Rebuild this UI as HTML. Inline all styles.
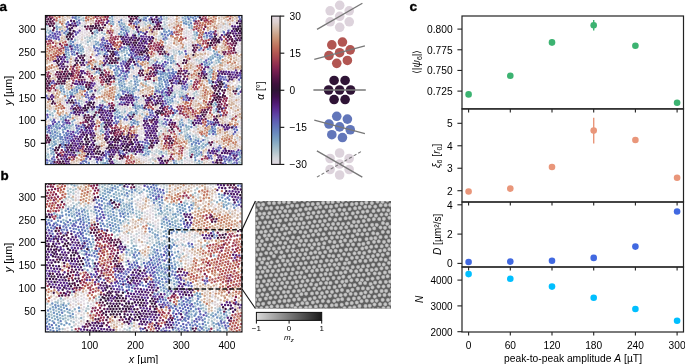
<!DOCTYPE html>
<html><head><meta charset="utf-8"><style>html,body{margin:0;padding:0;background:#fff;width:685px;height:364px;overflow:hidden}svg{display:block;will-change:transform}text{font-family:"Liberation Sans",sans-serif}</style></head>
<body><svg width="685" height="364" viewBox="0 0 685 364" font-family="Liberation Sans, sans-serif"><defs><clipPath id="clip1"><rect x="45.4" y="15.5" width="196.6" height="149.1"/></clipPath><clipPath id="clip2"><rect x="45.4" y="183.7" width="196.6" height="148.3"/></clipPath><linearGradient id="twg" x1="0" y1="0" x2="0" y2="1"><stop offset="0.000" stop-color="#e2d9e2"/><stop offset="0.042" stop-color="#ddd0ce"/><stop offset="0.083" stop-color="#d4bcac"/><stop offset="0.125" stop-color="#cca389"/><stop offset="0.167" stop-color="#c68a6d"/><stop offset="0.208" stop-color="#be6f5b"/><stop offset="0.250" stop-color="#b25652"/><stop offset="0.292" stop-color="#a24050"/><stop offset="0.333" stop-color="#8e2c50"/><stop offset="0.375" stop-color="#741e4f"/><stop offset="0.417" stop-color="#581647"/><stop offset="0.458" stop-color="#3f123d"/><stop offset="0.500" stop-color="#2f1436"/><stop offset="0.542" stop-color="#3d114d"/><stop offset="0.583" stop-color="#4e186f"/><stop offset="0.625" stop-color="#592a8f"/><stop offset="0.667" stop-color="#5e43a5"/><stop offset="0.708" stop-color="#5f5eb3"/><stop offset="0.750" stop-color="#6276ba"/><stop offset="0.792" stop-color="#6b8cbf"/><stop offset="0.833" stop-color="#7ba1c2"/><stop offset="0.875" stop-color="#95b5c7"/><stop offset="0.917" stop-color="#b3c6ce"/><stop offset="0.958" stop-color="#d1d5da"/><stop offset="1.000" stop-color="#e2d9e2"/></linearGradient><radialGradient id="spot"><stop offset="0" stop-color="#cdcdcd"/><stop offset="0.4" stop-color="#c4c4c4"/><stop offset="0.72" stop-color="#969696"/><stop offset="1" stop-color="#5e5e5e" stop-opacity="0"/></radialGradient><clipPath id="gclip"><rect x="255.4" y="201.0" width="135.6" height="107.5"/></clipPath><linearGradient id="gg" x1="0" x2="1"><stop offset="0" stop-color="#dadada"/><stop offset="1" stop-color="#1a1a1a"/></linearGradient></defs><g stroke-width="2.45" stroke-linecap="round" fill="none" clip-path="url(#clip1)"><path d="M96.5 59.8h.01M133.8 70.8h.01M234.8 24.6h.01M187.2 162.4h.01M87.0 31.5h.01M79.9 27.5h.01M126.3 15.7h.01M187.3 165.2h.01M94.3 55.8h.01M178.9 59.4h.01M171.9 21.4h.01M51.5 62.1h.01M179.1 89.2h.01M198.2 159.8h.01M89.0 52.1h.01M216.3 144.5h.01M100.1 99.8h.01M158.7 56.0h.01M73.2 63.6h.01M220.5 127.3h.01M171.2 48.6h.01M172.2 29.3h.01M188.8 37.0h.01M84.3 35.8h.01M184.7 155.5h.01M220.5 29.4h.01M184.1 34.3h.01M237.6 143.6h.01M196.7 64.0h.01M131.7 33.2h.01M180.3 45.8h.01M190.5 92.7h.01M175.8 98.6h.01M221.1 42.6h.01M68.7 60.5h.01M124.1 121.1h.01M209.4 148.5h.01M186.5 35.8h.01M144.0 138.2h.01M167.4 158.9h.01M94.8 53.2h.01M221.2 151.2h.01M178.0 97.0h.01M204.5 56.2h.01M209.4 137.9h.01M66.5 107.8h.01M169.0 41.6h.01M141.5 131.4h.01M186.6 122.4h.01M241.0 98.0h.01M97.1 103.3h.01M200.4 158.5h.01M107.8 26.5h.01M188.9 39.6h.01M82.4 23.4h.01M160.8 116.0h.01M82.6 67.8h.01M242.4 140.8h.01M151.7 65.5h.01M224.6 69.2h.01M204.3 58.8h.01M99.9 37.4h.01M98.9 55.8h.01M104.2 68.6h.01M131.4 30.7h.01M138.0 92.2h.01M80.2 116.0h.01M142.9 24.0h.01M128.7 19.7h.01M213.9 137.6h.01M95.2 93.0h.01M238.8 102.0h.01M58.0 119.0h.01M136.4 72.2h.01M201.5 51.0h.01M126.9 113.5h.01M144.0 159.9h.01M239.9 142.1h.01M79.8 35.6h.01M89.0 54.8h.01M200.4 155.8h.01M171.1 53.7h.01M50.3 117.4h.01M229.8 26.6h.01M119.4 16.9h.01M68.7 63.5h.01M139.2 130.3h.01M241.8 80.7h.01M121.5 15.5h.01M84.8 32.8h.01M167.3 156.4h.01M66.5 64.8h.01M227.7 114.7h.01M242.1 143.5h.01M141.7 155.8h.01M51.3 110.1h.01M196.8 51.1h.01M60.4 120.6h.01M206.9 147.3h.01M217.2 50.3h.01M144.1 130.0h.01M123.7 164.8h.01M129.0 118.6h.01M235.9 49.0h.01M189.5 158.3h.01M79.9 32.9h.01M194.9 130.4h.01M162.9 119.9h.01M174.7 30.7h.01M168.4 15.7h.01M93.2 88.9h.01M191.8 58.8h.01M73.0 47.8h.01M184.2 126.4h.01M71.3 105.0h.01M162.7 159.1h.01" stroke="#e2d9e2"/><path d="M168.9 52.4h.01M75.2 38.4h.01M150.7 162.1h.01M97.7 94.3h.01M166.9 22.9h.01M179.0 20.5h.01M207.8 69.7h.01M211.7 136.3h.01M213.9 62.2h.01M105.7 65.4h.01M224.8 66.3h.01M188.9 45.2h.01M192.5 134.6h.01M146.0 164.1h.01M93.7 44.1h.01M229.7 84.7h.01M120.2 108.8h.01M84.5 24.8h.01M50.5 155.7h.01M240.9 133.6h.01M140.7 25.4h.01M181.2 58.3h.01M201.0 102.7h.01M121.7 18.4h.01M148.6 159.9h.01M94.5 162.7h.01M121.3 163.4h.01M187.2 154.1h.01M95.4 116.6h.01M188.2 91.5h.01M139.9 113.4h.01M129.2 70.6h.01M184.2 123.9h.01M232.0 130.0h.01M238.2 50.6h.01M194.0 128.2h.01M189.2 145.1h.01M58.1 116.6h.01M173.0 15.8h.01M50.3 29.1h.01M137.4 115.3h.01M143.0 21.5h.01M236.5 98.0h.01M115.9 82.6h.01M83.1 42.6h.01M191.7 159.8h.01M240.5 51.8h.01M196.5 99.4h.01M194.8 164.3h.01M122.5 110.2h.01M242.0 83.3h.01M114.7 30.4h.01M120.1 106.2h.01M119.1 162.3h.01M45.5 150.4h.01M92.5 92.9h.01M192.6 94.2h.01M97.9 117.8h.01M134.9 118.9h.01M139.5 110.4h.01M153.6 59.3h.01M99.6 128.3h.01M92.2 164.4h.01M77.7 36.9h.01M52.9 118.3h.01M153.6 84.6h.01M160.8 118.8h.01M151.3 80.4h.01M126.5 83.6h.01M142.2 111.6h.01M183.3 91.4h.01M187.2 159.7h.01M115.0 100.9h.01M126.2 18.2h.01M208.8 160.0h.01M102.5 36.3h.01M192.8 35.5h.01M114.7 165.2h.01M161.0 38.1h.01M186.5 30.4h.01M206.9 164.4h.01M114.6 17.0h.01M227.4 28.0h.01M196.4 61.4h.01M141.5 137.1h.01M139.1 103.5h.01M241.0 103.4h.01M126.3 21.1h.01M81.1 41.4h.01M223.0 25.5h.01M236.3 95.1h.01M141.6 158.6h.01M176.8 85.3h.01M178.2 47.1h.01M151.6 83.1h.01M140.6 22.9h.01M90.3 94.3h.01M88.8 49.2h.01M86.7 50.7h.01M87.5 79.1h.01M179.0 15.1h.01M222.7 28.0h.01M126.9 107.3h.01M183.2 56.9h.01M209.4 146.0h.01M214.0 146.0h.01M98.7 58.5h.01M186.4 49.3h.01M85.0 69.3h.01M96.8 38.7h.01M91.3 45.3h.01M71.2 129.0h.01M196.4 129.4h.01M68.8 106.4h.01M216.5 113.6h.01M89.2 160.4h.01M220.6 31.9h.01M161.3 133.8h.01M104.2 31.1h.01M188.6 53.2h.01M171.2 163.7h.01M114.5 22.3h.01M174.6 89.0h.01M218.0 30.8h.01M91.4 42.7h.01M58.9 86.5h.01M124.3 123.8h.01M98.6 142.4h.01M189.5 160.9h.01M121.6 160.9h.01M139.2 135.5h.01M115.1 103.5h.01M238.0 45.1h.01M240.8 128.2h.01M210.3 86.3h.01M131.9 72.2h.01M83.2 15.2h.01M59.3 89.0h.01M177.5 131.4h.01M86.7 58.8h.01M238.8 96.7h.01M99.7 34.3h.01M95.8 131.0h.01M96.3 84.7h.01M229.6 134.0h.01M177.2 93.1h.01M189.5 163.6h.01M85.7 43.8h.01M94.0 160.1h.01M92.0 161.6h.01M77.6 39.7h.01M47.3 146.4h.01M166.9 25.9h.01M84.0 102.5h.01M186.4 33.0h.01M168.6 162.2h.01M165.0 27.1h.01M225.0 21.3h.01M116.9 78.4h.01M171.2 43.0h.01M47.8 151.7h.01M85.4 40.9h.01M194.5 43.9h.01M154.5 151.1h.01M171.3 51.0h.01M157.0 145.7h.01M189.6 147.9h.01M205.5 142.2h.01M220.6 60.3h.01M230.1 116.0h.01M188.6 82.8h.01M159.8 94.1h.01M79.9 24.8h.01M165.4 45.6h.01M82.0 106.8h.01M163.2 59.0h.01M236.4 133.7h.01M236.5 87.2h.01M104.3 130.5h.01M66.5 105.1h.01M232.4 117.3h.01M225.1 131.3h.01M183.4 54.4h.01M227.2 67.6h.01M80.6 125.2h.01M198.9 95.2h.01M184.7 113.2h.01M53.7 109.1h.01M158.0 53.6h.01M84.8 113.1h.01M119.3 30.3h.01M139.2 154.5h.01M97.6 65.0h.01M124.1 22.1h.01M143.3 26.0h.01M227.6 25.3h.01M127.7 109.0h.01" stroke="#d5d6dc"/><path d="M195.4 36.7h.01M62.1 93.7h.01M49.8 111.7h.01M148.4 85.3h.01M174.2 54.5h.01M97.8 91.8h.01M89.7 112.3h.01M152.6 158.0h.01M118.9 91.0h.01M197.0 94.5h.01M116.5 89.6h.01M124.1 113.2h.01M96.7 36.0h.01M174.5 91.9h.01M143.5 82.9h.01M229.8 29.5h.01M115.3 106.3h.01M238.4 121.5h.01M58.4 145.0h.01M199.0 60.7h.01M102.7 54.5h.01M97.3 62.4h.01M242.8 47.6h.01M166.6 20.1h.01M165.9 67.2h.01M117.2 163.7h.01M67.1 90.5h.01M152.1 152.6h.01M164.2 19.0h.01M158.7 36.6h.01M121.9 114.8h.01M214.3 64.8h.01M93.5 41.4h.01M80.9 44.0h.01M184.8 134.4h.01M237.4 138.3h.01M151.7 63.0h.01M185.8 92.6h.01M182.0 162.8h.01M156.5 152.0h.01M133.8 85.1h.01M87.6 39.7h.01M58.4 20.6h.01M139.3 122.1h.01M239.7 82.1h.01M230.2 118.8h.01M170.3 118.5h.01M167.3 28.3h.01M164.3 21.9h.01M92.3 39.1h.01M92.1 111.0h.01M129.0 123.8h.01M113.6 84.0h.01M77.4 154.8h.01M117.7 107.2h.01M159.0 132.9h.01M141.5 16.2h.01M85.0 38.1h.01M156.6 149.7h.01M208.3 75.7h.01M167.5 128.3h.01M188.8 139.8h.01M159.2 151.0h.01M81.8 104.0h.01M143.8 97.9h.01M176.5 53.2h.01M96.4 144.0h.01M101.1 85.8h.01M58.5 142.3h.01M148.0 22.7h.01M158.7 39.4h.01M56.4 24.9h.01M197.1 163.0h.01M73.6 129.9h.01M158.3 59.0h.01M130.2 152.1h.01M213.7 109.8h.01M186.0 46.5h.01M173.8 52.0h.01M184.2 129.1h.01M186.8 132.8h.01M193.6 139.3h.01M116.8 161.1h.01M87.4 36.9h.01M95.6 119.4h.01M157.2 93.0h.01M175.4 61.5h.01M132.0 89.3h.01M56.0 22.5h.01M150.4 159.5h.01M181.5 90.0h.01M136.9 104.6h.01M194.6 161.7h.01M129.2 85.6h.01M192.9 38.3h.01M92.2 113.4h.01M239.2 164.4h.01M68.8 42.5h.01M179.4 161.6h.01M88.1 44.9h.01M47.5 27.7h.01M164.0 153.1h.01M207.9 140.7h.01M58.5 23.6h.01M114.8 162.8h.01M151.3 60.0h.01M118.3 83.7h.01M121.8 112.1h.01M222.8 30.9h.01M149.6 64.4h.01M170.7 69.4h.01M146.3 155.9h.01M73.4 127.4h.01M121.9 53.3h.01M154.5 153.9h.01M176.8 90.5h.01M214.1 143.2h.01M103.8 125.4h.01M173.5 49.9h.01M124.6 108.7h.01M168.0 65.6h.01M100.1 93.3h.01M131.2 83.7h.01M95.1 63.9h.01M218.9 152.6h.01M160.5 32.6h.01M82.3 26.3h.01M160.7 35.3h.01M204.7 39.1h.01M190.2 133.2h.01M141.2 99.4h.01M183.5 94.0h.01M197.1 165.5h.01M208.5 78.5h.01M225.4 24.0h.01M116.6 92.4h.01M199.3 63.3h.01M201.5 61.9h.01M241.2 160.2h.01M175.6 101.1h.01M163.4 56.2h.01M103.0 103.8h.01M122.3 56.1h.01M80.7 16.5h.01M156.0 57.8h.01M176.2 50.5h.01M159.9 126.0h.01M100.5 102.6h.01M99.0 87.4h.01M212.0 66.5h.01M162.5 25.9h.01M173.4 102.7h.01M207.5 137.9h.01M189.1 85.5h.01M177.6 114.3h.01M65.9 38.8h.01M162.7 126.2h.01M181.8 95.2h.01M195.7 134.8h.01M173.2 63.0h.01M144.8 115.4h.01M68.7 103.4h.01M94.4 109.4h.01M144.5 22.7h.01M208.0 73.1h.01M236.5 158.1h.01M193.9 147.3h.01M82.4 114.6h.01M129.9 28.5h.01M133.5 30.8h.01M134.1 98.3h.01" stroke="#bfccd3"/><path d="M181.3 87.9h.01M159.5 123.3h.01M205.2 139.6h.01M166.2 151.6h.01M56.8 130.5h.01M100.7 162.0h.01M178.0 102.2h.01M162.0 124.3h.01M46.1 158.5h.01M71.1 126.3h.01M238.7 86.0h.01M143.2 80.1h.01M168.3 68.4h.01M133.9 33.6h.01M189.8 153.2h.01M115.9 85.1h.01M119.2 93.6h.01M201.9 148.6h.01M162.0 61.3h.01M201.9 162.3h.01M154.9 91.8h.01M128.0 58.4h.01M141.6 19.1h.01M215.9 60.6h.01M171.9 95.9h.01M163.8 16.5h.01M164.7 24.5h.01M184.0 48.2h.01M176.1 161.0h.01M81.3 19.5h.01M142.4 86.9h.01M153.6 61.3h.01M83.4 18.1h.01M214.1 106.3h.01M81.5 101.3h.01M205.1 136.7h.01M55.8 141.3h.01M181.7 160.1h.01M120.4 60.3h.01M159.2 120.3h.01M133.0 153.4h.01M114.4 160.0h.01M45.2 26.7h.01M102.0 32.8h.01M196.0 137.4h.01M210.4 50.0h.01M119.4 52.3h.01M191.1 83.9h.01M58.1 139.8h.01M127.6 29.8h.01M161.1 131.0h.01M82.3 96.7h.01M194.1 152.0h.01M125.2 89.5h.01M102.2 70.1h.01M209.9 68.4h.01M213.9 112.4h.01M56.8 87.8h.01M99.2 90.3h.01M129.3 82.7h.01M59.2 131.6h.01M241.4 162.9h.01M213.0 104.5h.01M94.7 37.7h.01M122.3 58.8h.01M159.3 153.5h.01M179.5 94.5h.01M83.4 51.7h.01M189.7 150.3h.01M182.2 165.8h.01M184.9 158.3h.01M52.4 113.2h.01M101.7 126.8h.01M172.4 116.7h.01M101.0 133.9h.01M166.4 14.9h.01M241.1 86.9h.01M165.0 40.2h.01M67.3 93.1h.01M165.9 78.0h.01M99.3 66.1h.01M231.3 163.1h.01M161.8 154.4h.01M103.8 87.2h.01M196.3 126.7h.01M193.4 136.3h.01M51.6 141.2h.01M194.2 31.7h.01M209.0 61.8h.01M51.9 143.8h.01M179.7 164.6h.01M196.4 91.7h.01M150.9 165.2h.01M79.7 153.3h.01M135.8 32.2h.01M131.6 86.4h.01M165.1 29.7h.01M89.9 38.0h.01M102.5 51.7h.01M166.6 17.7h.01M153.1 163.4h.01M241.7 165.6h.01M216.4 63.1h.01M166.4 154.2h.01M45.0 148.0h.01M164.9 127.0h.01M117.5 102.1h.01M101.9 67.3h.01M125.2 26.1h.01M239.2 161.9h.01M158.1 87.7h.01M45.1 112.3h.01M145.9 84.0h.01M124.1 51.9h.01M149.1 61.8h.01M186.8 130.0h.01M77.3 152.2h.01M134.3 78.9h.01M100.1 50.6h.01M47.8 149.1h.01M45.3 29.3h.01M117.7 104.9h.01M179.4 91.6h.01M48.5 157.3h.01M101.5 88.6h.01M101.0 164.4h.01M156.1 83.5h.01M191.8 148.9h.01M165.5 42.9h.01M189.0 122.4h.01M189.0 142.3h.01M110.3 20.9h.01M184.6 131.4h.01M89.5 109.7h.01M194.3 93.5h.01M94.4 111.8h.01M145.6 24.4h.01M101.9 64.7h.01M152.9 96.0h.01M166.2 69.7h.01M144.1 110.2h.01M141.2 154.1h.01M47.7 30.3h.01M159.0 135.2h.01M122.5 24.7h.01M158.5 84.8h.01M94.6 73.8h.01M69.1 45.3h.01M138.5 35.9h.01M51.1 161.1h.01M128.3 153.7h.01M172.5 93.2h.01M70.0 38.5h.01M89.8 89.0h.01M189.5 15.3h.01M194.6 96.1h.01M94.8 165.5h.01M115.6 79.7h.01M197.0 146.2h.01M119.4 164.8h.01M61.3 27.3h.01M155.1 159.2h.01M90.0 40.7h.01M201.2 59.4h.01M105.1 101.9h.01M118.2 110.2h.01M196.5 59.6h.01M137.4 112.0h.01" stroke="#a6bfca"/><path d="M191.6 123.7h.01M191.9 151.7h.01M104.5 34.0h.01M212.1 83.8h.01M188.1 137.4h.01M59.3 27.4h.01M195.4 39.3h.01M203.3 143.7h.01M101.8 129.5h.01M188.8 119.7h.01M127.5 27.2h.01M211.6 132.2h.01M231.2 160.7h.01M51.1 138.3h.01M75.1 40.3h.01M138.0 109.1h.01M155.9 89.3h.01M69.4 57.7h.01M191.7 146.1h.01M66.1 34.4h.01M89.4 68.6h.01M199.1 151.5h.01M81.3 53.7h.01M186.6 127.5h.01M61.1 119.1h.01M220.9 63.1h.01M181.8 52.4h.01M109.8 18.0h.01M201.9 165.1h.01M125.3 28.6h.01M216.7 52.2h.01M191.4 121.0h.01M49.5 144.8h.01M159.6 62.9h.01M215.1 102.9h.01M54.6 111.3h.01M55.8 125.3h.01M100.3 53.4h.01M90.1 91.7h.01M143.8 17.5h.01M153.3 24.4h.01M66.7 124.8h.01M127.1 53.2h.01M98.6 45.2h.01M127.1 87.7h.01M189.0 129.1h.01M210.5 57.3h.01M69.5 128.3h.01M136.7 102.2h.01M121.7 34.8h.01M60.5 85.7h.01M136.3 89.4h.01M48.7 32.9h.01M134.5 103.7h.01M194.6 34.4h.01M199.5 164.0h.01M122.5 88.5h.01M120.2 57.6h.01M45.7 155.9h.01M202.7 135.7h.01M153.9 82.4h.01M45.0 145.2h.01M133.9 112.7h.01M48.0 154.5h.01M165.7 58.5h.01M97.4 115.2h.01M46.0 32.0h.01M131.2 81.1h.01M67.9 98.0h.01M218.8 61.8h.01M130.3 67.3h.01M146.0 81.3h.01M161.7 121.6h.01M68.9 55.0h.01M126.7 50.6h.01M191.6 25.9h.01M175.7 64.3h.01M102.7 101.0h.01M58.4 126.2h.01M191.9 28.5h.01M190.5 20.5h.01M95.1 34.4h.01M175.0 94.5h.01M186.0 139.1h.01M142.3 114.3h.01M179.8 54.2h.01M125.3 57.7h.01M103.1 160.3h.01M216.3 110.9h.01M52.8 115.6h.01M129.6 88.2h.01M64.4 94.5h.01M212.1 72.5h.01M228.7 162.0h.01M212.6 55.8h.01M164.7 95.5h.01M170.4 57.8h.01M121.5 83.2h.01M92.0 36.4h.01M188.7 126.4h.01M87.2 67.3h.01M185.1 16.2h.01M119.9 87.5h.01M47.5 110.8h.01M83.6 20.6h.01M103.2 163.0h.01M170.6 102.7h.01M179.6 121.7h.01M45.5 153.1h.01M188.4 22.3h.01M139.1 17.6h.01M181.7 92.6h.01M161.7 81.5h.01M82.3 46.7h.01M51.0 150.6h.01M218.3 60.0h.01M210.3 74.5h.01M170.6 66.8h.01M238.8 88.5h.01M191.2 140.9h.01M145.6 150.6h.01M163.2 36.4h.01M149.9 151.5h.01M169.7 97.6h.01M201.6 145.7h.01M229.4 164.7h.01M87.8 42.1h.01M112.4 19.1h.01M198.2 148.8h.01M190.0 155.6h.01M198.4 138.7h.01M50.6 119.7h.01M117.0 51.0h.01M78.9 52.7h.01M134.2 91.1h.01M124.9 111.5h.01M47.2 25.1h.01M139.5 80.6h.01M178.2 126.1h.01M167.7 131.3h.01M79.1 100.4h.01M133.2 107.4h.01M150.1 21.3h.01M124.3 24.1h.01M74.5 88.8h.01M172.7 58.5h.01M120.4 95.7h.01M184.8 95.9h.01" stroke="#8eb1c5"/><path d="M167.3 96.5h.01M182.6 17.8h.01M52.5 146.3h.01M183.3 20.6h.01M65.2 115.5h.01M55.8 137.7h.01M161.4 152.0h.01M150.7 23.4h.01M199.3 147.2h.01M212.9 58.3h.01M120.7 77.7h.01M53.9 154.5h.01M137.4 82.3h.01M51.4 153.4h.01M214.8 54.0h.01M201.9 154.9h.01M207.3 65.4h.01M219.7 55.7h.01M119.4 112.7h.01M239.6 154.7h.01M54.4 129.4h.01M62.8 86.4h.01M95.7 41.6h.01M155.6 86.8h.01M194.6 154.7h.01M50.1 114.6h.01M205.6 145.3h.01M129.5 113.3h.01M96.2 44.3h.01M63.5 89.3h.01M117.5 73.3h.01M66.2 54.3h.01M136.9 79.4h.01M114.8 113.5h.01M172.3 56.2h.01M94.6 31.7h.01M62.8 129.8h.01M76.5 19.2h.01M160.8 76.4h.01M80.5 48.5h.01M70.0 91.9h.01M110.4 65.5h.01M128.7 31.5h.01M56.0 143.8h.01M118.7 79.6h.01M130.2 93.5h.01M196.6 153.1h.01M79.8 45.5h.01M131.7 114.5h.01M59.7 124.6h.01M195.8 147.7h.01M69.2 125.6h.01M67.2 59.6h.01M126.1 48.0h.01M123.9 33.0h.01M60.7 141.6h.01M191.2 81.1h.01M128.3 46.1h.01M193.8 149.3h.01M123.6 81.5h.01M189.4 27.6h.01M162.8 86.7h.01M170.8 60.4h.01M181.2 129.6h.01M215.2 56.6h.01M63.6 119.9h.01M74.5 91.1h.01M134.9 120.9h.01M124.6 86.7h.01M118.7 97.4h.01M68.4 52.6h.01M53.3 151.8h.01M135.3 123.6h.01M78.5 85.4h.01M165.0 72.8h.01M136.4 113.4h.01M170.1 100.3h.01M185.4 18.8h.01M195.3 145.1h.01M57.1 29.3h.01M215.8 134.4h.01M182.3 122.6h.01M68.0 32.4h.01M119.6 84.9h.01M116.8 111.7h.01M74.4 119.9h.01M103.1 132.0h.01M119.6 24.6h.01M213.9 51.3h.01M103.4 123.0h.01M66.8 56.9h.01M83.0 49.3h.01M181.6 132.4h.01M210.9 59.8h.01M54.1 141.9h.01M180.3 96.8h.01M110.7 23.4h.01M203.5 147.2h.01M70.5 94.4h.01M199.2 161.3h.01M159.6 83.3h.01M99.2 73.1h.01M72.4 92.8h.01M131.1 122.2h.01M121.1 32.1h.01M120.3 118.9h.01M185.9 21.5h.01M137.6 106.5h.01M78.5 14.8h.01M209.7 71.7h.01M60.5 116.3h.01M112.8 66.1h.01M117.3 114.6h.01M72.3 121.6h.01M125.7 60.2h.01M131.4 111.9h.01M57.3 133.2h.01M211.1 129.5h.01M140.1 107.4h.01M138.0 85.1h.01M197.2 35.1h.01M210.8 77.1h.01M61.2 91.0h.01M63.1 117.4h.01M209.3 131.3h.01M83.6 87.3h.01M176.6 163.8h.01M180.1 124.3h.01M113.2 24.2h.01M125.0 55.1h.01M81.1 50.9h.01M115.8 108.9h.01M115.8 75.2h.01M116.0 96.6h.01M167.4 73.7h.01M69.8 114.7h.01M199.1 154.1h.01M165.0 98.5h.01M162.0 84.3h.01M165.5 75.3h.01M167.6 56.8h.01M121.7 51.0h.01M107.0 161.3h.01M100.6 131.1h.01M185.6 136.4h.01M72.7 124.4h.01M91.9 69.5h.01M197.2 155.7h.01M53.9 139.2h.01M78.8 17.4h.01M121.7 23.1h.01M66.9 127.4h.01M122.8 76.3h.01M98.5 70.4h.01M113.9 14.8h.01M98.1 42.5h.01M147.3 148.8h.01M141.3 69.0h.01M160.8 88.8h.01M217.6 57.6h.01M52.1 131.2h.01M189.0 25.0h.01M135.9 86.9h.01M76.2 16.5h.01M133.0 94.3h.01M179.1 51.5h.01M52.7 133.8h.01M54.5 144.8h.01M124.4 84.1h.01M168.7 104.6h.01M138.5 75.2h.01M163.5 28.9h.01M101.4 124.4h.01M117.1 70.7h.01M186.0 125.5h.01M164.1 93.1h.01M75.3 93.6h.01M206.9 37.4h.01M163.0 74.3h.01M77.2 91.9h.01M73.5 49.6h.01M167.9 76.2h.01M187.6 134.6h.01M211.7 70.0h.01M96.7 29.9h.01M128.8 48.7h.01M167.0 38.8h.01M124.0 49.7h.01M127.1 89.7h.01M139.3 105.9h.01M149.3 144.3h.01M203.7 33.8h.01M158.5 90.3h.01M207.6 143.8h.01M120.6 90.0h.01" stroke="#7ba1c2"/><path d="M145.0 148.1h.01M164.1 31.5h.01M196.7 32.7h.01M211.6 81.1h.01M148.4 154.3h.01M209.4 133.9h.01M207.9 49.1h.01M48.0 165.2h.01M132.6 65.6h.01M132.4 91.8h.01M110.7 68.1h.01M78.9 88.2h.01M135.9 110.9h.01M163.3 77.0h.01M133.0 120.1h.01M190.7 17.2h.01M186.3 23.9h.01M60.2 136.7h.01M115.3 72.7h.01M81.2 86.4h.01M144.5 145.4h.01M196.2 150.4h.01M115.6 65.4h.01M60.1 134.2h.01M184.0 23.2h.01M119.9 116.3h.01M165.3 56.0h.01M168.1 102.1h.01M168.1 59.6h.01M173.6 61.3h.01M65.7 118.2h.01M135.4 84.2h.01M57.7 136.1h.01M164.0 79.8h.01M160.0 86.1h.01M124.1 73.5h.01M158.4 73.7h.01M67.5 95.6h.01M137.4 121.8h.01M181.6 119.8h.01M73.3 110.7h.01M193.1 17.7h.01M158.9 78.0h.01M50.5 148.1h.01M195.7 140.2h.01M56.7 26.7h.01M220.1 58.3h.01M172.5 101.1h.01M167.4 99.4h.01M211.7 62.5h.01M76.4 87.3h.01M147.9 151.6h.01M73.6 45.0h.01M56.1 127.1h.01M64.2 91.8h.01M119.2 33.9h.01M112.6 21.6h.01M193.7 142.2h.01M197.8 16.6h.01M137.9 124.4h.01M169.0 30.8h.01M65.9 51.8h.01M167.2 89.6h.01M126.0 117.3h.01M204.8 64.7h.01M174.2 162.8h.01M74.6 54.8h.01M204.2 36.6h.01M116.3 99.1h.01M127.6 76.7h.01M135.1 105.7h.01M116.2 68.3h.01M169.8 33.7h.01M187.7 17.0h.01M204.3 62.0h.01M145.7 153.4h.01M81.5 88.9h.01M65.2 129.0h.01M161.0 78.9h.01M83.5 163.9h.01M171.1 62.9h.01M53.5 126.3h.01M209.5 64.2h.01M133.1 68.2h.01M209.6 82.8h.01M50.8 135.8h.01M88.9 162.9h.01M50.4 31.2h.01M70.9 43.8h.01M239.2 152.4h.01M122.0 85.8h.01M70.2 117.5h.01M57.0 123.7h.01M146.9 146.3h.01M133.9 76.3h.01M112.1 16.4h.01M201.0 141.6h.01M240.3 157.3h.01M195.1 157.5h.01M129.7 90.8h.01M46.8 129.3h.01M133.9 88.4h.01M97.3 32.6h.01M208.5 59.0h.01M105.2 163.1h.01M179.4 134.1h.01M222.4 56.6h.01M159.3 80.4h.01M60.9 88.2h.01M55.2 135.1h.01M147.6 16.0h.01M123.3 78.9h.01M180.8 126.9h.01M64.3 135.1h.01M134.9 81.4h.01M166.5 32.2h.01M122.3 116.9h.01M214.7 126.6h.01M53.3 136.7h.01M142.5 108.2h.01M70.7 41.1h.01M75.2 47.0h.01M83.7 89.5h.01M143.8 155.2h.01M216.1 104.6h.01M89.0 65.8h.01M62.2 31.0h.01M215.2 129.3h.01M131.8 124.9h.01M123.4 29.9h.01M143.0 149.7h.01M118.0 94.9h.01M72.2 94.7h.01M138.8 90.3h.01M162.2 94.7h.01M57.4 128.5h.01M121.2 20.3h.01M119.1 82.1h.01M94.1 45.9h.01M195.5 160.1h.01M107.8 64.7h.01M209.0 80.2h.01" stroke="#6d90c0"/><path d="M49.4 160.6h.01M167.7 82.5h.01M237.0 129.9h.01M128.7 72.3h.01M72.1 89.8h.01M66.2 133.1h.01M66.4 23.9h.01M62.7 121.9h.01M173.3 71.6h.01M97.5 109.6h.01M120.9 80.6h.01M242.8 158.0h.01M74.4 15.2h.01M172.2 98.6h.01M64.3 127.1h.01M68.3 49.9h.01M135.7 21.9h.01M118.8 68.9h.01M79.3 128.8h.01M191.0 23.3h.01M166.5 87.0h.01M162.7 72.2h.01M160.8 74.3h.01M138.5 97.6h.01M175.2 112.7h.01M51.5 128.3h.01M77.2 45.0h.01M58.9 121.9h.01M119.7 150.7h.01M62.8 139.6h.01M227.0 87.6h.01M174.5 165.6h.01M53.0 149.1h.01M135.8 58.5h.01M224.2 83.2h.01M77.7 25.0h.01M126.7 74.4h.01M173.4 114.8h.01M165.7 121.9h.01M115.3 116.6h.01M47.3 162.7h.01M191.9 144.1h.01M195.8 18.6h.01M143.8 19.8h.01M167.8 35.3h.01M146.2 20.6h.01M106.4 158.3h.01M165.1 81.8h.01M176.0 72.2h.01M219.9 145.6h.01M238.2 158.9h.01M62.1 137.1h.01M165.9 64.6h.01M120.6 153.0h.01M120.6 26.5h.01M198.2 140.9h.01M129.1 55.0h.01M46.2 126.7h.01M165.8 84.5h.01M75.7 132.6h.01M169.4 72.8h.01M212.7 128.5h.01M241.0 14.7h.01M63.9 144.8h.01M63.4 142.2h.01M123.6 27.1h.01M89.1 165.3h.01M138.9 34.1h.01M238.5 93.8h.01M73.1 42.0h.01M137.6 56.6h.01M116.0 121.2h.01M182.8 125.1h.01M171.9 73.2h.01M195.1 15.9h.01M119.1 21.9h.01M135.6 108.2h.01M142.1 105.5h.01M64.7 147.4h.01M47.6 132.2h.01M65.2 46.9h.01M190.7 139.0h.01M71.9 14.8h.01M133.6 123.0h.01M83.9 127.4h.01M136.5 76.9h.01M146.4 116.4h.01M63.3 132.3h.01M214.9 132.0h.01M136.7 24.2h.01M242.5 155.3h.01M145.2 15.3h.01M196.2 143.0h.01M160.4 71.6h.01M67.6 47.5h.01M220.9 114.9h.01M78.3 50.2h.01M75.5 49.5h.01M77.5 130.8h.01M149.9 112.5h.01M55.0 132.2h.01M77.1 22.3h.01M125.9 30.8h.01M97.8 164.5h.01M210.0 47.5h.01M76.9 89.9h.01M189.8 136.4h.01M137.3 63.7h.01M216.3 124.8h.01M185.5 97.6h.01M206.6 62.9h.01M140.1 141.6h.01M106.5 52.1h.01M45.5 164.6h.01M67.8 116.6h.01M145.8 18.1h.01M107.7 163.6h.01M224.8 34.7h.01M191.3 127.0h.01M61.5 144.0h.01M66.6 142.5h.01M96.5 72.2h.01M169.0 78.0h.01M164.3 105.6h.01M84.5 160.7h.01M44.2 114.2h.01M118.1 76.1h.01M133.3 57.8h.01M167.1 80.1h.01M91.7 91.0h.01M162.1 33.9h.01M65.7 100.2h.01M75.2 18.0h.01M60.4 138.8h.01M237.0 88.9h.01M104.9 54.0h.01M187.5 87.5h.01M143.7 60.3h.01M172.7 69.2h.01M174.5 96.7h.01M64.3 33.1h.01M159.7 21.0h.01M117.5 60.2h.01M157.6 70.9h.01M103.0 164.9h.01M50.0 84.8h.01" stroke="#647ebc"/><path d="M242.6 19.8h.01M52.0 158.8h.01M158.9 18.6h.01M201.2 152.4h.01M143.3 33.0h.01M50.7 125.7h.01M123.3 93.8h.01M186.9 84.6h.01M71.6 51.5h.01M201.2 48.3h.01M50.3 133.0h.01M226.4 79.8h.01M126.9 119.8h.01M212.0 36.8h.01M51.0 163.5h.01M86.3 158.8h.01M155.5 63.6h.01M97.8 50.9h.01M65.6 140.0h.01M203.2 140.1h.01M65.9 49.4h.01M186.3 100.2h.01M234.3 129.3h.01M148.9 116.9h.01M86.1 97.1h.01M121.6 29.0h.01M47.8 117.3h.01M122.7 91.2h.01M105.8 155.9h.01M107.4 107.5h.01M94.3 47.8h.01M199.0 143.6h.01M221.1 78.7h.01M46.1 36.4h.01M97.1 161.9h.01M87.5 111.9h.01M103.2 44.9h.01M108.8 159.1h.01M59.8 128.3h.01M76.2 125.5h.01M239.1 16.8h.01M130.1 50.5h.01M82.7 161.4h.01M117.9 117.5h.01M74.2 52.1h.01M138.5 22.2h.01M79.1 20.4h.01M104.9 106.8h.01M124.7 35.2h.01M101.3 46.8h.01M186.1 53.9h.01M164.6 89.1h.01M86.7 164.6h.01M242.0 17.3h.01M167.7 62.8h.01M140.6 66.5h.01M83.0 124.8h.01M140.2 57.2h.01M96.9 48.3h.01M118.4 55.3h.01M173.9 73.9h.01M68.6 133.6h.01M224.2 158.9h.01M193.9 20.4h.01M153.0 15.6h.01M108.8 154.4h.01M164.9 34.6h.01M135.7 97.0h.01M66.9 135.3h.01M199.3 50.0h.01M225.5 77.3h.01M159.4 92.0h.01M53.9 38.3h.01M104.8 50.2h.01M168.5 85.1h.01M239.9 19.3h.01M228.7 157.5h.01M169.3 108.1h.01M151.9 110.5h.01M173.5 160.3h.01M234.5 153.8h.01M125.1 91.6h.01M211.7 158.5h.01M177.9 81.3h.01M171.6 32.0h.01M161.5 19.2h.01M114.3 70.0h.01M209.7 36.1h.01M104.0 47.8h.01M99.4 48.8h.01M89.5 100.3h.01M157.0 61.8h.01M136.5 99.6h.01M61.9 126.2h.01M170.0 75.4h.01M163.6 39.1h.01M188.7 19.0h.01M45.8 119.2h.01M152.5 113.0h.01M52.5 32.9h.01M142.8 57.6h.01M213.3 32.2h.01M105.1 43.1h.01M208.5 123.8h.01M87.0 92.5h.01M234.5 162.6h.01M70.0 138.6h.01M233.6 126.5h.01M233.4 134.0h.01M65.1 137.4h.01M62.1 146.8h.01M86.2 161.8h.01M192.6 15.1h.01M170.8 78.0h.01M223.9 32.2h.01M185.7 89.4h.01M151.6 117.6h.01M98.5 53.6h.01M230.3 155.5h.01M226.9 159.5h.01M161.0 16.7h.01M241.0 150.6h.01M210.7 31.6h.01M136.6 61.1h.01M211.1 156.0h.01M144.5 118.4h.01M121.4 102.2h.01M72.3 54.2h.01M207.8 121.0h.01M77.5 47.5h.01M183.0 88.6h.01M225.0 161.4h.01M53.7 156.9h.01M67.8 29.3h.01M165.6 37.5h.01M121.4 73.1h.01M120.8 70.6h.01M171.1 106.2h.01M122.5 151.1h.01M78.7 103.4h.01M52.8 161.6h.01M140.8 32.1h.01M138.0 65.7h.01M216.6 109.0h.01M174.3 110.2h.01M66.0 31.3h.01M212.0 126.8h.01M48.6 125.6h.01M206.9 35.5h.01M218.9 150.2h.01M99.2 107.5h.01M83.8 116.2h.01M124.4 47.5h.01M182.9 96.7h.01M212.9 122.4h.01M232.1 153.3h.01M103.1 108.7h.01M146.3 109.1h.01M65.3 122.6h.01M72.1 46.3h.01M164.0 66.5h.01M182.5 86.0h.01M216.3 149.4h.01M74.2 104.7h.01M217.5 54.8h.01M213.1 131.0h.01M207.7 152.7h.01M162.7 90.7h.01" stroke="#606cb8"/><path d="M87.8 95.1h.01M223.1 163.4h.01M107.4 54.6h.01M222.6 76.9h.01M149.5 19.4h.01M168.4 70.3h.01M76.1 102.7h.01M240.8 77.8h.01M78.2 133.4h.01M65.2 150.1h.01M225.7 164.1h.01M163.7 123.6h.01M48.7 36.8h.01M52.5 121.6h.01M127.8 92.4h.01M118.2 66.4h.01M88.6 97.7h.01M165.2 101.2h.01M134.0 23.7h.01M177.0 110.9h.01M45.1 116.7h.01M73.6 134.6h.01M72.7 17.5h.01M142.6 142.0h.01M54.1 119.8h.01M172.3 34.3h.01M141.0 59.7h.01M113.9 123.0h.01M105.4 151.3h.01M237.3 154.4h.01M100.6 44.4h.01M57.5 34.1h.01M75.4 100.1h.01M120.9 63.4h.01M220.7 148.1h.01M145.3 142.7h.01M46.7 95.8h.01M59.1 39.4h.01M233.6 159.6h.01M123.6 64.0h.01M68.5 140.8h.01M232.9 164.5h.01M147.1 140.6h.01M102.5 42.4h.01M86.6 62.4h.01M44.7 161.9h.01M126.7 33.2h.01M95.1 50.3h.01M208.8 33.3h.01M96.6 55.4h.01M54.5 159.7h.01M119.7 75.0h.01M147.8 143.3h.01M149.1 109.7h.01M123.1 153.7h.01M122.6 68.5h.01M124.5 119.3h.01M106.2 153.8h.01M172.7 76.0h.01M239.0 79.7h.01M220.2 76.2h.01M71.3 112.8h.01M211.2 34.2h.01M231.2 158.2h.01M146.9 118.9h.01M162.8 14.5h.01M45.1 131.8h.01M80.8 163.4h.01M219.8 112.1h.01M128.0 115.3h.01M71.9 136.7h.01M115.8 54.7h.01M51.3 37.6h.01M124.9 76.3h.01M51.8 82.8h.01M240.2 75.3h.01M104.2 40.1h.01M235.1 132.0h.01M96.9 107.0h.01M223.8 79.4h.01M133.5 53.5h.01M81.4 126.9h.01M116.7 123.5h.01M47.7 98.3h.01M76.8 128.2h.01M117.2 52.8h.01M206.2 60.5h.01M63.6 124.4h.01M223.4 156.3h.01M166.5 124.4h.01M224.5 87.0h.01M166.6 94.9h.01M131.0 53.0h.01M218.3 147.6h.01M226.3 85.2h.01M205.0 71.7h.01M213.3 134.0h.01M46.8 39.0h.01M185.0 86.8h.01M125.7 78.9h.01M236.7 152.0h.01M70.6 131.6h.01M56.8 31.6h.01M118.5 121.6h.01M53.6 164.0h.01M88.1 156.7h.01M45.1 97.5h.01M60.3 34.8h.01M69.4 136.1h.01M166.1 103.6h.01M69.1 143.1h.01M46.9 160.2h.01M123.1 61.5h.01M115.1 52.3h.01M120.0 49.0h.01M49.2 130.4h.01M210.6 121.7h.01M68.0 22.2h.01M53.1 35.7h.01M242.9 75.8h.01M77.8 32.5h.01M208.4 155.4h.01M115.0 118.5h.01M110.3 43.9h.01M79.6 23.1h.01M96.3 159.3h.01M50.4 35.0h.01M200.2 45.5h.01M103.4 37.9h.01M229.4 160.2h.01M137.5 19.6h.01M144.6 55.8h.01M79.5 105.9h.01M228.4 30.8h.01M197.8 44.8h.01M133.0 96.4h.01M125.5 62.1h.01M131.7 55.4h.01M236.9 163.1h.01M156.7 91.0h.01M124.1 102.8h.01M163.1 64.0h.01M84.8 130.0h.01M206.7 125.7h.01M223.8 108.1h.01" stroke="#5f58b0"/><path d="M150.6 14.9h.01M176.4 83.4h.01M55.0 122.1h.01M153.4 115.6h.01M102.5 157.4h.01M151.2 17.6h.01M242.3 89.8h.01M59.5 32.3h.01M54.9 33.7h.01M236.2 127.3h.01M107.8 43.6h.01M101.7 39.8h.01M138.4 59.0h.01M121.7 47.2h.01M53.1 124.0h.01M185.4 51.3h.01M92.6 130.8h.01M67.8 130.9h.01M150.6 115.0h.01M76.0 34.5h.01M56.3 38.8h.01M173.8 82.9h.01M212.9 162.3h.01M125.9 71.8h.01M85.2 94.6h.01M145.7 131.3h.01M233.7 151.2h.01M75.2 31.8h.01M108.6 113.3h.01M206.0 33.0h.01M175.7 81.0h.01M55.6 36.2h.01M218.5 78.2h.01M121.7 66.1h.01M152.1 98.7h.01M172.0 108.8h.01M47.3 114.7h.01M78.6 126.1h.01M161.9 92.4h.01M49.5 39.6h.01M108.1 152.0h.01M165.8 92.3h.01M76.8 141.1h.01M99.9 105.3h.01M236.5 160.5h.01M72.3 23.4h.01M73.8 113.3h.01M133.0 51.0h.01M123.2 71.0h.01M225.8 156.9h.01M54.4 83.4h.01M210.3 38.6h.01M108.1 117.9h.01M165.2 61.9h.01M48.9 127.7h.01M108.0 134.2h.01M235.2 165.2h.01M106.9 40.9h.01M108.5 129.5h.01M209.1 157.8h.01M58.3 36.9h.01M183.6 99.4h.01M67.5 138.0h.01M234.3 72.5h.01M241.8 153.3h.01M135.0 55.7h.01M45.2 34.0h.01M104.0 60.8h.01M164.7 119.1h.01M70.2 98.1h.01M109.3 105.4h.01M72.8 139.3h.01M91.1 98.4h.01" stroke="#5e43a5"/><path d="M101.4 119.7h.01M146.6 57.1h.01M119.7 103.9h.01M120.7 141.0h.01M158.0 117.2h.01M79.3 146.2h.01M63.7 59.4h.01M64.5 158.9h.01M155.7 22.2h.01M69.5 123.2h.01M70.7 108.7h.01M137.1 151.8h.01M213.3 148.5h.01M161.3 98.8h.01M92.6 147.1h.01M92.0 151.9h.01M213.2 153.2h.01M92.9 99.2h.01M167.5 119.9h.01M141.2 36.2h.01M154.4 142.8h.01M77.9 143.7h.01M73.2 131.9h.01M140.7 40.9h.01M134.9 146.9h.01M62.4 56.9h.01M155.5 103.0h.01M102.1 49.6h.01M162.8 156.2h.01M100.7 112.4h.01M92.5 109.3h.01M231.7 72.3h.01M147.0 43.6h.01M108.3 20.9h.01M109.3 48.6h.01M161.6 65.8h.01M240.6 91.8h.01M94.5 83.4h.01M152.2 138.2h.01M81.1 139.1h.01M130.5 46.9h.01M53.4 80.9h.01M223.5 150.8h.01M134.1 37.8h.01M143.5 36.5h.01M199.0 118.6h.01M215.7 82.4h.01M88.5 132.9h.01M239.8 72.9h.01M106.7 131.7h.01M134.4 49.5h.01M67.1 26.7h.01M146.8 137.4h.01M175.3 76.1h.01M77.1 136.6h.01M71.2 134.1h.01M93.0 125.9h.01M147.5 39.3h.01M93.2 85.7h.01M226.2 71.8h.01M147.5 128.2h.01M238.3 150.0h.01M152.0 37.0h.01M67.1 122.8h.01M121.8 39.0h.01M154.2 100.5h.01M212.0 151.0h.01M68.9 152.1h.01M105.8 58.5h.01M162.7 96.6h.01M218.1 71.1h.01M133.0 35.4h.01M76.4 81.3h.01M69.0 24.7h.01M236.0 70.3h.01M144.1 48.2h.01M171.2 88.2h.01M104.3 115.2h.01M135.2 142.2h.01M62.2 61.7h.01M173.8 78.2h.01M183.0 81.5h.01M238.1 75.4h.01M86.5 102.0h.01M151.9 126.0h.01M123.9 136.4h.01M72.8 155.0h.01M59.4 153.9h.01M163.2 103.7h.01M54.0 61.1h.01M187.6 97.7h.01M211.3 124.1h.01M149.8 27.6h.01M67.5 62.0h.01M76.0 150.4h.01M80.3 132.0h.01M79.6 30.6h.01M111.9 149.7h.01M220.1 80.4h.01M228.1 81.3h.01" stroke="#5b2f94"/><path d="M57.1 56.5h.01M139.1 43.1h.01M227.8 33.0h.01M232.7 74.6h.01M84.8 73.3h.01M186.9 71.0h.01M61.7 66.2h.01M217.0 84.9h.01M131.0 61.7h.01M136.6 54.5h.01M148.0 59.7h.01M227.5 129.3h.01M93.3 154.3h.01M91.1 132.9h.01M219.3 124.9h.01M162.7 68.4h.01M145.1 139.6h.01M126.6 102.1h.01M136.0 47.4h.01M90.4 85.4h.01M129.8 97.8h.01M163.3 163.3h.01M236.3 155.8h.01M105.8 112.8h.01M231.4 151.3h.01M90.7 137.6h.01M122.3 104.6h.01M109.0 136.7h.01M169.8 122.4h.01M80.3 83.9h.01M75.1 83.7h.01M75.3 143.5h.01M79.4 141.3h.01M229.4 127.5h.01M72.3 106.5h.01M68.3 145.1h.01M60.7 63.8h.01M205.5 67.1h.01M120.3 99.3h.01M65.1 57.3h.01M67.2 102.6h.01M134.5 134.9h.01M172.2 90.5h.01M92.3 135.5h.01M167.8 92.7h.01M129.0 102.6h.01M91.4 87.9h.01M202.6 71.5h.01M87.1 130.4h.01M127.1 39.6h.01M149.3 98.3h.01M113.3 163.9h.01M98.2 159.4h.01M221.6 39.5h.01M114.4 150.0h.01M71.6 49.0h.01M80.5 107.7h.01M135.7 137.4h.01M112.8 111.0h.01M149.5 137.7h.01M84.7 82.3h.01M94.3 97.0h.01M128.6 37.6h.01M149.1 125.9h.01M138.1 142.5h.01M133.3 149.1h.01M58.2 59.1h.01M141.7 145.1h.01M188.8 100.1h.01M105.0 122.4h.01M82.0 81.8h.01M124.7 154.8h.01M208.2 67.3h.01M218.5 157.5h.01M230.1 153.8h.01M53.5 97.0h.01M106.6 48.3h.01M90.8 121.1h.01M184.2 83.7h.01M109.7 115.8h.01M159.1 165.0h.01M125.4 65.8h.01M75.1 23.5h.01M69.4 163.9h.01M89.9 147.0h.01M242.5 23.5h.01M144.6 43.3h.01M156.3 136.0h.01M232.3 26.3h.01M112.2 161.8h.01M201.3 123.5h.01M179.4 78.9h.01M223.8 127.0h.01M91.6 140.3h.01M81.7 130.0h.01M133.6 100.3h.01M228.9 72.0h.01M128.3 42.0h.01M232.1 31.0h.01M141.4 47.9h.01M142.4 152.1h.01M99.7 157.4h.01M235.7 38.4h.01M221.9 35.1h.01M153.1 128.4h.01M82.5 137.0h.01M155.0 121.7h.01M68.5 120.6h.01M130.8 100.3h.01M93.7 149.6h.01M157.5 15.2h.01M153.9 130.9h.01M156.9 114.9h.01M104.7 110.5h.01M155.4 74.8h.01M76.5 58.3h.01M133.2 47.2h.01M122.8 99.5h.01M148.1 135.2h.01M220.2 155.4h.01M187.2 79.3h.01M50.6 96.8h.01M146.7 125.5h.01M105.4 117.6h.01M234.7 31.3h.01M159.5 160.3h.01M128.2 99.9h.01M197.6 120.6h.01M150.5 39.0h.01M111.0 46.4h.01M156.1 123.9h.01M74.6 148.1h.01M71.2 96.5h.01M152.5 132.9h.01M65.8 120.3h.01M137.2 135.4h.01M102.4 105.4h.01M221.4 157.7h.01M217.5 80.2h.01M155.8 70.2h.01M106.9 22.8h.01M77.3 83.9h.01M146.0 41.4h.01M91.5 116.6h.01M154.5 19.5h.01M146.7 32.0h.01M66.2 156.7h.01M71.6 152.6h.01M146.4 36.6h.01M81.8 60.1h.01M90.2 158.8h.01M65.7 161.3h.01M220.0 93.6h.01M104.1 155.3h.01M200.6 116.3h.01M234.1 77.4h.01M93.1 142.7h.01M107.6 110.8h.01M85.7 132.5h.01M144.9 127.9h.01M184.2 70.5h.01M235.6 75.0h.01M121.8 143.7h.01M227.5 74.1h.01M131.5 57.2h.01M82.9 112.7h.01M129.1 68.6h.01M112.5 141.9h.01M150.2 128.3h.01M169.2 95.0h.01M136.3 144.6h.01M155.3 133.5h.01M203.6 73.8h.01M120.4 145.6h.01M132.0 102.8h.01M197.8 115.9h.01M74.1 140.9h.01M111.0 118.2h.01M235.0 26.5h.01M200.1 120.8h.01M217.0 151.3h.01M89.1 128.2h.01M144.8 38.9h.01M155.2 117.1h.01M160.7 162.9h.01M66.6 163.8h.01M225.0 129.4h.01M73.7 145.6h.01M63.5 156.4h.01M231.4 76.9h.01M194.8 120.2h.01M90.0 130.7h.01M72.1 147.8h.01M235.9 33.6h.01M126.0 37.1h.01M159.7 100.9h.01M137.1 29.5h.01M80.1 112.5h.01M111.2 113.5h.01M67.5 154.4h.01M91.8 83.2h.01M132.4 44.8h.01M109.5 141.8h.01M156.1 65.5h.01M196.1 122.9h.01M139.7 151.7h.01M127.0 97.5h.01M71.3 140.7h.01M185.7 81.7h.01M157.4 121.9h.01M221.0 71.4h.01M105.4 133.9h.01M145.1 59.2h.01M83.3 71.1h.01M110.1 151.9h.01M142.9 45.7h.01M142.1 38.9h.01M156.0 140.6h.01M113.0 152.0h.01M154.6 126.4h.01M110.7 144.0h.01M125.5 99.5h.01M226.7 127.2h.01M114.1 154.5h.01M148.1 100.5h.01M52.2 94.9h.01M155.1 94.1h.01M237.9 26.7h.01M127.6 34.9h.01M147.0 132.8h.01M241.2 21.2h.01M81.1 70.9h.01M171.0 120.1h.01M178.2 76.2h.01M145.6 100.2h.01M201.8 64.2h.01M186.6 95.5h.01M74.5 136.3h.01M64.9 154.5h.01M216.4 34.7h.01M149.1 57.5h.01M148.6 130.5h.01M75.5 155.1h.01M139.7 50.2h.01M157.3 96.1h.01M80.3 148.5h.01M131.0 144.1h.01M119.6 155.0h.01M131.8 151.2h.01" stroke="#531e7c"/><path d="M84.3 65.1h.01M77.7 148.2h.01M237.1 72.8h.01M88.6 149.3h.01M234.3 35.9h.01M66.8 147.5h.01M73.2 36.5h.01M89.3 151.8h.01M213.9 124.4h.01M76.2 145.7h.01M115.0 145.3h.01M135.6 52.1h.01M151.4 130.8h.01M170.0 80.8h.01M158.7 65.5h.01M64.4 66.6h.01M236.6 77.5h.01M146.6 121.1h.01M217.5 155.1h.01M165.6 116.1h.01M125.7 41.8h.01M172.6 86.2h.01M158.5 140.8h.01M113.4 76.1h.01M72.1 27.9h.01M116.0 147.9h.01M125.1 104.4h.01M217.1 160.3h.01M68.3 161.6h.01M108.0 46.2h.01M233.2 33.4h.01M133.0 105.1h.01M156.9 100.7h.01M136.8 140.0h.01M101.0 107.8h.01M193.2 98.3h.01M107.7 122.5h.01M76.2 114.5h.01M132.6 116.8h.01M129.5 64.0h.01M91.6 128.3h.01M97.1 157.1h.01M224.9 74.1h.01M126.8 63.8h.01M224.8 153.0h.01M127.7 104.7h.01M143.6 125.3h.01M194.3 125.0h.01M90.8 154.1h.01M86.6 151.6h.01M112.2 116.0h.01M159.9 68.3h.01M157.4 110.2h.01M60.6 155.9h.01M230.0 74.5h.01M157.3 126.6h.01M168.5 116.2h.01M210.4 153.0h.01M79.2 81.7h.01M176.4 78.4h.01M60.0 68.4h.01M239.9 40.2h.01M242.7 40.2h.01M94.8 135.6h.01M226.1 150.7h.01M168.4 88.1h.01M131.7 49.5h.01M75.6 138.6h.01M131.2 95.4h.01M132.6 40.0h.01M125.9 95.1h.01M90.6 125.9h.01M198.6 123.3h.01M138.7 47.6h.01M168.3 54.4h.01M137.7 45.1h.01M153.9 135.6h.01M78.4 139.0h.01M222.2 73.7h.01M218.1 122.5h.01M111.7 125.2h.01M64.8 61.6h.01M103.1 112.6h.01M81.8 73.2h.01M93.7 133.2h.01M105.9 129.1h.01M71.1 20.7h.01M160.3 108.0h.01M144.1 120.7h.01M124.4 97.4h.01M91.6 156.6h.01M227.4 153.3h.01M143.1 147.5h.01M115.5 152.2h.01M124.0 44.0h.01M185.5 72.9h.01M107.3 126.9h.01M238.7 33.3h.01M80.0 136.8h.01M71.7 38.9h.01M219.3 73.5h.01M180.6 76.6h.01M141.2 149.9h.01M62.9 68.7h.01M148.0 123.6h.01M70.3 46.5h.01M107.0 56.6h.01M85.1 105.8h.01M84.1 134.8h.01M118.6 152.5h.01M145.3 33.9h.01M102.7 117.5h.01M204.2 69.3h.01M72.5 33.4h.01M109.7 132.0h.01M215.6 153.6h.01M93.4 121.6h.01M109.2 120.2h.01M106.9 61.2h.01M145.6 135.0h.01M172.5 122.8h.01M105.3 63.2h.01M158.3 22.5h.01M121.4 148.2h.01M150.9 96.2h.01M123.2 37.2h.01M102.0 110.2h.01M72.5 143.2h.01M73.9 96.6h.01M81.5 64.9h.01M145.3 123.3h.01M157.3 68.0h.01M135.6 154.1h.01M82.8 84.3h.01M220.3 37.4h.01M124.5 143.9h.01M206.4 74.3h.01M136.2 37.9h.01M117.6 145.5h.01M117.4 150.0h.01M161.9 105.9h.01M73.2 150.3h.01M86.0 127.9h.01M130.9 42.4h.01M234.7 157.9h.01M70.2 154.7h.01M141.8 43.2h.01M214.3 151.1h.01M156.7 119.7h.01M74.9 112.0h.01M83.1 62.8h.01M162.2 160.9h.01M82.2 141.6h.01M124.5 39.4h.01M126.5 152.6h.01M140.2 45.5h.01M110.5 122.7h.01M84.7 125.5h.01M91.8 123.8h.01M106.5 136.4h.01M132.2 146.8h.01M132.2 98.2h.01M100.0 117.0h.01M67.9 149.7h.01M111.5 154.4h.01M107.1 115.3h.01M51.9 99.1h.01M81.7 110.2h.01M156.4 17.3h.01M214.1 119.7h.01M142.4 50.4h.01M161.0 22.6h.01M112.1 120.6h.01M156.9 24.4h.01M81.5 134.6h.01M139.0 149.5h.01M154.9 14.8h.01M77.1 53.4h.01M225.5 124.8h.01M232.2 79.4h.01M111.6 78.1h.01M130.8 119.0h.01M126.0 141.6h.01M73.5 25.7h.01M80.4 75.4h.01M169.3 90.4h.01M77.7 112.0h.01M83.0 132.5h.01M238.7 21.1h.01M146.7 102.7h.01M217.0 120.0h.01M91.5 106.9h.01M91.4 144.7h.01M201.7 118.7h.01M94.4 157.0h.01M153.5 124.0h.01M92.3 119.0h.01M128.1 66.0h.01M209.0 150.5h.01M110.9 159.0h.01M78.5 56.1h.01M241.2 70.8h.01M215.7 162.3h.01M101.6 114.8h.01M109.0 124.8h.01M61.1 59.0h.01M223.6 71.7h.01M138.3 52.4h.01M137.3 49.9h.01M130.5 149.0h.01M149.1 37.1h.01M61.5 158.7h.01M215.6 122.5h.01M136.1 26.9h.01M149.9 133.1h.01M155.6 128.9h.01M103.8 119.7h.01M162.5 101.3h.01M91.1 149.4h.01M69.6 159.3h.01M107.4 138.9h.01M126.4 68.0h.01M110.7 163.5h.01M233.6 155.4h.01M242.5 73.3h.01M125.0 139.0h.01M105.5 45.7h.01M228.9 151.0h.01M91.7 96.6h.01M112.1 48.8h.01M127.4 143.9h.01M103.8 65.2h.01M172.4 80.3h.01M84.3 151.2h.01M225.0 148.5h.01M95.3 90.5h.01M153.5 65.3h.01M81.8 146.4h.01M222.0 152.9h.01M86.3 156.0h.01M101.1 159.7h.01M134.1 139.7h.01M127.4 70.6h.01M128.1 134.8h.01M158.3 158.2h.01M131.9 134.9h.01M138.3 31.8h.01M135.1 64.4h.01M75.9 25.9h.01M86.0 144.4h.01M163.9 70.7h.01M94.5 124.1h.01M78.9 114.7h.01M105.0 138.4h.01M175.1 122.9h.01M222.0 125.2h.01M78.6 150.7h.01M217.9 75.8h.01" stroke="#47145f"/><path d="M119.2 139.9h.01M87.7 104.5h.01M128.5 95.5h.01M94.7 140.7h.01M190.2 98.3h.01M164.5 51.8h.01M74.0 21.2h.01M81.5 55.6h.01M134.0 62.0h.01M153.0 21.9h.01M242.6 31.0h.01M70.3 30.3h.01M112.4 137.0h.01M103.0 152.8h.01M63.3 64.1h.01M89.3 141.7h.01M104.6 127.0h.01M86.6 110.0h.01M138.8 27.2h.01M126.7 136.8h.01M171.6 83.3h.01M178.9 83.2h.01M180.4 80.9h.01M218.8 39.7h.01M109.8 156.5h.01M117.8 142.4h.01M154.1 72.4h.01M128.5 61.4h.01M125.3 147.6h.01M219.8 89.0h.01M156.7 72.6h.01M129.3 145.0h.01M237.1 23.1h.01M228.1 125.0h.01M116.5 140.1h.01M110.2 110.9h.01M89.4 102.4h.01M101.9 30.1h.01M118.6 148.1h.01M241.3 37.9h.01M129.9 59.4h.01M85.7 149.1h.01M137.6 146.9h.01M229.1 35.4h.01M66.3 78.6h.01M121.6 97.2h.01M155.8 112.3h.01M93.2 104.5h.01M123.5 141.4h.01M106.7 148.3h.01M140.2 147.3h.01M154.7 138.1h.01M94.1 102.6h.01M66.5 151.8h.01M206.1 78.0h.01M213.6 38.7h.01M236.2 29.0h.01M230.4 33.1h.01M94.1 107.2h.01M151.0 135.5h.01M214.2 164.8h.01M160.9 158.2h.01M228.7 76.7h.01M111.1 147.7h.01M75.4 60.5h.01M129.7 116.6h.01M100.0 151.4h.01M56.0 60.8h.01M76.7 63.1h.01M126.6 149.7h.01M101.4 154.8h.01M135.9 149.3h.01M240.0 30.9h.01M104.3 56.3h.01M153.9 119.2h.01M159.3 111.3h.01M157.3 19.9h.01M68.9 100.5h.01M157.5 138.4h.01M83.4 144.2h.01M160.2 96.1h.01M162.0 111.2h.01M112.7 156.7h.01M143.8 52.2h.01M131.5 37.7h.01M181.4 83.6h.01M132.6 59.5h.01M83.4 108.3h.01M115.6 58.2h.01M233.6 28.8h.01M157.9 103.2h.01M73.5 108.9h.01M232.0 127.5h.01M213.1 82.1h.01M129.8 39.7h.01M158.6 98.4h.01M156.9 143.0h.01M105.0 25.1h.01M154.6 67.7h.01M126.8 44.3h.01M108.4 58.8h.01M139.3 38.5h.01M110.6 75.9h.01M193.1 122.7h.01M213.7 88.3h.01M241.3 33.3h.01M84.7 110.6h.01M170.6 92.7h.01M137.7 40.3h.01M237.2 40.2h.01M69.5 147.5h.01M156.7 131.1h.01M67.0 159.1h.01M70.7 25.3h.01M59.6 56.7h.01M127.7 139.2h.01M87.2 146.7h.01M219.6 160.1h.01M94.0 144.9h.01M133.8 114.6h.01M109.5 150.1h.01M114.7 49.1h.01M122.4 133.5h.01M126.7 145.9h.01M64.7 81.0h.01M123.0 41.4h.01M229.6 79.2h.01M129.1 150.8h.01M162.9 108.4h.01M139.0 144.8h.01M76.4 109.8h.01M108.1 50.7h.01M86.9 135.0h.01M109.6 161.1h.01M134.3 151.3h.01M151.9 19.5h.01M114.1 54.1h.01M93.3 94.6h.01M89.3 87.1h.01M64.1 54.8h.01M114.3 78.4h.01" stroke="#391146"/><path d="M193.4 55.0h.01M74.2 152.6h.01M217.0 93.9h.01M84.1 60.3h.01M198.9 73.6h.01M72.1 100.4h.01M112.3 145.3h.01M135.1 35.5h.01M102.0 72.6h.01M241.3 28.8h.01M123.0 146.0h.01M160.7 103.6h.01M160.6 113.3h.01M106.2 81.5h.01M87.9 153.9h.01M202.6 114.7h.01M172.2 129.2h.01M136.2 42.7h.01M203.6 78.1h.01M120.8 36.6h.01M95.3 66.6h.01M69.2 73.8h.01M91.0 30.8h.01M58.8 79.0h.01M114.7 62.8h.01M91.1 102.7h.01M86.4 141.7h.01M80.3 62.6h.01M211.0 42.9h.01M70.9 145.4h.01M118.5 58.4h.01M68.3 39.2h.01M141.1 52.2h.01M85.1 139.3h.01M239.9 23.6h.01M209.9 45.6h.01M70.9 150.2h.01M129.3 44.5h.01M211.1 104.3h.01M85.3 107.9h.01M109.5 145.3h.01M67.6 76.2h.01M65.7 145.1h.01M128.0 147.2h.01M163.3 113.5h.01M93.7 116.9h.01M201.4 19.7h.01M106.2 124.7h.01M132.8 144.0h.01M143.5 41.1h.01M242.9 26.3h.01M218.5 82.1h.01M111.1 139.2h.01M80.5 143.8h.01M131.4 141.9h.01M84.4 55.5h.01M110.3 51.6h.01M93.4 137.8h.01M88.1 89.2h.01M106.2 140.3h.01M110.4 60.8h.01M238.5 28.7h.01M221.4 82.0h.01M217.0 116.3h.01M146.5 48.9h.01M171.8 143.1h.01M86.5 137.0h.01M90.8 26.3h.01M87.9 144.1h.01M214.9 36.4h.01M88.1 107.7h.01M77.9 60.6h.01M240.0 26.2h.01M106.6 120.1h.01M97.4 151.4h.01M236.2 91.1h.01M69.7 28.6h.01M188.7 73.8h.01M69.7 33.1h.01M155.7 104.7h.01M124.0 149.9h.01M237.1 30.8h.01M75.1 65.1h.01M217.6 41.0h.01M68.1 34.6h.01M222.5 84.2h.01M114.0 140.1h.01M108.5 147.5h.01M71.6 74.0h.01M218.5 96.2h.01M157.9 113.4h.01" stroke="#2f1436"/><path d="M237.2 35.6h.01M56.2 147.8h.01M242.7 35.5h.01M206.5 112.3h.01M132.4 21.1h.01M58.7 60.9h.01M56.1 164.4h.01M147.9 55.5h.01M98.8 25.5h.01M45.0 81.3h.01M62.9 161.5h.01M69.8 36.7h.01M162.5 53.9h.01M103.5 74.5h.01M143.2 95.9h.01M184.1 60.3h.01M88.6 119.8h.01M219.9 84.3h.01M95.9 153.5h.01M57.8 150.0h.01M142.2 54.4h.01M149.6 40.9h.01M44.6 76.4h.01M57.3 62.9h.01M199.9 17.5h.01M113.6 147.5h.01M52.1 103.6h.01M154.6 97.3h.01M94.7 115.0h.01M47.2 21.6h.01M221.1 86.7h.01M129.7 21.3h.01M58.0 154.9h.01M159.1 29.0h.01M100.4 28.0h.01M66.2 69.2h.01M121.1 135.9h.01M87.9 139.3h.01M227.9 37.1h.01M99.4 146.4h.01M215.9 99.9h.01M162.4 49.2h.01M61.4 163.7h.01M59.0 147.5h.01M94.9 28.1h.01M160.1 26.3h.01M64.4 83.5h.01M58.7 65.2h.01M222.4 90.4h.01M47.5 140.2h.01M150.4 140.7h.01M98.2 148.6h.01M121.0 156.3h.01M93.1 26.1h.01M217.5 162.7h.01M150.1 100.2h.01M80.2 57.8h.01M123.6 156.1h.01M86.4 86.9h.01M92.4 33.3h.01M49.0 83.3h.01M53.2 101.4h.01M89.6 105.2h.01M122.5 158.3h.01M68.9 78.6h.01M149.7 73.8h.01M61.8 83.6h.01M52.7 25.8h.01M98.6 153.9h.01M65.0 71.6h.01M223.1 95.2h.01M219.3 109.0h.01M50.0 26.0h.01M193.1 50.2h.01M85.2 26.6h.01M168.4 165.2h.01M63.9 74.0h.01M216.1 38.7h.01M214.5 97.7h.01M46.7 16.8h.01M73.6 30.9h.01M218.5 86.5h.01M96.1 26.0h.01M158.4 51.6h.01M109.4 63.1h.01M144.9 46.6h.01M218.5 91.3h.01M143.1 75.1h.01M134.8 16.1h.01M147.8 50.6h.01M212.3 86.2h.01M233.6 91.2h.01M165.2 160.7h.01M153.4 145.4h.01M113.0 51.7h.01M204.5 75.7h.01M145.2 51.1h.01M60.4 81.4h.01M122.3 138.3h.01M214.2 93.1h.01M70.7 102.6h.01M130.9 18.8h.01M66.8 36.8h.01M153.6 29.2h.01M44.5 21.7h.01M111.6 54.0h.01M73.5 102.8h.01M151.8 143.0h.01M183.1 63.1h.01M219.1 42.2h.01M70.8 34.5h.01M153.2 38.3h.01M60.1 145.3h.01M55.1 150.3h.01M167.9 160.6h.01M134.9 45.2h.01M140.3 20.4h.01M114.6 110.2h.01M109.0 81.3h.01M192.9 45.5h.01M114.9 130.8h.01M50.1 140.0h.01M133.7 42.8h.01M50.8 18.8h.01" stroke="#3b113b"/><path d="M96.8 68.9h.01M119.0 129.6h.01M85.3 115.2h.01M100.8 75.0h.01M115.8 60.4h.01M119.0 136.4h.01M113.9 133.3h.01M113.0 55.9h.01M194.3 47.8h.01M49.4 87.9h.01M90.1 82.4h.01M111.6 58.4h.01M184.8 76.5h.01M109.9 79.0h.01M178.9 71.0h.01M225.0 96.2h.01M99.4 68.6h.01M168.8 138.7h.01M117.9 138.7h.01M160.8 46.9h.01M183.7 78.9h.01M173.2 140.6h.01M215.6 118.6h.01M220.0 97.3h.01M64.2 163.8h.01M112.0 63.0h.01M216.3 88.3h.01M232.2 39.2h.01M232.1 41.1h.01M222.0 108.8h.01M234.7 41.1h.01M113.3 60.5h.01M166.0 140.8h.01M194.5 52.1h.01M221.9 164.8h.01M150.8 145.4h.01M216.4 42.6h.01M107.6 84.0h.01M132.0 16.3h.01M180.4 73.4h.01M111.8 105.7h.01M115.2 142.3h.01M53.2 30.3h.01M151.1 43.1h.01M59.7 72.0h.01M47.7 85.7h.01M87.3 82.5h.01M110.5 108.2h.01M87.0 117.6h.01M213.3 100.0h.01M46.1 79.1h.01M115.1 138.8h.01M139.6 54.4h.01M219.1 165.0h.01M129.0 137.4h.01M82.8 77.1h.01M152.3 120.3h.01M146.7 53.3h.01M149.9 78.7h.01M203.7 112.3h.01M45.8 24.0h.01M51.4 23.5h.01M87.5 122.3h.01M149.7 120.2h.01M45.3 14.6h.01M185.9 62.8h.01M48.3 19.2h.01M141.8 73.1h.01M89.5 117.4h.01M197.1 47.6h.01M88.4 115.1h.01M50.0 21.4h.01M137.5 15.9h.01M57.7 81.5h.01M140.0 70.7h.01M217.0 97.5h.01M220.6 162.6h.01M95.3 148.8h.01M67.5 66.6h.01M84.3 117.8h.01M205.4 26.7h.01M60.0 76.8h.01M165.6 165.3h.01M161.8 28.6h.01M147.6 97.9h.01M61.5 78.7h.01M220.3 106.8h.01M217.7 106.7h.01M97.4 28.1h.01M217.5 102.1h.01M154.8 26.7h.01M96.7 146.4h.01M209.3 142.6h.01M221.5 160.1h.01M48.6 137.8h.01M47.6 81.1h.01M235.7 52.6h.01M218.8 104.6h.01M58.4 159.6h.01M45.2 86.0h.01M76.7 105.6h.01M110.2 56.2h.01M191.2 157.0h.01M212.1 101.7h.01M54.6 162.1h.01M225.0 90.2h.01M235.0 45.6h.01M108.7 76.5h.01M169.2 124.8h.01M177.9 73.6h.01M144.5 107.7h.01M99.3 30.3h.01M82.9 57.7h.01M92.4 28.4h.01M169.9 136.2h.01M64.5 78.6h.01M49.0 142.3h.01M48.9 78.5h.01M233.8 48.2h.01M103.2 27.6h.01M170.3 140.9h.01M99.6 109.9h.01M215.3 90.5h.01M75.2 108.3h.01M142.8 70.5h.01M170.8 127.1h.01M236.2 43.3h.01M61.1 74.2h.01M136.2 18.3h.01M152.3 147.4h.01M207.7 109.4h.01M107.7 142.7h.01M107.2 79.3h.01M150.8 71.4h.01M239.8 35.6h.01M238.6 38.1h.01M85.8 120.1h.01M112.3 130.9h.01M46.3 142.5h.01M204.1 116.6h.01M201.2 15.0h.01M44.7 140.4h.01M80.1 77.3h.01M56.4 84.0h.01M131.8 137.2h.01M59.9 161.7h.01M222.5 97.1h.01M54.2 28.0h.01M98.8 112.4h.01M135.0 40.5h.01M57.1 72.1h.01M218.7 99.5h.01M116.0 136.4h.01M44.6 135.6h.01M149.3 147.7h.01M79.5 110.1h.01M94.0 69.0h.01M140.4 75.5h.01M147.0 74.2h.01M214.9 40.4h.01M226.6 34.8h.01M218.1 111.5h.01M165.5 53.6h.01M163.4 46.8h.01M94.1 151.3h.01M90.5 134.6h.01M186.8 60.4h.01M49.2 99.4h.01M212.1 40.4h.01M201.0 112.3h.01M208.1 43.2h.01M219.6 116.1h.01M87.6 126.8h.01M210.8 144.8h.01M147.4 105.1h.01M100.3 70.2h.01" stroke="#4e1443"/><path d="M145.6 105.6h.01M62.7 76.5h.01M78.2 107.8h.01M233.5 43.3h.01M117.4 62.8h.01M156.6 29.1h.01M45.7 19.2h.01M213.8 42.8h.01M88.8 124.6h.01M84.5 79.4h.01M65.3 76.2h.01M148.5 46.5h.01M58.5 74.4h.01M48.6 23.9h.01M220.0 101.9h.01M212.1 142.3h.01M47.1 135.5h.01M215.4 45.2h.01M181.5 70.9h.01M129.1 16.4h.01M169.0 143.3h.01M87.9 26.4h.01M104.2 79.4h.01M205.6 119.0h.01M230.8 37.0h.01M195.8 21.4h.01M59.0 83.6h.01M54.9 103.5h.01M224.0 92.7h.01M151.4 122.2h.01M161.1 51.6h.01M188.4 108.6h.01M57.5 76.9h.01M229.6 39.3h.01M54.0 23.4h.01M111.2 133.3h.01M151.6 102.5h.01M89.7 28.7h.01M72.8 83.1h.01M73.7 66.4h.01M221.1 99.6h.01M81.6 79.9h.01M95.6 23.8h.01M170.8 156.7h.01M214.9 85.9h.01M201.8 73.3h.01M205.4 114.6h.01M48.2 90.5h.01M234.1 50.2h.01M222.9 52.1h.01M171.3 138.6h.01M63.0 81.2h.01M131.1 23.4h.01M88.8 84.7h.01M67.6 71.4h.01M46.4 83.5h.01M227.5 40.8h.01M112.9 108.0h.01M153.0 140.6h.01M201.4 75.8h.01M57.3 161.9h.01M139.0 73.1h.01M96.1 112.5h.01M146.0 95.8h.01M225.7 114.9h.01M172.0 124.5h.01M225.4 52.0h.01M157.5 26.5h.01M119.8 158.7h.01M52.5 21.2h.01M102.5 77.3h.01M152.9 104.7h.01M46.8 88.2h.01M224.3 54.2h.01M56.5 152.7h.01M212.3 45.1h.01M74.3 156.7h.01M130.5 139.7h.01M208.2 104.4h.01M165.9 111.8h.01M180.6 111.0h.01M105.8 76.8h.01M129.4 142.3h.01M153.7 76.1h.01M86.2 85.0h.01M70.8 75.8h.01M183.3 74.2h.01M50.3 80.9h.01M177.6 64.1h.01M49.8 76.3h.01M204.9 109.9h.01M152.3 31.7h.01M158.7 24.3h.01M227.0 105.2h.01M128.8 132.8h.01" stroke="#64194b"/><path d="M192.2 154.6h.01M46.1 137.9h.01M103.3 22.4h.01M197.6 81.8h.01M160.0 54.0h.01M151.1 76.1h.01M209.0 107.7h.01M109.3 103.6h.01M110.5 126.5h.01M86.9 74.2h.01M166.7 162.8h.01M91.9 76.0h.01M159.7 49.3h.01M221.5 104.2h.01M231.4 51.0h.01M179.8 113.5h.01M195.6 116.3h.01M106.2 72.5h.01M174.4 124.7h.01M145.7 77.1h.01M191.0 108.2h.01M214.5 33.8h.01M204.0 29.3h.01M163.0 165.3h.01M171.1 147.6h.01M180.8 68.4h.01M45.8 72.6h.01M96.4 21.1h.01M130.6 127.5h.01M171.1 110.8h.01M164.1 109.8h.01M83.3 122.5h.01M74.5 70.7h.01M173.7 127.0h.01M102.4 24.6h.01M49.6 16.7h.01M197.3 118.1h.01M61.8 150.1h.01M209.6 102.0h.01M98.2 23.2h.01M152.5 73.8h.01M214.2 116.6h.01M72.9 76.0h.01M108.2 74.6h.01M205.6 156.4h.01M158.2 47.5h.01M230.4 43.4h.01M47.5 76.6h.01M117.3 134.5h.01M165.0 143.4h.01M73.4 73.4h.01M66.5 73.9h.01M148.6 102.7h.01M109.6 33.1h.01M72.0 71.5h.01M178.0 128.5h.01M62.2 71.7h.01M215.2 95.4h.01M116.6 130.1h.01M54.2 19.6h.01M55.8 74.5h.01M213.0 95.4h.01M113.1 44.5h.01M195.6 49.9h.01M133.5 18.7h.01M227.8 43.6h.01M57.0 157.3h.01M165.0 107.2h.01M173.0 112.9h.01M72.8 68.7h.01M215.5 31.3h.01M235.3 93.6h.01M182.4 113.4h.01M63.4 152.1h.01M58.8 163.9h.01M181.6 108.6h.01M71.5 85.6h.01M152.3 40.9h.01M86.7 28.9h.01M55.5 90.3h.01M85.7 121.8h.01M173.9 131.5h.01M66.9 44.8h.01M177.3 107.1h.01M101.5 20.1h.01M202.3 109.9h.01M44.9 68.0h.01M232.2 45.2h.01M92.7 80.6h.01M154.0 80.6h.01M216.4 165.3h.01M107.8 30.9h.01M60.0 43.9h.01M195.6 45.3h.01" stroke="#7a2050"/><path d="M107.0 19.3h.01M89.5 73.6h.01M120.1 134.1h.01M153.6 45.8h.01M133.3 126.8h.01M128.1 156.5h.01M114.9 39.3h.01M113.7 105.3h.01M211.4 107.5h.01M153.0 69.5h.01M53.1 42.8h.01M202.7 18.5h.01M52.4 17.5h.01M78.9 72.4h.01M188.3 116.8h.01M205.5 18.2h.01M225.0 103.4h.01M73.6 159.2h.01M196.6 84.3h.01M61.8 45.7h.01M203.6 50.0h.01M226.1 100.7h.01M47.6 74.7h.01M235.9 116.5h.01M110.6 37.8h.01M180.0 106.4h.01M103.4 82.1h.01M179.2 66.0h.01M87.6 71.6h.01M167.6 106.6h.01M107.8 16.7h.01M224.3 98.7h.01M117.6 39.1h.01M114.8 128.0h.01M171.2 132.7h.01M113.9 41.9h.01M201.8 67.4h.01M164.4 138.8h.01M112.2 128.3h.01M225.8 108.0h.01M77.1 77.5h.01M228.7 51.4h.01M102.4 84.6h.01M104.6 70.5h.01M207.1 47.0h.01M155.6 47.8h.01M233.2 53.0h.01M53.8 88.1h.01M78.1 74.9h.01M112.1 103.1h.01M165.3 136.3h.01M169.4 130.5h.01M106.0 14.6h.01M105.3 17.0h.01M111.3 42.5h.01M148.7 76.5h.01M167.6 113.9h.01M91.0 78.5h.01M196.5 28.8h.01M82.7 149.2h.01M115.6 132.7h.01M120.3 45.5h.01M192.4 114.6h.01M90.7 57.3h.01M182.7 148.0h.01M176.4 126.6h.01M193.2 87.1h.01M100.1 77.8h.01M200.4 78.3h.01M186.6 114.6h.01M170.3 113.3h.01M48.6 72.4h.01M101.5 15.4h.01M207.0 20.2h.01M204.6 20.8h.01M226.8 98.3h.01M53.4 15.1h.01M115.8 36.8h.01M193.9 84.8h.01M46.0 41.8h.01M120.9 131.6h.01M157.2 50.1h.01M95.6 16.7h.01M225.9 39.0h.01M115.8 125.4h.01M99.1 20.9h.01M51.2 40.8h.01M168.5 148.2h.01M230.5 53.5h.01M73.4 80.4h.01M145.2 79.6h.01M227.6 54.0h.01M207.3 158.4h.01M71.8 157.1h.01M154.6 50.3h.01M110.2 84.5h.01M111.5 35.2h.01M109.1 72.3h.01M101.7 80.1h.01M109.7 40.4h.01M156.5 45.3h.01M151.2 67.8h.01M223.3 101.2h.01M154.6 43.3h.01M118.2 132.1h.01M121.5 43.0h.01M169.4 145.5h.01M196.0 79.6h.01M171.8 154.2h.01M159.0 44.7h.01M173.2 149.7h.01M185.5 38.1h.01M197.4 23.5h.01M103.5 15.2h.01M148.7 67.9h.01M202.1 159.2h.01M114.7 135.1h.01M129.8 129.8h.01M149.3 44.1h.01" stroke="#8e2c50"/><path d="M198.6 20.9h.01M182.7 106.0h.01M80.6 122.9h.01M150.1 48.8h.01M110.6 30.6h.01M51.9 85.9h.01M199.6 25.5h.01M194.6 89.3h.01M55.5 46.0h.01M50.9 15.4h.01M100.9 22.6h.01M59.2 49.7h.01M166.9 138.4h.01M98.4 16.0h.01M172.2 145.2h.01M62.3 154.9h.01M71.6 78.4h.01M63.3 47.9h.01M104.2 19.7h.01M196.0 86.9h.01M74.6 77.9h.01M118.5 36.6h.01M210.1 112.7h.01M185.7 117.5h.01M69.2 157.6h.01M111.2 81.9h.01M201.3 37.1h.01M168.5 111.4h.01M197.4 88.9h.01M166.9 109.1h.01M147.9 79.0h.01M172.6 158.8h.01M194.7 23.7h.01M78.9 79.6h.01M204.7 47.4h.01M97.3 18.6h.01M229.3 46.5h.01M198.6 76.3h.01M178.7 109.2h.01M123.7 131.3h.01M203.6 16.0h.01M187.5 76.2h.01M93.7 78.2h.01M47.8 44.0h.01M224.3 105.8h.01M60.7 152.7h.01M222.3 111.0h.01M112.5 32.6h.01M203.6 41.2h.01M223.1 115.5h.01M101.0 82.3h.01M193.7 29.6h.01M202.9 43.8h.01M83.5 146.7h.01M89.2 76.5h.01M157.4 42.6h.01M51.1 88.5h.01M169.9 159.3h.01M181.6 153.2h.01M112.3 39.7h.01M113.4 37.5h.01M204.7 158.6h.01M164.9 114.2h.01M50.2 43.4h.01M206.2 40.7h.01M194.8 82.2h.01M206.1 15.5h.01M193.2 112.0h.01M189.6 58.7h.01M231.1 48.3h.01M151.0 46.3h.01M105.4 74.9h.01M60.8 48.4h.01M224.0 113.0h.01M76.4 72.7h.01M182.1 150.6h.01M167.8 135.9h.01M125.3 157.0h.01M151.3 54.2h.01M134.0 161.5h.01M184.0 115.1h.01M192.8 110.2h.01M127.4 158.5h.01M162.0 114.8h.01M232.5 119.3h.01M50.1 91.0h.01M203.4 120.0h.01M88.9 62.3h.01M77.2 70.4h.01" stroke="#9f3c50"/><path d="M179.5 151.3h.01M176.3 34.6h.01M98.9 126.0h.01M149.4 105.4h.01M118.1 49.6h.01M52.8 46.9h.01M130.5 164.9h.01M113.8 81.5h.01M65.5 41.8h.01M71.2 66.6h.01M198.9 37.7h.01M111.4 26.1h.01M225.0 110.5h.01M153.0 109.0h.01M45.2 44.5h.01M151.8 51.8h.01M184.1 109.3h.01M205.6 121.9h.01M151.2 107.3h.01M224.1 36.8h.01M48.8 41.3h.01M54.6 85.4h.01M76.7 67.8h.01M58.1 54.9h.01M230.0 18.6h.01M199.9 65.4h.01M100.5 18.0h.01M210.7 110.3h.01M95.6 129.2h.01M176.9 143.3h.01M152.6 48.4h.01M208.6 21.7h.01M187.6 106.1h.01M128.7 163.1h.01M126.7 161.2h.01M200.9 70.1h.01M180.3 148.6h.01M182.8 38.8h.01M117.0 45.0h.01M61.1 51.2h.01M131.4 162.3h.01M115.1 43.3h.01M178.5 34.6h.01M48.1 58.5h.01M64.9 44.7h.01M198.4 30.8h.01M213.6 47.8h.01M177.0 31.7h.01M195.8 111.1h.01M182.1 29.3h.01M117.4 127.4h.01M227.0 112.5h.01M77.5 65.0h.01M199.9 80.8h.01M130.8 133.4h.01M205.7 43.3h.01M96.1 126.6h.01M174.4 32.6h.01M197.2 66.2h.01M208.7 39.9h.01M163.4 134.2h.01M207.6 45.3h.01M179.8 130.7h.01M201.7 39.5h.01M167.3 142.5h.01M129.5 160.3h.01" stroke="#ac4d51"/><path d="M84.1 156.1h.01M203.9 100.7h.01M207.1 107.2h.01M166.7 145.4h.01M190.8 103.4h.01M133.1 164.2h.01M204.8 124.5h.01M56.5 20.4h.01M205.2 92.5h.01M57.4 47.9h.01M75.3 75.4h.01M90.9 60.9h.01M86.6 15.4h.01M180.8 146.2h.01M213.4 74.0h.01M211.0 21.0h.01M201.6 27.5h.01M195.0 113.8h.01M184.8 106.9h.01M199.4 35.3h.01M179.5 30.2h.01M196.9 26.2h.01M84.8 90.9h.01M88.2 19.7h.01M159.9 43.1h.01M114.7 45.7h.01M56.0 53.1h.01M133.9 132.7h.01M210.4 23.8h.01M62.5 105.9h.01M226.1 42.6h.01M215.6 49.3h.01M199.3 83.3h.01M51.1 55.2h.01M50.1 47.4h.01M174.7 134.1h.01M70.2 69.3h.01M174.4 144.0h.01M53.1 56.9h.01M205.1 24.9h.01M228.9 49.1h.01M183.4 112.0h.01M181.1 37.0h.01M173.8 136.9h.01M205.7 22.2h.01M229.3 139.3h.01M163.3 148.7h.01M210.9 96.2h.01M194.5 26.9h.01M63.0 42.6h.01M199.1 68.2h.01M49.6 50.7h.01M210.2 98.9h.01M176.5 136.4h.01M202.4 24.9h.01M230.6 16.1h.01M175.2 141.4h.01M166.0 147.8h.01M64.1 107.9h.01M148.4 107.6h.01M120.6 128.3h.01M186.1 111.4h.01M203.0 122.5h.01M117.8 42.5h.01M61.6 108.6h.01M162.0 45.0h.01M178.5 146.6h.01M186.6 108.7h.01M59.5 17.0h.01M206.1 102.2h.01M188.8 110.4h.01M201.6 134.3h.01M191.5 100.7h.01M198.9 28.2h.01M86.2 18.0h.01M200.4 32.7h.01M225.4 45.1h.01M60.4 104.0h.01M129.3 24.8h.01M190.1 105.6h.01M55.3 55.8h.01M178.3 25.5h.01M186.2 102.1h.01M191.6 74.9h.01" stroke="#b86155"/><path d="M228.2 144.4h.01M119.0 46.8h.01M56.5 106.0h.01M45.8 59.6h.01M149.3 52.6h.01M174.2 27.5h.01M187.8 102.9h.01M149.4 94.9h.01M212.7 22.0h.01M185.4 103.9h.01M93.5 17.9h.01M99.5 122.4h.01M213.3 76.8h.01M79.5 67.1h.01M180.2 27.4h.01M154.0 53.6h.01M160.7 40.6h.01M235.8 120.0h.01M60.6 53.7h.01M203.0 32.2h.01M93.8 15.3h.01M211.9 114.7h.01M108.9 96.3h.01M226.5 140.0h.01M197.4 70.2h.01M234.9 62.6h.01M62.1 23.9h.01M177.3 37.5h.01M109.8 91.0h.01M202.1 34.6h.01M112.4 89.8h.01M215.7 18.6h.01M176.0 139.0h.01M205.9 89.9h.01M194.8 71.0h.01M52.0 65.3h.01M227.8 62.8h.01M81.2 159.9h.01M207.9 24.0h.01M228.4 85.9h.01M201.1 85.3h.01M213.7 16.8h.01M54.7 48.6h.01M175.1 38.5h.01M51.3 68.0h.01M187.0 67.8h.01M52.0 49.6h.01M206.9 132.5h.01M60.1 22.3h.01M204.4 133.6h.01M202.1 131.7h.01M227.8 16.5h.01M224.1 141.0h.01M56.7 18.1h.01M56.8 50.7h.01M131.6 155.4h.01M113.6 97.0h.01M178.9 41.1h.01M47.5 49.0h.01M199.9 132.5h.01M233.3 142.7h.01M126.2 163.6h.01M197.5 113.0h.01M176.9 26.5h.01M93.5 59.9h.01M205.4 128.3h.01M196.3 75.3h.01M125.8 126.4h.01M125.2 128.9h.01M180.1 39.2h.01M188.0 113.4h.01M81.9 94.4h.01M82.4 151.7h.01M214.4 26.7h.01M204.9 95.2h.01M204.7 107.8h.01M190.5 112.5h.01M184.3 141.7h.01M200.3 22.9h.01M178.9 153.9h.01M163.9 145.9h.01M52.7 59.4h.01M181.6 142.6h.01M58.6 52.5h.01M162.6 42.2h.01M131.1 157.9h.01M53.7 54.0h.01M184.4 68.6h.01M79.4 155.3h.01M181.4 40.4h.01M134.4 130.4h.01M56.1 43.5h.01M56.6 66.3h.01M133.9 25.7h.01M120.2 41.7h.01M230.2 124.4h.01M171.1 35.9h.01M234.9 125.3h.01M206.5 135.4h.01M92.2 67.8h.01" stroke="#c0755e"/><path d="M81.5 157.1h.01M142.5 65.0h.01M58.0 110.6h.01M181.2 33.8h.01M216.4 28.3h.01M99.3 97.2h.01M113.0 99.7h.01M59.1 105.1h.01M220.2 129.9h.01M116.4 47.5h.01M50.2 60.3h.01M204.1 85.5h.01M176.6 21.6h.01M222.8 60.1h.01M199.8 43.6h.01M104.4 95.3h.01M65.0 96.3h.01M179.6 140.8h.01M216.3 46.9h.01M203.2 90.6h.01M140.7 63.6h.01M210.1 93.6h.01M57.5 15.3h.01M188.2 55.8h.01M231.2 140.9h.01M213.9 71.4h.01M194.0 73.7h.01M215.1 78.5h.01M109.5 93.7h.01M102.8 135.3h.01M72.8 118.3h.01M107.2 32.8h.01M49.4 66.5h.01M131.6 131.0h.01M200.3 108.3h.01M151.1 30.0h.01M235.5 67.9h.01M181.8 155.5h.01M103.2 17.3h.01M179.4 143.6h.01M207.4 94.3h.01M91.4 16.1h.01M111.0 98.0h.01M181.0 158.3h.01M96.6 98.3h.01M213.3 19.7h.01M200.0 110.9h.01M230.9 59.2h.01M48.9 69.1h.01M57.7 113.0h.01M235.3 144.4h.01M152.1 93.9h.01M187.8 58.5h.01M208.6 18.8h.01M148.0 70.0h.01M90.5 63.5h.01M78.7 69.6h.01M97.5 120.7h.01M232.7 14.6h.01M63.1 52.7h.01M172.8 36.8h.01M227.1 137.5h.01M90.9 18.9h.01M55.2 58.6h.01M124.0 134.5h.01M236.0 141.9h.01M88.7 17.0h.01M202.5 96.0h.01M232.4 63.6h.01M199.2 113.3h.01M200.7 105.5h.01M46.8 67.4h.01M57.1 93.4h.01M203.1 23.0h.01M92.3 65.3h.01M207.8 91.7h.01M230.1 62.0h.01M147.7 63.3h.01M101.9 96.4h.01M237.4 124.3h.01M46.8 51.6h.01M45.9 56.8h.01M222.1 139.3h.01M204.5 97.8h.01M203.8 88.1h.01M72.0 160.2h.01M202.7 107.4h.01M71.4 88.1h.01M176.6 153.2h.01M187.3 65.0h.01M224.8 138.5h.01M85.9 20.8h.01M200.9 30.2h.01M44.4 52.4h.01M228.9 141.7h.01M207.4 129.6h.01M112.7 87.4h.01M80.4 150.2h.01M47.8 46.1h.01M45.4 47.3h.01M174.2 43.3h.01M186.3 143.4h.01M54.1 51.5h.01M152.4 91.3h.01M111.9 92.7h.01M138.5 61.6h.01M241.8 118.3h.01M174.0 153.9h.01M102.4 62.8h.01M238.0 67.2h.01M212.7 79.3h.01M185.7 56.8h.01M48.4 56.0h.01M110.2 88.3h.01M54.9 16.2h.01M58.6 107.9h.01M107.0 94.5h.01M181.2 43.2h.01M50.8 57.8h.01M46.6 54.4h.01M228.1 89.0h.01M101.7 146.0h.01M121.0 125.7h.01M46.4 69.7h.01M181.4 31.1h.01M199.2 87.2h.01M207.8 27.8h.01M212.5 92.4h.01M44.9 50.0h.01M142.9 62.3h.01M176.3 29.2h.01M198.7 103.6h.01M87.7 64.6h.01M182.5 47.3h.01M181.6 97.9h.01M59.6 114.7h.01M233.9 118.2h.01M112.8 30.5h.01M223.9 40.9h.01M227.6 46.9h.01M219.7 69.9h.01M210.0 105.7h.01M229.4 54.9h.01M50.5 45.4h.01M227.9 20.3h.01" stroke="#c68a6d"/><path d="M232.6 17.5h.01M211.1 18.1h.01M145.6 29.8h.01M136.4 165.4h.01M113.8 94.4h.01M231.9 124.1h.01M197.9 41.9h.01M168.9 151.0h.01M143.0 90.1h.01M233.0 86.6h.01M133.6 157.2h.01M62.7 16.0h.01M220.1 132.5h.01M149.7 25.5h.01M226.2 17.3h.01M216.2 73.3h.01M235.4 122.6h.01M191.4 89.1h.01M242.3 67.2h.01M200.3 41.0h.01M161.5 143.7h.01M54.1 67.2h.01M206.5 99.3h.01M60.7 112.7h.01M49.8 106.3h.01M145.4 70.7h.01M96.9 123.2h.01M63.1 111.4h.01M145.0 64.2h.01M65.0 14.8h.01M203.6 103.3h.01M205.6 105.0h.01M105.7 87.1h.01M92.3 54.5h.01M197.8 109.0h.01M152.6 88.0h.01M156.0 39.4h.01M228.6 57.4h.01M107.3 91.7h.01M97.9 137.6h.01M210.5 26.6h.01M236.4 100.3h.01M206.3 87.2h.01M127.1 131.0h.01M55.5 98.2h.01M99.9 63.9h.01M232.5 20.5h.01M241.3 54.8h.01M68.8 89.1h.01M123.2 127.6h.01M223.5 147.3h.01M80.0 92.6h.01M100.4 61.2h.01M184.7 66.2h.01M60.0 101.5h.01M44.6 61.9h.01M57.5 102.5h.01M202.1 45.4h.01M147.4 72.4h.01M133.4 28.2h.01M159.9 136.7h.01M222.7 136.6h.01M223.6 143.7h.01M131.4 26.5h.01M216.9 141.8h.01M58.0 97.2h.01M202.5 80.9h.01M215.9 75.8h.01M114.5 91.9h.01M191.0 65.4h.01M174.5 151.3h.01M219.1 51.9h.01M95.1 77.0h.01M204.8 130.6h.01M187.9 94.0h.01M104.9 92.8h.01M205.1 53.5h.01M108.5 99.0h.01M143.2 85.2h.01M229.8 24.3h.01M178.5 159.2h.01M62.7 21.4h.01M179.2 156.5h.01M230.1 90.2h.01M231.2 56.5h.01M111.3 95.4h.01M63.6 50.1h.01M223.5 43.5h.01M127.9 128.3h.01M209.1 15.9h.01M176.9 16.2h.01M178.9 32.1h.01M211.6 15.1h.01M231.8 138.2h.01M229.6 122.6h.01M66.4 113.1h.01M231.2 108.0h.01M180.9 24.9h.01M192.9 116.4h.01M59.8 92.3h.01M216.2 15.9h.01M139.2 161.6h.01M55.7 95.7h.01M82.5 91.5h.01M84.6 153.5h.01M215.2 21.4h.01M47.9 101.9h.01M183.3 102.2h.01M82.0 154.5h.01M147.2 114.2h.01M203.1 126.3h.01M238.0 110.0h.01M185.0 146.5h.01M176.7 19.0h.01M215.1 155.6h.01M207.1 81.3h.01M145.7 86.1h.01M226.6 14.5h.01M104.0 98.2h.01M141.3 83.5h.01M224.3 49.6h.01M57.6 90.5h.01M190.5 67.9h.01M181.2 22.1h.01M224.9 133.0h.01M161.9 141.0h.01M195.4 56.3h.01M239.8 114.2h.01M70.9 59.1h.01M83.6 158.9h.01M232.1 135.7h.01M110.7 28.7h.01M49.1 53.3h.01M50.7 73.6h.01M210.6 90.7h.01M229.8 136.6h.01M226.6 48.4h.01M191.7 77.4h.01M55.9 108.7h.01M76.8 158.0h.01M183.1 44.7h.01M222.2 65.5h.01M236.8 54.6h.01M177.0 39.5h.01M197.2 40.3h.01M105.8 84.6h.01M109.2 24.2h.01M95.5 61.7h.01M202.2 83.6h.01M166.7 51.7h.01M84.1 96.1h.01M61.0 106.8h.01M227.7 135.0h.01M130.1 135.9h.01M220.2 64.7h.01M133.7 136.5h.01M208.0 127.3h.01" stroke="#cb9f83"/><path d="M104.1 144.9h.01M233.8 61.1h.01M147.8 90.5h.01M53.6 93.5h.01M136.6 129.7h.01M218.7 23.6h.01M154.1 35.0h.01M66.6 87.6h.01M222.6 120.5h.01M57.7 43.1h.01M206.8 96.9h.01M46.2 124.6h.01M55.0 79.5h.01M209.6 128.7h.01M225.0 61.6h.01M220.1 67.4h.01M128.2 125.5h.01M198.2 128.9h.01M69.2 84.1h.01M231.3 105.0h.01M139.1 125.9h.01M115.1 86.7h.01M147.9 28.8h.01M173.7 147.9h.01M229.4 101.1h.01M150.8 57.0h.01M221.9 47.8h.01M191.7 165.4h.01M222.6 62.8h.01M109.7 70.5h.01M220.6 118.9h.01M240.1 68.5h.01M60.0 41.8h.01M223.9 18.3h.01M207.9 30.3h.01M49.5 109.1h.01M45.4 103.4h.01M222.5 123.2h.01M197.7 105.4h.01M106.9 101.9h.01M52.9 78.1h.01M227.3 60.6h.01M139.7 115.8h.01M106.4 97.1h.01M242.3 146.2h.01M217.8 133.6h.01M61.8 37.9h.01M78.9 159.5h.01M178.6 104.7h.01M235.1 146.9h.01M233.6 104.0h.01M230.2 93.1h.01M202.5 54.4h.01M231.3 65.0h.01M237.3 135.5h.01M234.8 139.6h.01M218.3 117.5h.01M200.3 98.9h.01M154.2 78.4h.01M202.8 93.6h.01M236.7 17.8h.01M211.2 116.9h.01M191.6 86.2h.01M206.1 149.4h.01M222.2 68.9h.01M155.5 161.3h.01M221.7 50.6h.01M136.3 132.5h.01M230.5 87.4h.01M145.0 67.2h.01M182.8 139.4h.01M188.8 63.7h.01M224.4 46.9h.01M218.2 128.3h.01M213.1 68.0h.01M68.9 86.6h.01M209.6 126.3h.01M188.1 69.2h.01M196.5 72.9h.01M195.5 106.3h.01M232.8 89.1h.01M228.5 68.8h.01M169.3 25.2h.01M217.8 131.0h.01M156.6 33.7h.01M231.8 102.4h.01M67.0 82.3h.01M242.4 113.0h.01M225.5 56.1h.01M44.8 108.4h.01M105.4 89.9h.01M171.2 152.6h.01M232.8 148.1h.01M236.4 60.0h.01M70.5 64.7h.01M193.4 57.3h.01M242.8 107.7h.01M104.4 142.2h.01M230.5 146.5h.01M232.1 121.3h.01M198.0 55.0h.01M230.1 95.7h.01M154.3 32.5h.01M149.8 89.3h.01M237.5 145.6h.01M79.8 98.3h.01M233.3 69.1h.01M217.0 25.6h.01M219.1 18.0h.01M239.9 137.3h.01M176.1 146.7h.01M208.0 87.4h.01M120.7 123.5h.01M117.4 155.6h.01M225.5 116.8h.01M59.1 94.8h.01M76.6 160.8h.01M136.6 160.0h.01M114.9 88.9h.01M149.6 31.8h.01M65.0 27.2h.01M112.0 71.9h.01M242.8 64.5h.01M62.6 18.5h.01M240.5 65.9h.01M93.0 20.6h.01M100.1 139.1h.01M126.8 133.6h.01M140.7 29.7h.01M156.6 79.9h.01M235.7 65.4h.01M57.9 68.8h.01M176.5 44.8h.01M102.6 138.1h.01M64.6 20.2h.01M100.1 136.5h.01M50.1 101.0h.01M61.8 40.6h.01M144.8 73.6h.01M241.8 138.6h.01M104.7 100.2h.01M190.5 117.7h.01M178.6 23.0h.01M47.0 63.3h.01M213.7 29.1h.01M147.8 87.8h.01M77.6 94.2h.01M203.7 150.7h.01M69.4 81.1h.01M70.7 62.0h.01M143.2 28.4h.01M193.9 76.4h.01M227.1 131.9h.01M47.2 61.0h.01M51.7 52.3h.01M145.5 88.9h.01M120.6 120.9h.01M62.9 25.6h.01M176.1 24.4h.01M145.6 61.5h.01M150.2 92.1h.01M156.5 77.4h.01M96.3 133.8h.01M111.9 74.4h.01M225.8 146.1h.01M239.0 56.1h.01M136.9 127.0h.01M142.7 92.6h.01M93.0 62.6h.01M208.7 118.0h.01M189.1 78.4h.01M229.1 103.8h.01M151.7 33.6h.01M101.8 143.2h.01M105.1 27.6h.01M235.0 16.0h.01M136.5 162.8h.01M231.1 67.6h.01M174.7 15.0h.01M236.0 105.7h.01M225.2 135.6h.01M239.8 116.9h.01M150.2 86.9h.01M195.9 101.3h.01M55.3 41.3h.01M174.5 40.7h.01M108.0 85.9h.01M233.6 81.0h.01M226.3 142.8h.01M140.6 91.2h.01M46.8 91.6h.01M108.2 38.0h.01M237.7 115.3h.01M165.5 131.2h.01M153.1 56.0h.01M234.0 58.3h.01M67.5 16.5h.01M214.8 23.8h.01M66.8 85.1h.01M90.9 23.8h.01M47.4 107.5h.01M138.8 164.5h.01M186.8 140.7h.01M190.6 114.9h.01M241.8 148.8h.01M235.5 111.0h.01M60.1 70.2h.01M203.2 156.1h.01M237.0 20.5h.01M212.6 25.5h.01M50.5 79.0h.01M192.4 42.4h.01M138.7 25.3h.01M200.5 53.8h.01M218.6 114.7h.01M168.8 153.6h.01M132.1 159.6h.01M143.0 31.0h.01M222.9 128.7h.01M119.1 124.2h.01M148.0 26.0h.01M200.5 130.7h.01M178.0 141.5h.01M166.8 149.3h.01M80.2 90.4h.01M237.5 15.2h.01M205.2 79.6h.01M60.1 29.3h.01M198.4 79.1h.01M223.5 23.8h.01M199.1 47.4h.01M178.3 139.0h.01M155.3 60.3h.01M195.8 53.7h.01M107.6 68.7h.01M169.6 48.0h.01" stroke="#d0b39e"/><path d="M156.7 31.3h.01M229.7 82.2h.01M143.3 164.6h.01M100.0 40.3h.01M217.5 45.0h.01M149.5 34.4h.01M101.5 148.7h.01M192.7 119.1h.01M171.0 160.9h.01M204.1 160.3h.01M75.4 95.4h.01M228.7 65.8h.01M230.7 143.8h.01M196.5 77.8h.01M77.3 97.0h.01M219.9 46.6h.01M237.7 69.6h.01M97.9 134.9h.01M200.7 93.3h.01M130.0 107.7h.01M60.2 98.9h.01M45.4 100.5h.01M105.9 38.9h.01M77.5 115.9h.01M106.4 36.1h.01M88.8 60.3h.01M221.5 22.2h.01M94.8 80.0h.01M222.3 45.4h.01M153.3 159.7h.01M221.7 16.9h.01M161.1 149.0h.01M179.0 17.7h.01M78.1 123.8h.01M214.0 140.6h.01M186.4 40.0h.01M134.6 158.7h.01M238.0 107.2h.01M180.8 135.1h.01M210.1 29.0h.01M155.6 54.4h.01M175.6 55.7h.01M167.7 133.0h.01M191.1 54.5h.01M187.2 148.0h.01M241.0 57.5h.01M69.5 17.8h.01M218.1 33.4h.01M173.8 120.0h.01M53.8 91.1h.01M55.3 69.7h.01M53.3 75.3h.01M221.5 53.4h.01M90.9 20.8h.01M76.4 163.6h.01M217.8 65.7h.01M92.2 72.8h.01M210.1 88.8h.01M175.9 149.6h.01M221.5 19.6h.01M198.0 97.4h.01M140.3 93.8h.01M193.9 79.0h.01M200.9 90.7h.01M97.4 76.1h.01M95.3 138.5h.01M184.8 149.4h.01M75.3 117.2h.01M227.9 91.5h.01M192.9 66.9h.01M176.6 116.0h.01M200.5 127.6h.01M102.3 91.6h.01M218.3 28.0h.01M48.9 93.3h.01M178.5 44.1h.01M220.6 26.8h.01M77.3 99.5h.01M134.9 116.5h.01M57.6 99.9h.01M64.7 30.1h.01M98.7 80.7h.01M232.2 94.4h.01M62.7 97.7h.01M117.0 26.1h.01M193.5 131.6h.01M62.6 28.5h.01M107.3 29.1h.01M195.4 65.9h.01M233.3 66.5h.01M235.3 113.6h.01M176.9 42.2h.01M193.1 104.9h.01M86.2 23.2h.01M74.1 161.9h.01M219.2 143.4h.01M235.0 88.2h.01M62.1 35.4h.01M180.7 137.8h.01M193.2 64.2h.01M215.4 67.0h.01M219.3 140.7h.01M195.7 103.9h.01M60.0 19.7h.01M151.7 27.5h.01M225.2 58.8h.01M55.8 117.7h.01M71.2 56.6h.01M174.2 23.1h.01M71.5 163.0h.01M147.5 66.0h.01M200.6 96.0h.01M215.0 69.6h.01M211.1 119.6h.01M195.1 109.0h.01M183.0 144.9h.01M189.4 87.3h.01M188.4 66.4h.01M189.0 89.8h.01M233.3 109.4h.01M159.6 139.4h.01M145.7 27.2h.01M144.8 94.4h.01M78.5 164.9h.01M238.7 99.4h.01M94.5 71.6h.01M51.3 107.7h.01M188.7 61.2h.01M224.2 15.7h.01M219.5 15.2h.01M93.4 22.7h.01M202.4 58.1h.01M176.3 118.8h.01M191.3 62.8h.01M72.9 115.6h.01M234.8 149.6h.01M141.6 128.8h.01M92.8 51.6h.01M64.0 39.3h.01M53.7 106.6h.01M165.3 134.3h.01M147.5 93.3h.01M203.2 153.2h.01M242.8 110.5h.01M234.0 101.6h.01M223.0 117.9h.01M200.4 56.5h.01M216.4 136.4h.01M126.5 80.7h.01M193.5 102.5h.01M242.0 115.7h.01M208.1 54.4h.01M183.1 136.5h.01M240.7 60.4h.01M209.0 115.2h.01M219.0 20.5h.01M202.5 97.8h.01M240.4 108.8h.01M181.0 63.6h.01M236.3 57.5h.01M238.5 61.6h.01M62.9 114.2h.01M180.7 48.4h.01M45.2 105.9h.01M175.3 58.5h.01M95.0 87.3h.01M167.5 46.5h.01M174.7 156.6h.01M231.6 99.9h.01M102.5 94.4h.01M82.2 39.4h.01M222.5 131.4h.01M117.0 158.4h.01M73.8 164.5h.01M55.4 76.9h.01M49.9 103.7h.01M224.9 64.4h.01M221.5 142.3h.01M206.6 161.6h.01M192.8 69.6h.01M79.6 95.7h.01M228.9 106.4h.01M141.1 163.2h.01M226.2 20.0h.01M64.4 36.7h.01M162.3 135.6h.01M139.4 118.5h.01M198.3 126.0h.01M144.6 112.6h.01M230.2 148.8h.01M238.2 64.2h.01M77.4 118.8h.01M204.3 163.1h.01M239.7 147.1h.01M172.8 134.0h.01M232.1 97.2h.01M168.6 18.8h.01M134.4 128.4h.01M232.9 115.1h.01M90.0 71.3h.01M46.5 121.8h.01M49.4 62.3h.01M171.7 23.9h.01M181.1 103.6h.01M97.2 88.9h.01M73.6 87.0h.01M97.1 78.8h.01M155.4 107.0h.01M102.2 140.5h.01M158.8 147.4h.01M207.1 84.1h.01M224.8 122.0h.01M47.6 105.1h.01M230.1 21.5h.01M69.8 15.3h.01M161.2 146.2h.01M141.9 117.4h.01M239.6 139.8h.01M59.6 47.2h.01M62.3 100.3h.01M206.7 116.4h.01M165.7 128.8h.01M218.2 36.3h.01M137.0 119.7h.01M198.0 131.8h.01M195.2 118.1h.01M90.4 50.3h.01M199.7 71.8h.01M163.5 150.6h.01M143.6 162.1h.01M170.0 134.5h.01M139.1 158.8h.01M220.2 121.9h.01M214.8 160.8h.01M171.4 149.7h.01M178.5 120.1h.01M99.5 144.5h.01M67.5 114.6h.01M108.6 35.1h.01M71.2 110.4h.01M48.7 95.9h.01M97.4 140.3h.01M64.2 23.0h.01M70.3 119.3h.01M87.7 69.6h.01M155.8 41.9h.01M53.0 70.9h.01" stroke="#d8c5bb"/><path d="M235.5 85.1h.01M53.4 72.6h.01M156.2 36.4h.01M114.4 33.2h.01M202.7 129.2h.01M141.4 160.6h.01M44.4 64.6h.01M86.6 53.4h.01M141.4 139.5h.01M242.3 136.3h.01M197.8 57.9h.01M136.9 157.5h.01M205.3 50.6h.01M126.6 122.5h.01M191.2 70.6h.01M238.4 132.4h.01M88.6 22.1h.01M190.5 95.4h.01M116.8 31.8h.01M241.2 95.5h.01M159.0 144.7h.01M169.6 22.5h.01M179.1 99.4h.01M235.7 108.3h.01M103.6 58.6h.01M240.6 63.1h.01M227.0 123.4h.01M192.9 107.5h.01M230.8 70.3h.01M132.2 109.1h.01M240.9 100.9h.01M234.8 19.0h.01M131.7 77.5h.01M192.0 162.3h.01M117.0 34.3h.01M117.1 29.1h.01M157.5 108.5h.01M227.7 94.1h.01M220.9 24.8h.01M82.3 99.3h.01M55.3 101.1h.01M67.2 19.1h.01M174.3 86.4h.01M51.0 71.1h.01M78.7 162.1h.01M136.3 66.7h.01M176.3 69.3h.01M123.9 16.9h.01M198.8 137.0h.01M240.6 43.8h.01M89.2 32.9h.01M157.8 105.9h.01M236.5 102.7h.01M180.0 118.4h.01M168.8 39.0h.01M126.2 23.6h.01M184.1 28.8h.01M181.5 101.0h.01M55.8 115.0h.01M227.5 117.2h.01M227.7 22.8h.01M64.8 17.6h.01M152.0 149.9h.01M190.3 130.5h.01M194.7 41.5h.01M133.8 73.2h.01M235.2 136.7h.01M116.9 15.6h.01M177.6 124.5h.01M173.7 67.7h.01M192.7 91.3h.01M211.4 164.2h.01M146.1 158.6h.01M211.6 147.3h.01M82.6 120.0h.01M165.0 157.6h.01M195.2 68.3h.01M233.8 106.9h.01M109.3 100.6h.01M48.8 120.8h.01M178.2 49.6h.01M198.5 91.8h.01M171.2 37.8h.01M234.2 55.8h.01M78.2 121.4h.01M240.2 111.4h.01M230.0 110.6h.01M91.0 48.1h.01M214.8 158.4h.01M140.0 85.6h.01M186.5 27.6h.01M114.8 156.8h.01M198.5 101.2h.01M197.9 134.4h.01M172.1 26.7h.01M167.1 49.0h.01M211.1 161.7h.01M168.9 44.5h.01M173.6 64.9h.01M84.1 46.7h.01M138.5 68.0h.01M143.7 103.4h.01M98.4 132.3h.01M174.3 20.2h.01M189.4 75.6h.01M201.3 138.6h.01M73.4 58.2h.01M177.5 134.0h.01M158.4 156.3h.01M141.3 96.7h.01M222.4 134.0h.01M62.0 32.8h.01M86.8 34.4h.01M66.5 110.4h.01M229.8 98.4h.01M188.7 31.6h.01M122.5 107.5h.01M139.1 100.7h.01M225.2 26.8h.01M191.2 46.5h.01M145.3 91.5h.01M143.4 100.7h.01M179.8 115.9h.01M75.2 27.6h.01M194.3 62.7h.01M146.2 161.3h.01M237.1 148.5h.01M108.0 66.8h.01M152.3 155.3h.01M157.6 163.0h.01M116.9 18.1h.01M117.4 87.9h.01M196.4 96.4h.01M75.7 122.7h.01M232.9 145.4h.01M242.8 45.1h.01M73.2 60.8h.01M137.3 117.6h.01M237.7 112.6h.01M119.3 19.7h.01M148.8 81.8h.01M188.9 47.9h.01M170.7 19.9h.01M148.8 165.5h.01M139.4 138.2h.01M188.7 42.5h.01M238.0 53.1h.01M188.8 50.6h.01M97.4 86.3h.01M178.2 136.6h.01M191.3 73.1h.01M233.1 112.1h.01M156.2 157.6h.01M82.4 117.3h.01M228.1 147.6h.01M175.9 103.5h.01M82.1 37.2h.01M219.7 138.0h.01M173.6 47.2h.01M131.5 74.9h.01M75.3 43.7h.01M122.8 122.6h.01M85.2 77.8h.01M175.2 130.1h.01M184.9 163.8h.01M182.0 117.1h.01M162.0 138.2h.01M51.5 92.1h.01M101.2 57.2h.01M170.0 27.8h.01M97.1 100.7h.01M237.4 118.1h.01M230.0 113.3h.01M141.6 126.2h.01M238.8 104.8h.01M89.0 46.7h.01M194.2 60.0h.01M205.7 152.3h.01M156.2 154.9h.01M155.2 164.2h.01M240.8 120.0h.01M164.9 47.5h.01M229.8 131.4h.01M106.7 104.7h.01M225.3 29.4h.01M216.2 147.3h.01M86.7 56.3h.01M135.5 93.3h.01M240.7 125.5h.01M88.9 57.5h.01M184.8 152.8h.01M64.4 101.7h.01M181.0 61.0h.01M57.5 45.5h.01M209.1 163.0h.01M117.1 23.7h.01M219.9 135.2h.01M147.1 111.7h.01M171.2 45.7h.01M95.1 104.5h.01M191.2 41.1h.01M238.6 59.0h.01M195.7 132.9h.01M184.2 120.8h.01M234.0 96.7h.01M136.4 69.4h.01M176.8 158.4h.01M188.8 71.9h.01M242.8 42.5h.01M171.4 40.2h.01M227.4 120.9h.01M82.3 34.5h.01M225.3 119.3h.01M119.3 27.6h.01M44.6 90.1h.01M194.2 100.9h.01M174.4 25.3h.01M242.7 55.9h.01M163.6 131.7h.01M138.2 94.7h.01M181.2 66.4h.01M104.1 147.7h.01M143.9 132.7h.01M234.9 79.2h.01M163.5 129.0h.01M130.0 110.2h.01M155.0 109.6h.01M84.4 100.6h.01M136.4 74.7h.01M131.7 69.3h.01M89.3 35.7h.01M141.4 120.7h.01M218.6 26.2h.01M178.3 67.6h.01M232.1 132.5h.01M103.8 150.4h.01M106.5 146.4h.01M184.2 37.0h.01M201.4 88.1h.01M191.1 57.2h.01M129.4 76.1h.01M183.6 14.9h.01M241.1 106.2h.01M89.9 80.6h.01M178.4 148.7h.01M124.9 106.2h.01M221.5 144.8h.01M148.7 162.6h.01" stroke="#ded3d4"/><path d="M162.8 117.6h.01M232.6 23.4h.01M188.7 34.3h.01M240.5 49.2h.01M129.4 78.7h.01M242.8 50.4h.01M186.9 151.7h.01M191.2 43.7h.01M170.7 17.2h.01M184.1 26.0h.01M184.7 160.9h.01M48.8 123.4h.01M216.4 139.0h.01M237.2 80.8h.01M114.8 19.5h.01M82.2 28.9h.01M184.0 31.7h.01M191.0 35.6h.01M177.5 121.9h.01M178.7 56.9h.01M114.7 27.7h.01M181.0 55.8h.01M232.1 83.3h.01M238.2 47.7h.01M93.6 49.4h.01M124.8 114.9h.01M79.9 38.4h.01M173.1 18.4h.01M191.0 49.2h.01M129.4 34.8h.01M139.3 132.7h.01M82.2 31.7h.01M54.1 63.7h.01M210.6 53.5h.01M160.8 57.5h.01M140.0 88.2h.01M86.6 48.0h.01M206.9 57.5h.01M139.3 157.1h.01M240.8 130.9h.01M212.9 156.7h.01M182.9 49.7h.01M234.7 21.9h.01M177.0 155.4h.01M124.0 19.7h.01M187.0 156.9h.01M142.7 77.3h.01M123.9 162.3h.01M124.0 159.6h.01M186.3 43.9h.01M64.2 104.2h.01M237.2 83.3h.01M238.7 126.7h.01M85.3 75.1h.01M117.0 20.8h.01M161.0 127.8h.01M240.3 46.4h.01M68.7 111.7h.01M191.1 38.6h.01M141.6 123.3h.01M96.3 81.9h.01M127.1 110.9h.01M237.7 140.7h.01M141.6 134.0h.01M96.4 57.2h.01M219.5 49.2h.01M153.9 156.3h.01M238.1 42.5h.01M148.5 157.1h.01M240.8 122.8h.01M234.0 99.5h.01M155.7 51.7h.01M179.2 86.6h.01M198.9 52.1h.01M158.9 128.8h.01M140.4 78.6h.01M181.3 16.2h.01M62.0 103.0h.01M191.3 51.7h.01M154.5 147.0h.01M141.2 102.2h.01M176.8 87.7h.01M176.3 66.4h.01M208.4 51.9h.01M175.8 48.4h.01M77.5 42.5h.01M227.3 83.2h.01M184.2 42.4h.01M84.7 22.2h.01M240.0 144.6h.01M77.5 29.1h.01M69.0 109.0h.01M217.6 68.4h.01M175.3 106.6h.01M242.8 53.3h.01M98.9 83.5h.01M186.7 119.7h.01M128.7 121.0h.01M179.0 62.5h.01M191.2 30.3h.01M191.1 32.8h.01M107.7 88.8h.01M168.9 50.0h.01M228.8 109.1h.01M204.7 82.5h.01M211.7 138.9h.01M143.7 157.3h.01M227.1 65.1h.01M130.0 104.8h.01M181.5 19.3h.01M191.9 61.1h.01M203.8 52.2h.01M80.1 118.7h.01M227.3 77.8h.01M173.0 105.3h.01M184.2 118.3h.01M55.8 64.2h.01M94.8 99.3h.01M84.6 30.3h.01M98.4 129.7h.01M86.8 99.3h.01M64.4 98.9h.01" stroke="#e2d9e2"/></g><g stroke-width="2.45" stroke-linecap="round" fill="none" clip-path="url(#clip2)"><path d="M207.9 183.8h.01M143.1 193.3h.01M139.1 332.6h.01M51.8 300.5h.01M192.1 233.8h.01M197.1 256.3h.01M155.5 227.7h.01M81.5 311.8h.01M140.0 246.6h.01M195.5 298.8h.01M135.3 201.0h.01M84.0 307.0h.01M192.2 240.3h.01M143.7 196.4h.01M215.1 298.6h.01M122.5 239.2h.01M155.4 224.8h.01M75.9 311.9h.01M120.0 329.5h.01M90.9 303.9h.01M161.6 239.8h.01M140.8 185.3h.01M181.3 252.5h.01M139.3 242.0h.01M70.5 302.2h.01M83.7 300.6h.01M78.4 297.6h.01M136.5 331.2h.01M78.3 300.6h.01M188.6 263.2h.01M73.3 303.9h.01M122.4 236.0h.01M189.5 241.6h.01M93.3 205.6h.01M178.7 241.8h.01M139.1 236.1h.01M133.8 235.7h.01M139.5 209.2h.01M70.3 195.0h.01M140.5 201.0h.01M181.4 236.9h.01M119.8 234.2h.01M152.9 214.1h.01M149.5 235.0h.01M81.4 324.3h.01M125.1 240.5h.01M70.6 308.4h.01M78.3 199.8h.01M86.5 293.0h.01" stroke="#e2d9e2"/><path d="M78.3 325.9h.01M155.5 211.6h.01M143.4 183.6h.01M81.5 292.8h.01M147.2 234.3h.01M161.3 217.2h.01M192.2 237.1h.01M195.0 241.4h.01M213.1 186.6h.01M169.1 234.3h.01M73.5 300.4h.01M210.6 185.1h.01M132.5 332.9h.01M205.0 248.0h.01M143.3 202.9h.01M94.1 214.8h.01M150.5 206.1h.01M67.9 300.7h.01M215.7 194.6h.01M160.6 230.3h.01M191.4 198.9h.01M140.6 197.9h.01M126.8 202.2h.01M78.3 193.3h.01M213.1 183.6h.01M195.4 196.1h.01M87.8 302.9h.01M125.4 325.1h.01M65.0 201.5h.01M139.1 232.7h.01M132.9 260.6h.01M185.8 258.6h.01M197.4 233.9h.01M188.7 200.6h.01M214.9 311.1h.01M98.7 300.2h.01M47.7 307.1h.01M83.1 309.6h.01M194.6 238.3h.01M147.4 214.0h.01M136.2 242.7h.01M144.7 235.9h.01M137.0 194.7h.01M174.8 249.2h.01M229.9 316.1h.01M172.1 235.4h.01M150.2 244.2h.01M121.6 228.1h.01M200.0 235.4h.01M217.1 320.9h.01M67.7 187.8h.01M176.0 234.0h.01M79.6 205.8h.01M76.0 305.3h.01M140.8 188.3h.01M76.4 320.4h.01M164.2 204.3h.01M134.1 193.5h.01M123.6 197.7h.01M152.7 207.7h.01M144.8 212.5h.01M178.6 244.8h.01M191.2 258.6h.01M212.4 303.3h.01M161.2 186.3h.01M157.6 206.7h.01M142.0 216.3h.01M62.9 331.9h.01M157.9 226.4h.01M83.7 319.7h.01M78.8 322.7h.01M146.6 261.2h.01M76.0 315.1h.01M91.4 213.6h.01M158.2 223.5h.01M75.9 302.0h.01M144.6 242.1h.01M152.8 210.7h.01M158.6 216.0h.01M131.1 234.0h.01M73.7 319.1h.01M83.8 316.7h.01M84.0 313.5h.01M181.5 249.5h.01M79.1 318.6h.01M188.3 253.7h.01M177.5 190.9h.01M93.8 208.8h.01M76.9 207.4h.01M171.6 286.5h.01M136.5 237.4h.01M190.2 227.3h.01M91.6 216.6h.01M140.5 195.1h.01M166.7 239.2h.01M125.5 222.0h.01M143.4 256.4h.01M178.6 235.4h.01M216.7 256.4h.01M181.2 243.1h.01M71.1 205.1h.01M240.8 209.5h.01M81.5 299.1h.01M125.4 332.5h.01M96.1 301.0h.01M153.1 223.0h.01M65.9 208.5h.01M149.0 203.0h.01M124.5 229.2h.01M212.3 297.0h.01M93.5 302.4h.01M88.6 208.5h.01M134.3 241.6h.01M217.7 300.1h.01M185.7 197.4h.01M146.2 258.0h.01M124.0 223.4h.01M144.7 218.7h.01" stroke="#d5d6dc"/><path d="M170.6 216.5h.01M128.0 246.1h.01M138.7 183.8h.01M156.2 240.5h.01M164.0 187.5h.01M141.2 261.6h.01M188.4 256.9h.01M129.7 331.3h.01M128.9 194.1h.01M160.9 233.4h.01M73.1 199.7h.01M213.7 328.1h.01M166.7 185.6h.01M161.3 236.7h.01M58.2 300.5h.01M171.6 283.2h.01M130.4 262.2h.01M139.2 189.9h.01M132.3 201.7h.01M175.0 241.1h.01M134.0 238.9h.01M126.8 198.9h.01M147.5 194.8h.01M122.0 231.1h.01M134.4 196.7h.01M198.2 194.6h.01M222.8 309.6h.01M169.7 207.2h.01M140.6 255.2h.01M167.2 242.3h.01M132.1 326.6h.01M131.3 237.1h.01M160.8 183.0h.01M89.5 272.6h.01M177.8 219.1h.01M136.6 234.2h.01M218.7 315.4h.01M137.8 199.7h.01M185.7 200.4h.01M214.5 319.5h.01M155.1 205.3h.01M150.9 253.3h.01M191.2 202.3h.01M167.0 188.7h.01M164.6 207.5h.01M156.1 217.7h.01M194.9 235.4h.01M223.8 328.2h.01M50.5 304.9h.01M88.6 309.1h.01M135.8 204.1h.01M73.2 202.9h.01M121.5 225.0h.01M107.7 186.3h.01M150.4 250.3h.01M230.7 203.4h.01M76.2 317.4h.01M205.8 306.2h.01M77.2 185.4h.01M195.1 190.1h.01M92.0 270.9h.01M71.1 320.9h.01M122.6 242.2h.01M88.1 205.4h.01M230.0 212.9h.01M131.5 216.9h.01M173.0 211.5h.01M164.9 283.3h.01M180.4 255.5h.01M125.3 244.9h.01M157.9 229.0h.01M90.5 207.1h.01M152.1 236.4h.01M209.2 326.2h.01M131.2 214.0h.01M136.1 185.7h.01M61.1 301.5h.01M115.0 236.4h.01M140.7 224.6h.01M170.4 213.3h.01M165.2 227.9h.01M63.3 299.7h.01M66.7 217.7h.01M149.8 241.1h.01M163.8 184.5h.01M68.8 206.8h.01M152.5 239.5h.01M127.2 330.0h.01M230.9 206.4h.01M181.8 266.7h.01M136.1 207.4h.01M102.6 189.8h.01M151.5 201.1h.01M74.2 325.6h.01M152.6 242.4h.01M82.1 253.9h.01M70.8 317.9h.01M141.0 258.4h.01M129.6 252.9h.01M72.1 294.7h.01M215.3 308.1h.01M67.5 184.4h.01M74.6 331.4h.01M208.8 320.0h.01M183.8 238.7h.01M211.6 318.2h.01M190.4 230.5h.01M212.0 324.5h.01M124.5 329.0h.01M214.2 200.8h.01M211.3 202.5h.01M71.3 207.9h.01M178.6 253.9h.01M126.4 258.4h.01M85.5 204.0h.01M141.5 267.5h.01M198.3 197.5h.01M71.4 198.2h.01M70.4 332.6h.01M158.3 184.5h.01M91.1 313.5h.01M162.0 195.1h.01M86.6 308.5h.01M138.9 186.9h.01M63.5 200.2h.01M161.8 206.1h.01M163.9 215.3h.01M216.8 327.4h.01M168.1 218.3h.01M65.1 332.7h.01" stroke="#bfccd3"/><path d="M47.3 303.7h.01M195.2 193.0h.01M70.7 192.1h.01M149.6 237.9h.01M174.8 287.2h.01M224.1 331.6h.01M84.6 269.0h.01M192.6 300.3h.01M229.7 312.9h.01M165.4 213.9h.01M117.3 184.1h.01M65.9 205.4h.01M191.8 317.2h.01M114.5 183.0h.01M167.3 284.7h.01M193.3 205.4h.01M166.8 191.7h.01M61.1 304.4h.01M56.3 310.8h.01M100.2 191.6h.01M155.4 230.8h.01M155.4 208.6h.01M78.9 202.7h.01M195.4 306.5h.01M206.0 309.2h.01M73.3 190.2h.01M68.4 193.7h.01M122.4 187.7h.01M177.4 239.4h.01M129.4 200.2h.01M65.6 321.3h.01M116.5 212.7h.01M150.4 224.7h.01M116.4 195.0h.01M89.2 234.9h.01M68.8 196.9h.01M67.9 190.8h.01M227.0 332.6h.01M55.5 301.9h.01M73.5 193.4h.01M104.7 184.9h.01M62.7 328.9h.01M99.5 188.6h.01M109.8 207.6h.01M91.2 210.7h.01M63.8 302.9h.01M161.1 214.3h.01M131.8 243.3h.01M207.4 243.2h.01M153.4 225.9h.01M131.6 240.5h.01M182.9 253.7h.01M85.9 310.9h.01M65.1 315.2h.01M73.7 322.2h.01M197.2 188.4h.01M143.8 259.7h.01M173.3 278.3h.01M172.6 208.5h.01M192.7 194.8h.01M75.8 189.0h.01M76.6 204.5h.01M158.2 232.3h.01M139.6 214.9h.01M126.5 255.0h.01M173.6 217.7h.01M96.1 298.8h.01M126.3 262.0h.01M169.7 204.1h.01M216.7 332.5h.01M224.9 320.6h.01M136.4 210.6h.01M177.3 285.2h.01M155.8 214.7h.01M72.4 311.2h.01M185.5 245.8h.01M70.5 188.9h.01M181.3 263.5h.01M105.0 188.2h.01M73.6 211.5h.01M173.4 228.0h.01M51.5 314.7h.01M126.4 265.1h.01M68.0 316.2h.01M136.5 188.8h.01M85.7 207.2h.01M192.0 320.3h.01M107.2 183.2h.01M88.1 306.1h.01M128.1 220.1h.01M161.8 220.4h.01M65.5 318.3h.01M211.9 321.3h.01M50.8 311.7h.01M117.7 221.8h.01M72.0 330.1h.01M68.2 319.6h.01M110.7 213.9h.01M203.3 307.9h.01M165.1 286.6h.01M93.7 245.1h.01M93.9 211.9h.01M203.6 311.0h.01M208.4 313.8h.01M117.5 234.9h.01M217.8 309.5h.01M129.5 203.3h.01M178.8 265.4h.01M61.7 209.5h.01M108.9 198.1h.01M203.0 304.8h.01M136.8 191.6h.01M131.7 195.2h.01M219.3 197.0h.01M167.3 212.2h.01M204.7 245.2h.01M124.1 192.3h.01M136.2 245.8h.01M121.3 191.0h.01M157.7 203.6h.01M173.3 304.6h.01M139.2 211.8h.01M99.3 185.5h.01M110.5 187.5h.01M162.0 242.9h.01M142.0 213.0h.01M66.0 198.5h.01M70.1 182.8h.01M91.7 268.0h.01M172.5 289.2h.01M79.5 252.4h.01M190.9 311.4h.01M177.1 306.4h.01M183.6 297.2h.01M177.3 221.0h.01M147.4 242.9h.01M147.9 223.6h.01M202.3 246.8h.01M128.3 233.0h.01" stroke="#a6bfca"/><path d="M130.3 211.7h.01M111.3 196.1h.01M187.2 203.8h.01M67.7 312.1h.01M164.3 266.9h.01M219.6 308.2h.01M136.9 216.7h.01M124.1 206.3h.01M225.6 202.0h.01M158.9 213.4h.01M181.2 216.1h.01M214.1 331.3h.01M177.5 262.5h.01M114.3 232.3h.01M121.6 208.4h.01M129.9 255.1h.01M176.4 330.5h.01M221.8 194.9h.01M217.1 202.2h.01M64.5 311.1h.01M87.4 210.7h.01M166.9 292.4h.01M220.9 313.3h.01M136.3 213.6h.01M208.8 317.1h.01M175.0 252.4h.01M128.5 223.3h.01M156.5 200.8h.01M52.0 317.7h.01M117.0 219.1h.01M187.4 230.4h.01M122.0 184.6h.01M54.9 318.9h.01M111.8 185.1h.01M178.3 224.0h.01M164.6 243.8h.01M101.9 183.6h.01M163.6 231.8h.01M166.7 274.8h.01M183.5 312.2h.01M222.8 201.1h.01M161.2 290.2h.01M108.3 195.2h.01M158.9 241.8h.01M126.0 249.2h.01M132.4 253.1h.01M87.9 213.8h.01M54.3 315.9h.01M146.9 191.0h.01M158.1 209.8h.01M206.3 328.0h.01M125.5 215.6h.01M119.5 196.1h.01M58.5 322.8h.01M163.9 274.0h.01M208.1 322.8h.01M44.9 305.7h.01M107.4 209.6h.01M171.9 218.9h.01M71.6 184.6h.01M129.7 328.3h.01M163.8 263.9h.01M126.8 207.2h.01M118.9 193.5h.01M63.4 219.9h.01M203.7 330.0h.01M164.5 224.6h.01M45.0 309.5h.01M85.0 212.3h.01M74.1 206.1h.01M123.1 221.3h.01M175.8 267.2h.01M74.8 217.7h.01M57.6 302.8h.01M57.1 214.7h.01M116.5 209.5h.01M186.0 212.2h.01M177.3 208.9h.01M165.3 297.6h.01M167.2 209.0h.01M45.6 312.7h.01M100.2 194.8h.01M170.4 303.3h.01M174.5 261.4h.01M131.5 248.1h.01M226.8 330.0h.01M153.3 251.6h.01M120.9 205.5h.01M69.7 313.1h.01M71.5 213.5h.01M102.8 193.1h.01M113.7 228.9h.01M166.3 233.9h.01M86.5 221.8h.01M60.8 298.4h.01M221.4 316.4h.01M176.6 205.7h.01M168.1 214.6h.01M126.5 190.1h.01M175.2 220.7h.01M71.7 327.1h.01M92.1 250.4h.01M173.9 281.1h.01M141.5 264.5h.01M131.6 323.4h.01M164.6 210.5h.01M110.4 210.9h.01M115.9 192.2h.01M139.7 217.9h.01M172.7 242.7h.01M179.1 230.1h.01M158.6 292.2h.01M167.0 205.9h.01M123.4 203.5h.01M188.8 313.5h.01M152.7 232.7h.01M73.1 317.1h.01M81.4 208.5h.01M62.6 316.1h.01M102.4 186.8h.01M74.8 309.2h.01M178.3 214.8h.01M127.4 210.5h.01M152.3 189.7h.01M157.1 246.5h.01M92.9 263.4h.01M203.5 327.0h.01M194.9 294.8h.01M214.0 326.0h.01M60.3 318.2h.01M105.1 211.7h.01M131.8 251.1h.01M211.2 315.0h.01M118.4 190.0h.01M59.1 312.0h.01M63.2 319.0h.01M160.0 247.4h.01M81.2 318.0h.01M222.2 319.4h.01M68.6 303.7h.01M164.5 241.0h.01M213.9 255.4h.01M191.1 329.8h.01M192.3 297.5h.01M156.6 243.0h.01M161.0 272.8h.01M198.0 329.2h.01M80.1 216.5h.01M228.6 310.0h.01M141.6 191.7h.01M104.3 203.2h.01M212.7 313.1h.01M184.4 202.7h.01M182.6 244.7h.01M196.5 312.4h.01M99.1 297.1h.01M60.8 306.9h.01M198.8 208.2h.01M132.8 257.2h.01M110.0 189.9h.01M170.0 293.4h.01M66.2 220.8h.01M125.5 219.2h.01M201.6 332.2h.01M89.9 252.2h.01M72.1 291.8h.01M89.6 259.2h.01M193.5 203.2h.01M107.7 206.2h.01M136.2 267.8h.01M175.2 223.1h.01M162.3 212.6h.01" stroke="#8eb1c5"/><path d="M53.5 309.7h.01M63.9 307.7h.01M213.6 322.9h.01M161.0 210.9h.01M223.6 204.4h.01M129.5 208.5h.01M176.9 232.2h.01M128.6 250.0h.01M66.2 305.8h.01M122.2 211.4h.01M216.3 324.1h.01M74.5 185.7h.01M100.4 223.0h.01M143.9 189.6h.01M91.5 246.9h.01M155.0 274.9h.01M113.8 194.1h.01M122.8 200.3h.01M59.9 314.9h.01M176.7 282.2h.01M227.0 208.5h.01M163.9 221.8h.01M200.3 296.8h.01M191.5 332.9h.01M175.4 213.9h.01M86.4 233.9h.01M116.0 227.1h.01M62.0 212.5h.01M118.3 225.3h.01M56.1 324.9h.01M168.7 232.2h.01M225.4 199.1h.01M69.5 324.2h.01M171.1 229.9h.01M63.9 222.9h.01M226.4 205.3h.01M73.9 182.8h.01M131.9 291.0h.01M134.8 249.2h.01M178.8 301.1h.01M131.9 206.6h.01M57.6 217.7h.01M167.5 295.4h.01M105.3 206.1h.01M116.3 230.2h.01M61.4 324.0h.01M178.7 227.1h.01M124.7 195.3h.01M176.6 256.2h.01M162.5 245.5h.01M167.0 222.7h.01M154.2 245.3h.01M173.1 214.5h.01M107.4 189.0h.01M160.4 250.4h.01M182.2 332.4h.01M155.0 234.4h.01M200.2 302.3h.01M200.1 293.8h.01M166.9 267.9h.01M184.9 205.8h.01M65.7 210.8h.01M117.7 187.1h.01M105.5 214.6h.01M115.0 220.7h.01M220.1 318.3h.01M114.1 197.1h.01M199.4 324.1h.01M181.7 329.2h.01M106.7 220.6h.01M149.3 255.2h.01M150.1 183.7h.01M194.8 303.3h.01M191.4 314.5h.01M57.0 313.9h.01M120.0 199.5h.01M50.2 308.8h.01M128.4 216.6h.01M226.7 315.5h.01M89.7 226.5h.01M155.4 237.2h.01M181.6 228.3h.01M167.9 229.1h.01M164.4 277.0h.01M170.9 280.2h.01M159.1 198.7h.01M181.2 299.2h.01M197.0 293.3h.01M93.9 266.2h.01M49.1 316.8h.01M108.0 212.6h.01M59.9 215.8h.01M125.1 291.9h.01M107.5 226.8h.01M162.4 202.9h.01M103.1 195.9h.01M149.8 191.7h.01M179.7 206.9h.01M137.5 250.1h.01M105.2 193.8h.01M92.6 260.4h.01M162.0 226.9h.01M70.8 223.3h.01M112.1 219.7h.01M55.9 222.8h.01M106.4 200.1h.01M48.6 313.9h.01M205.7 325.1h.01M158.5 275.0h.01M57.2 316.9h.01M173.6 204.5h.01M69.6 310.1h.01M200.6 305.4h.01M133.7 245.9h.01M92.8 239.3h.01M56.7 328.2h.01M116.9 198.2h.01M204.9 321.9h.01M222.3 326.2h.01M72.1 216.2h.01M220.2 331.1h.01M169.8 241.4h.01M226.2 312.2h.01M138.7 258.8h.01M172.3 221.9h.01M219.9 199.9h.01M170.2 270.3h.01M136.4 260.7h.01M52.8 307.0h.01M123.6 189.2h.01M104.6 208.5h.01M79.3 311.0h.01M166.4 288.9h.01M57.9 319.8h.01M224.5 317.6h.01M129.1 205.5h.01M116.6 215.9h.01M58.8 309.0h.01M160.0 284.1h.01M46.3 315.8h.01M64.3 325.1h.01M73.1 221.0h.01M181.8 302.5h.01M121.9 194.2h.01M152.0 229.4h.01M170.2 210.2h.01M167.5 225.8h.01M169.9 268.1h.01M223.8 206.9h.01M184.8 232.2h.01M161.8 223.8h.01M172.5 239.6h.01M114.9 186.1h.01M161.4 275.9h.01M106.1 197.1h.01M93.2 242.3h.01M162.5 282.0h.01M114.4 217.9h.01M52.6 321.1h.01M125.0 212.6h.01M129.3 191.1h.01M45.8 219.1h.01M85.9 218.6h.01M180.8 224.8h.01M109.5 222.1h.01M182.1 231.4h.01M167.6 245.6h.01M126.4 204.5h.01M204.8 318.7h.01M176.0 216.8h.01M107.3 224.0h.01M107.8 192.0h.01M76.1 209.4h.01M219.8 328.3h.01M182.6 208.0h.01M131.8 198.7h.01M74.3 214.5h.01M185.2 209.0h.01M172.7 225.0h.01M176.8 245.9h.01M70.9 210.2h.01M133.1 212.6h.01M170.3 227.0h.01M112.3 223.0h.01M147.9 196.9h.01M133.7 285.8h.01M73.3 208.3h.01M47.5 321.6h.01M54.3 213.5h.01M182.3 321.1h.01M81.8 250.6h.01M139.5 193.1h.01M228.5 203.5h.01M158.4 238.4h.01M104.8 190.7h.01M217.9 312.3h.01M84.3 254.5h.01M197.2 301.3h.01M201.2 308.6h.01M94.9 251.2h.01M152.9 254.6h.01M208.9 329.2h.01M120.6 222.9h.01M190.7 327.7h.01M151.9 247.4h.01M84.3 265.8h.01M179.4 257.5h.01M59.9 332.2h.01M75.6 220.4h.01M109.1 183.8h.01" stroke="#7ba1c2"/><path d="M110.8 228.1h.01M109.9 192.6h.01M70.4 315.9h.01M175.7 272.3h.01M68.4 225.2h.01M168.2 251.1h.01M182.0 204.9h.01M66.1 214.4h.01M111.1 216.8h.01M166.7 236.9h.01M169.3 238.6h.01M149.8 258.1h.01M149.0 188.7h.01M80.6 237.9h.01M152.6 192.8h.01M115.3 224.2h.01M72.8 314.1h.01M174.0 258.3h.01M213.3 316.2h.01M111.9 205.9h.01M127.6 196.3h.01M68.9 212.0h.01M88.8 219.7h.01M222.2 197.6h.01M184.5 229.2h.01M111.2 230.8h.01M186.4 301.9h.01M78.9 307.8h.01M135.4 252.2h.01M170.2 245.5h.01M155.0 263.5h.01M170.1 276.5h.01M217.2 317.4h.01M168.6 282.1h.01M118.8 228.3h.01M49.7 320.1h.01M164.1 291.3h.01M69.1 215.2h.01M159.2 270.5h.01M85.2 215.6h.01M155.2 252.4h.01M159.5 244.3h.01M160.5 287.2h.01M207.0 330.8h.01M157.5 235.3h.01M119.9 220.2h.01M104.0 199.0h.01M84.2 209.7h.01M55.8 307.5h.01M50.5 330.1h.01M59.4 329.3h.01M159.6 280.9h.01M58.9 326.3h.01M193.5 311.2h.01M127.9 213.8h.01M162.0 200.2h.01M104.6 226.0h.01M180.7 212.9h.01M215.7 314.5h.01M131.8 189.4h.01M150.3 194.6h.01M112.2 190.4h.01M117.6 201.0h.01M154.3 260.6h.01M192.2 208.4h.01M137.0 255.5h.01M190.4 301.0h.01M132.7 209.5h.01M163.7 288.2h.01M189.6 302.8h.01M172.5 268.1h.01M52.3 303.4h.01M156.7 269.8h.01M173.7 231.0h.01M66.6 323.1h.01M171.4 262.9h.01M169.3 221.0h.01M174.3 284.3h.01M113.3 212.0h.01M159.9 205.2h.01M175.0 264.4h.01M171.5 251.6h.01M195.6 314.2h.01M48.5 219.9h.01M124.3 209.4h.01M87.4 228.4h.01M120.4 202.2h.01M176.2 229.0h.01M76.1 229.1h.01M150.8 198.0h.01M52.8 328.0h.01M78.9 229.9h.01M224.1 314.2h.01M82.7 214.6h.01M131.6 203.6h.01M119.3 231.3h.01M163.8 236.1h.01M197.6 304.2h.01M165.7 216.9h.01M91.0 244.2h.01M98.9 200.4h.01M55.3 304.9h.01M197.8 296.0h.01M155.5 193.8h.01M161.0 265.7h.01M219.0 194.1h.01M87.6 270.2h.01M183.2 210.8h.01M180.2 209.9h.01M149.8 231.6h.01M53.9 312.7h.01M158.7 256.4h.01M48.2 332.2h.01M175.6 226.0h.01M58.3 305.8h.01M96.8 254.1h.01M113.6 214.9h.01M162.5 260.2h.01M61.4 310.0h.01M216.7 235.6h.01M78.9 210.5h.01M157.3 261.5h.01M57.1 331.0h.01M170.7 259.8h.01M115.4 188.8h.01M58.1 220.7h.01M49.1 324.3h.01M189.4 246.3h.01M234.2 207.7h.01M217.6 330.0h.01M96.5 213.0h.01M67.0 308.9h.01M154.4 249.5h.01M83.3 220.0h.01M170.7 248.6h.01M195.9 309.3h.01M132.0 192.2h.01M173.8 311.3h.01M108.8 218.8h.01M158.8 267.4h.01M47.0 318.8h.01M166.5 264.9h.01M88.4 231.5h.01M175.0 269.0h.01M162.5 271.5h.01M108.4 215.7h.01M165.7 231.0h.01M156.3 185.5h.01M156.5 258.7h.01M88.2 216.8h.01M113.0 226.0h.01M63.3 304.9h.01M171.8 246.7h.01M163.6 218.8h.01M178.1 251.6h.01M187.2 315.7h.01M192.0 322.6h.01M153.8 199.7h.01M179.2 204.1h.01M152.2 262.8h.01M156.6 280.0h.01M182.8 218.6h.01M194.5 315.8h.01M177.7 211.6h.01M119.4 210.4h.01M192.7 247.0h.01M220.3 310.2h.01M114.7 200.1h.01M167.9 276.6h.01M166.2 252.9h.01M134.9 190.3h.01M119.9 185.1h.01M125.1 280.8h.01" stroke="#6d90c0"/><path d="M171.0 306.5h.01M68.1 209.0h.01M170.1 256.8h.01M121.9 287.2h.01M88.3 247.2h.01M60.7 321.1h.01M134.9 257.5h.01M123.9 217.1h.01M89.7 242.1h.01M126.6 252.4h.01M84.5 251.0h.01M229.3 199.7h.01M165.6 278.8h.01M46.0 323.1h.01M173.7 324.4h.01M77.2 215.8h.01M213.9 234.5h.01M200.2 326.9h.01M51.1 227.8h.01M147.2 263.5h.01M100.9 226.0h.01M238.1 201.8h.01M54.1 322.7h.01M185.8 310.1h.01M157.0 188.6h.01M120.7 216.2h.01M83.1 217.6h.01M175.4 327.7h.01M174.0 244.7h.01M188.9 311.0h.01M126.9 193.3h.01M86.6 252.2h.01M180.8 220.6h.01M214.5 237.6h.01M160.6 208.2h.01M156.2 196.7h.01M85.9 238.2h.01M107.6 203.6h.01M141.0 331.4h.01M96.8 202.8h.01M160.7 192.2h.01M142.0 282.6h.01M81.4 240.4h.01M154.1 187.8h.01M163.0 285.2h.01M146.0 286.0h.01M169.9 223.9h.01M171.6 233.0h.01M49.2 222.9h.01M189.8 210.5h.01M165.7 300.0h.01M227.6 323.1h.01M195.3 324.4h.01M156.0 255.6h.01M88.8 239.3h.01M233.4 204.6h.01M163.8 248.6h.01M61.0 221.8h.01M166.9 255.8h.01M173.1 329.6h.01M161.1 254.4h.01M112.7 208.9h.01M149.2 228.4h.01M91.7 255.5h.01M190.0 324.8h.01M82.8 232.8h.01M101.9 201.3h.01M49.8 327.1h.01M154.0 202.8h.01M159.1 277.9h.01M100.2 214.2h.01M80.1 223.8h.01M97.2 215.8h.01M179.4 304.2h.01M157.3 272.7h.01M157.8 253.4h.01M92.2 236.1h.01M159.5 202.1h.01M112.6 188.0h.01M185.4 314.4h.01M85.1 230.7h.01M236.5 205.5h.01M175.0 319.1h.01M157.8 191.5h.01M129.0 289.7h.01M189.2 207.3h.01M153.6 280.1h.01M219.3 325.2h.01M177.2 317.0h.01M101.8 205.2h.01M161.8 257.1h.01M48.0 310.5h.01M172.2 265.9h.01M95.6 210.0h.01M103.1 223.7h.01M82.1 211.5h.01M172.0 274.4h.01M229.6 195.7h.01M78.3 219.9h.01M126.6 286.8h.01M206.5 315.7h.01M189.1 316.7h.01M182.0 305.4h.01M187.8 282.5h.01M240.4 183.4h.01M62.2 312.8h.01M191.3 205.1h.01M168.3 262.2h.01M97.6 257.1h.01M159.2 333.0h.01M190.9 308.7h.01M169.3 264.9h.01M62.4 215.7h.01M146.8 183.5h.01M120.2 213.5h.01M86.1 262.5h.01M83.9 222.5h.01M180.8 326.1h.01M164.8 269.3h.01M154.4 293.7h.01M185.3 317.9h.01M123.2 213.9h.01M47.7 227.4h.01M53.5 331.0h.01M185.7 320.8h.01M76.6 212.6h.01M176.0 322.3h.01M89.0 223.2h.01M139.1 253.2h.01M197.3 332.7h.01M45.3 320.3h.01M172.8 308.1h.01M109.9 204.2h.01M198.2 298.8h.01M218.3 323.4h.01M213.2 231.6h.01M101.2 198.1h.01M149.2 262.0h.01M64.1 229.6h.01M109.7 201.7h.01M183.9 221.6h.01" stroke="#647ebc"/><path d="M241.3 186.3h.01M240.4 199.4h.01M202.8 324.0h.01M191.6 286.3h.01M162.2 279.1h.01M155.5 282.2h.01M173.9 316.2h.01M221.6 323.2h.01M163.5 328.6h.01M129.1 286.9h.01M188.6 243.4h.01M144.3 332.1h.01M82.4 243.4h.01M87.2 257.3h.01M202.6 320.2h.01M179.9 307.9h.01M161.6 268.2h.01M102.1 220.6h.01M168.5 279.3h.01M80.2 218.9h.01M82.8 235.8h.01M81.1 226.9h.01M197.1 321.8h.01M188.3 318.8h.01M95.8 199.6h.01M144.0 263.0h.01M173.2 313.3h.01M128.6 284.7h.01M178.4 328.7h.01M46.2 222.0h.01M86.9 265.5h.01M60.0 225.7h.01M104.0 279.9h.01M70.2 228.1h.01M175.9 309.0h.01M51.5 220.8h.01M93.7 274.8h.01M101.5 209.1h.01M185.1 307.0h.01M153.3 257.4h.01M183.7 327.2h.01M82.2 229.8h.01M200.4 314.2h.01M160.2 262.6h.01M87.6 244.2h.01M124.4 276.9h.01M63.4 226.5h.01M201.8 328.5h.01M172.2 254.7h.01M161.4 330.5h.01M192.8 325.6h.01M120.3 273.1h.01M125.7 283.9h.01M61.6 229.7h.01M227.6 197.7h.01M220.9 321.2h.01M52.6 233.8h.01M157.2 250.3h.01M93.8 253.1h.01M160.9 301.8h.01M120.1 281.1h.01M178.9 323.1h.01M84.2 241.1h.01M137.0 262.9h.01M155.8 266.7h.01M84.9 259.6h.01M53.4 236.8h.01M153.1 265.2h.01M79.3 213.7h.01M88.9 263.4h.01M186.7 328.0h.01M132.7 267.5h.01M174.0 332.9h.01M88.9 250.1h.01M85.2 246.2h.01M73.6 228.7h.01M186.4 324.9h.01M224.3 195.3h.01M121.0 284.1h.01M178.1 279.3h.01M125.6 271.4h.01M97.2 251.0h.01M170.3 288.5h.01M126.4 274.2h.01M184.1 304.2h.01M134.9 265.2h.01M76.2 222.4h.01M51.9 325.1h.01M101.2 217.2h.01M99.2 248.6h.01M166.5 258.5h.01M70.1 220.0h.01M156.3 285.3h.01M164.8 251.6h.01M86.8 241.0h.01M151.2 187.0h.01M66.3 227.5h.01M153.4 184.7h.01M201.4 317.5h.01M81.0 221.6h.01M65.4 224.4h.01M199.6 330.6h.01M190.3 305.7h.01M118.2 283.3h.01M166.9 249.5h.01M57.3 224.7h.01M166.5 219.6h.01M134.0 254.8h.01M206.7 278.3h.01M182.9 308.7h.01M140.1 284.7h.01M45.8 229.4h.01M91.8 277.0h.01M169.1 273.6h.01M155.7 277.7h.01M184.6 330.2h.01M160.2 298.9h.01M168.4 290.7h.01M166.3 281.7h.01M94.7 256.2h.01M205.7 312.8h.01M60.1 217.8h.01M84.0 227.5h.01M185.6 285.0h.01M148.7 269.4h.01M45.5 331.6h.01M129.9 266.9h.01M188.1 307.9h.01M185.9 298.8h.01M86.8 225.5h.01M168.9 253.9h.01M50.0 224.9h.01M147.6 186.7h.01M154.8 190.5h.01M98.8 211.0h.01M163.7 193.2h.01M67.8 222.1h.01M67.0 230.3h.01M165.4 272.4h.01M110.1 225.1h.01M198.6 316.9h.01M143.0 285.6h.01M238.2 185.6h.01M46.9 326.4h.01M153.3 195.8h.01M151.1 267.4h.01M53.6 228.6h.01M145.1 266.0h.01M184.1 280.7h.01M187.9 300.2h.01M134.1 262.4h.01M179.0 313.3h.01M228.3 326.1h.01M104.7 229.9h.01M158.6 194.6h.01M98.7 281.4h.01M177.9 320.0h.01M147.0 271.8h.01M55.2 226.9h.01M205.3 283.5h.01M226.1 327.9h.01M193.3 306.6h.01M184.2 319.5h.01M166.4 330.6h.01M172.6 271.4h.01M100.0 207.7h.01M197.2 326.1h.01M95.0 207.0h.01M73.8 223.9h.01M54.1 223.8h.01M83.8 247.8h.01M175.8 278.2h.01M169.0 247.4h.01M157.9 301.4h.01M165.9 246.6h.01" stroke="#606cb8"/><path d="M169.5 331.2h.01M100.6 278.8h.01M187.2 304.7h.01M44.5 328.3h.01M188.3 322.6h.01M149.9 272.5h.01M177.8 310.6h.01M158.0 264.4h.01M80.2 232.1h.01M163.3 307.0h.01M123.0 281.6h.01M187.6 330.9h.01M179.1 282.3h.01M179.2 331.4h.01M181.1 311.1h.01M176.7 325.1h.01M163.1 190.3h.01M89.9 266.2h.01M51.6 231.0h.01M188.1 227.5h.01M99.3 204.5h.01M116.3 277.3h.01M75.7 235.2h.01M161.8 197.3h.01M74.3 231.9h.01M149.4 319.4h.01M147.9 266.6h.01M53.0 225.6h.01M78.3 226.9h.01M150.0 264.4h.01M77.7 233.2h.01M71.3 231.1h.01M188.6 285.5h.01M187.1 224.7h.01M199.8 311.5h.01M174.7 275.0h.01M198.6 308.8h.01M118.2 275.3h.01M189.7 298.0h.01M191.9 244.2h.01M115.3 274.4h.01M72.5 225.8h.01M163.0 299.5h.01M167.5 302.7h.01M154.4 287.4h.01M83.3 224.6h.01M75.3 225.8h.01M241.1 202.4h.01M196.3 319.0h.01M167.7 270.2h.01M78.8 236.3h.01M128.6 272.1h.01M115.8 285.8h.01M130.4 269.8h.01M123.6 273.5h.01M49.6 233.3h.01M97.3 207.1h.01M102.3 212.0h.01M165.4 305.0h.01M121.3 276.0h.01M46.8 224.3h.01M47.6 329.0h.01M225.3 325.4h.01M159.3 259.5h.01M96.5 259.6h.01M137.7 266.0h.01M152.8 273.2h.01M184.1 223.8h.01M153.5 276.5h.01M122.8 289.8h.01M157.5 294.3h.01M97.3 221.0h.01M96.8 218.3h.01M152.0 270.2h.01M87.9 260.3h.01M62.5 232.5h.01M119.7 289.5h.01M89.2 254.9h.01M199.4 319.4h.01M224.2 322.4h.01M148.2 284.0h.01M194.4 321.3h.01M143.1 329.0h.01M190.0 225.2h.01M154.5 271.9h.01M44.7 226.5h.01M151.2 259.9h.01M183.4 301.1h.01M83.7 238.1h.01M159.9 189.4h.01M131.8 264.7h.01M164.1 302.7h.01M150.1 281.7h.01M65.6 233.5h.01M51.3 239.0h.01M186.7 312.8h.01M101.6 228.9h.01M158.4 282.8h.01M236.2 302.2h.01M191.8 304.2h.01M177.3 276.3h.01M183.2 324.1h.01M132.2 287.8h.01M130.3 278.1h.01M129.0 264.0h.01M81.0 233.9h.01M239.0 204.8h.01M174.9 306.0h.01" stroke="#5f58b0"/><path d="M86.3 254.2h.01M190.8 283.1h.01M155.5 296.5h.01M103.3 215.0h.01M127.5 186.7h.01M144.8 297.7h.01M204.5 280.8h.01M73.6 245.1h.01M119.0 286.5h.01M203.7 315.1h.01M127.7 269.3h.01M104.2 217.7h.01M122.4 279.0h.01M185.2 226.6h.01M131.2 284.7h.01M99.6 218.8h.01M91.1 274.2h.01M164.6 260.6h.01M181.2 279.8h.01M140.5 328.5h.01M115.0 282.7h.01M112.8 286.2h.01M119.4 278.2h.01M144.6 185.8h.01M163.9 254.9h.01M71.8 247.7h.01M190.1 219.8h.01M143.9 289.4h.01M86.9 280.0h.01M111.8 332.4h.01M48.8 230.2h.01M128.1 260.9h.01M207.3 281.2h.01M156.3 198.7h.01M164.6 331.3h.01M168.5 305.5h.01M169.4 308.3h.01M154.0 268.1h.01M158.7 196.5h.01" stroke="#5e43a5"/><path d="M44.8 267.7h.01M98.2 328.3h.01M129.1 296.3h.01M66.8 283.1h.01M182.4 275.1h.01M115.0 297.0h.01M82.8 326.6h.01M133.5 282.6h.01M117.2 289.2h.01M132.5 311.8h.01M52.5 271.1h.01M97.0 274.3h.01M238.3 197.5h.01M126.3 296.0h.01M45.1 262.6h.01M207.4 238.2h.01M164.5 294.2h.01M63.6 249.6h.01M45.6 275.9h.01M239.3 255.4h.01M114.4 268.5h.01M179.9 294.3h.01M77.9 267.1h.01M56.1 266.1h.01M229.5 191.2h.01M121.7 252.1h.01M172.9 322.6h.01M65.2 285.5h.01M136.6 285.8h.01M171.3 291.3h.01M241.4 304.9h.01M134.2 275.1h.01M52.7 284.5h.01M62.1 252.2h.01M219.1 187.6h.01M51.1 268.3h.01M145.7 268.1h.01M180.7 283.8h.01M159.5 304.6h.01M108.6 331.9h.01M131.5 274.9h.01M95.9 271.7h.01M80.9 329.4h.01M56.3 243.8h.01M47.5 273.6h.01M77.3 240.1h.01M120.4 249.0h.01M145.8 319.2h.01M166.3 327.4h.01M46.3 270.6h.01M130.5 321.2h.01M137.7 288.6h.01M143.7 308.3h.01M48.8 276.0h.01M114.0 289.1h.01M69.0 260.8h.01M58.5 290.3h.01M73.5 263.9h.01M78.0 248.2h.01M140.3 275.4h.01M137.4 294.1h.01M55.3 271.4h.01M64.7 257.7h.01M183.6 289.3h.01M137.3 275.7h.01M180.4 319.6h.01M234.8 257.7h.01M44.6 254.3h.01M176.2 314.1h.01M50.4 241.1h.01M89.9 280.1h.01M49.4 270.9h.01M101.6 323.5h.01M169.9 322.2h.01M70.6 263.5h.01M148.9 287.1h.01M60.6 247.2h.01M95.1 282.3h.01M153.4 296.5h.01M58.2 239.1h.01M51.0 254.7h.01M60.1 288.0h.01M236.7 199.7h.01M210.4 238.5h.01" stroke="#5b2f94"/><path d="M177.3 288.7h.01M132.2 318.8h.01M75.4 242.6h.01M232.6 191.3h.01M147.3 303.3h.01M65.1 252.5h.01M146.1 300.5h.01M182.3 286.4h.01M153.3 290.3h.01M150.7 275.5h.01M71.0 239.4h.01M137.8 270.1h.01M211.1 233.3h.01M217.9 184.5h.01M47.6 235.7h.01M143.5 294.7h.01M181.6 291.7h.01M202.7 235.1h.01M75.8 274.9h.01M181.3 297.2h.01M62.9 260.1h.01M121.6 271.5h.01M116.8 281.5h.01M225.1 304.9h.01M57.4 282.1h.01M154.0 317.2h.01M143.2 276.3h.01M235.4 197.0h.01M146.5 276.1h.01M145.3 273.4h.01M178.5 291.5h.01M187.2 214.4h.01M96.5 266.2h.01M45.9 256.9h.01M135.9 291.5h.01M55.5 236.4h.01M140.6 307.8h.01M220.9 185.1h.01M122.3 246.7h.01M61.2 239.2h.01M159.3 296.7h.01M101.7 288.2h.01M162.3 297.0h.01M74.8 248.0h.01M58.7 271.7h.01M147.8 297.8h.01M104.2 329.1h.01M155.9 301.9h.01M57.2 268.7h.01M209.2 235.4h.01M130.8 299.1h.01M136.1 272.5h.01M128.6 301.5h.01M131.2 309.2h.01M145.6 324.5h.01M62.1 285.4h.01M147.0 289.8h.01M241.4 206.5h.01M206.1 235.2h.01M84.1 329.5h.01M139.1 291.7h.01M82.4 331.9h.01M126.1 183.7h.01M140.0 281.2h.01M234.6 189.1h.01M109.1 326.9h.01M148.3 311.2h.01M119.4 246.4h.01M146.9 308.5h.01M68.0 285.8h.01M59.5 279.9h.01M98.1 263.6h.01M236.2 255.2h.01M133.8 280.4h.01M79.7 245.4h.01M48.6 257.2h.01M66.4 288.4h.01M142.4 272.9h.01M129.1 183.8h.01M179.0 286.1h.01M127.1 279.3h.01M131.1 293.7h.01M143.1 319.1h.01M152.5 314.4h.01M102.3 331.7h.01M133.7 299.5h.01M46.7 265.2h.01M126.1 318.9h.01M153.7 285.0h.01M103.1 290.8h.01M235.7 191.8h.01M150.6 316.7h.01M111.6 300.7h.01M184.1 272.5h.01M162.5 304.6h.01M105.5 332.0h.01M101.3 328.9h.01M134.4 314.6h.01M183.0 294.5h.01M60.8 249.3h.01M110.6 298.0h.01M187.6 292.2h.01M117.3 268.8h.01M49.2 251.8h.01M44.4 235.1h.01M152.1 319.6h.01M62.6 280.0h.01M180.4 277.8h.01M63.9 282.7h.01M138.2 283.6h.01M108.6 300.3h.01M150.0 309.0h.01M53.5 241.6h.01M180.2 289.0h.01M51.4 281.8h.01M128.1 281.9h.01M227.8 317.7h.01M57.5 233.8h.01M77.0 258.8h.01M59.0 285.2h.01M232.4 196.8h.01M187.2 273.0h.01M242.7 255.7h.01M136.2 304.9h.01M48.5 262.6h.01M191.2 222.8h.01M57.4 246.9h.01M60.7 282.7h.01M45.0 249.0h.01M69.4 288.8h.01M111.4 283.3h.01M46.3 251.7h.01M62.4 242.0h.01M179.3 275.1h.01M76.8 245.3h.01M186.5 289.5h.01M241.5 197.7h.01M57.4 287.7h.01M134.0 294.0h.01M76.1 250.7h.01M133.0 306.4h.01M139.5 323.9h.01M95.4 276.8h.01M134.8 288.6h.01M150.1 290.1h.01M135.3 283.4h.01M55.8 284.6h.01M75.1 261.3h.01M115.4 271.1h.01M146.6 294.9h.01M238.7 192.0h.01M138.6 278.2h.01M46.0 238.3h.01M50.3 260.1h.01M156.1 328.3h.01M158.8 315.0h.01M126.8 290.7h.01M141.9 297.4h.01M242.6 200.3h.01M239.6 307.6h.01M98.6 287.8h.01M104.8 288.1h.01M232.5 308.1h.01M169.3 327.5h.01M75.8 237.2h.01M168.7 319.4h.01M150.5 322.2h.01M51.6 214.8h.01M66.0 293.7h.01M64.6 272.2h.01M226.8 302.2h.01M152.5 282.0h.01M229.9 302.5h.01M139.5 267.5h.01M221.8 304.6h.01" stroke="#531e7c"/><path d="M136.9 280.8h.01M190.3 214.4h.01M141.7 316.0h.01M64.3 239.3h.01M66.1 260.5h.01M58.8 236.5h.01M128.1 293.3h.01M166.0 332.8h.01M71.4 234.0h.01M58.4 257.2h.01M72.0 266.4h.01M143.5 313.5h.01M136.7 299.7h.01M181.0 314.2h.01M156.6 322.9h.01M151.5 311.7h.01M148.3 292.6h.01M60.2 269.2h.01M228.1 305.1h.01M92.0 328.1h.01M192.1 295.4h.01M154.8 299.1h.01M102.2 282.6h.01M109.6 286.1h.01M189.6 289.8h.01M175.5 291.4h.01M58.1 276.8h.01M140.5 294.5h.01M109.3 291.4h.01M185.7 216.7h.01M192.7 290.0h.01M67.6 291.4h.01M140.2 318.7h.01M147.5 316.7h.01M157.5 299.2h.01M240.7 189.4h.01M95.3 322.9h.01M82.4 270.1h.01M229.2 320.4h.01M185.5 275.5h.01M129.4 311.6h.01M53.3 260.3h.01M57.0 274.1h.01M49.0 238.5h.01M87.3 330.0h.01M157.8 288.0h.01M66.4 255.3h.01M191.9 217.5h.01M225.3 188.2h.01M77.6 253.4h.01M233.2 254.7h.01M187.5 222.7h.01M107.2 329.4h.01M90.2 330.5h.01M47.1 259.8h.01M154.2 311.7h.01M81.3 248.4h.01M145.7 305.7h.01M168.2 324.7h.01M122.3 266.5h.01M92.5 322.7h.01M156.9 317.6h.01M96.8 325.7h.01M74.8 266.8h.01M233.1 311.8h.01M142.0 310.8h.01M115.7 291.9h.01M237.2 194.2h.01M191.0 292.5h.01M150.5 284.7h.01M107.5 309.0h.01M142.1 291.8h.01M73.2 250.2h.01M72.4 242.2h.01M157.8 325.8h.01M155.6 314.7h.01M113.5 303.8h.01M134.7 269.8h.01M165.4 324.6h.01M157.5 331.1h.01M46.3 232.7h.01M74.2 291.8h.01M54.2 268.7h.01M49.8 265.5h.01M47.4 240.9h.01M59.8 274.5h.01M70.4 244.6h.01M90.4 325.2h.01M225.6 183.0h.01M146.4 314.0h.01M74.0 258.7h.01M48.6 243.9h.01M72.7 288.9h.01M113.4 298.4h.01M66.5 240.8h.01M79.2 269.6h.01M82.8 245.9h.01M147.2 322.3h.01M138.5 296.9h.01M151.8 287.4h.01M144.3 303.0h.01M234.7 202.4h.01M120.9 263.6h.01M122.2 304.7h.01M54.3 287.3h.01M76.5 264.2h.01M59.2 243.6h.01M48.9 214.5h.01M103.5 285.6h.01M51.0 249.5h.01M182.2 317.3h.01M100.5 285.3h.01M72.5 237.0h.01M93.4 330.7h.01M222.1 188.0h.01M123.5 269.2h.01M94.8 328.4h.01M62.9 274.6h.01M47.0 278.6h.01M223.9 185.2h.01M141.6 278.6h.01M74.0 239.6h.01M113.5 330.0h.01M45.6 243.6h.01M123.6 249.5h.01M189.0 295.2h.01M81.0 267.2h.01M155.2 319.9h.01M145.4 291.9h.01M140.8 289.2h.01M230.9 305.4h.01M55.5 256.8h.01M141.1 321.4h.01M120.9 244.0h.01M77.1 281.3h.01M93.7 325.5h.01M171.1 325.1h.01M161.0 294.3h.01M84.6 243.3h.01M77.4 272.5h.01M106.6 285.5h.01M110.4 329.7h.01M120.4 268.9h.01M127.6 314.7h.01M138.9 312.1h.01M45.5 214.2h.01M204.3 237.9h.01M97.7 269.0h.01M78.5 275.2h.01M112.3 203.1h.01M96.7 279.7h.01M184.4 214.2h.01M48.4 281.6h.01M188.8 217.1h.01M237.6 189.3h.01M135.5 296.8h.01M132.5 296.6h.01M57.0 254.2h.01M47.7 268.0h.01M142.2 324.3h.01M118.6 292.0h.01M63.4 254.8h.01M233.9 194.2h.01M78.9 256.3h.01M135.7 277.7h.01M51.6 262.8h.01M68.4 252.8h.01M227.8 193.6h.01M224.8 193.3h.01M53.8 239.0h.01M128.9 323.7h.01M183.9 283.9h.01M100.0 326.1h.01M217.3 190.1h.01M94.6 269.0h.01M173.8 293.8h.01M125.2 247.1h.01M231.2 193.7h.01M50.9 236.0h.01M49.5 284.3h.01M242.7 307.9h.01M123.3 284.5h.01M159.0 328.5h.01M235.4 304.3h.01M162.8 332.4h.01M61.9 237.1h.01M55.8 251.8h.01" stroke="#47145f"/><path d="M231.1 318.2h.01M75.9 269.6h.01M130.6 306.4h.01M235.2 309.7h.01M50.0 279.0h.01M238.4 304.5h.01M140.4 313.7h.01M54.1 249.8h.01M242.1 192.3h.01M55.3 261.9h.01M98.6 323.3h.01M49.9 217.3h.01M132.9 272.4h.01M95.0 263.4h.01M65.6 280.2h.01M154.8 309.0h.01M116.7 294.4h.01M52.4 252.2h.01M166.7 322.0h.01M78.5 242.8h.01M61.2 277.2h.01M186.0 294.8h.01M54.7 246.3h.01M125.9 298.4h.01M144.2 270.5h.01M59.0 250.5h.01M142.9 305.5h.01M192.8 328.6h.01M102.1 325.9h.01M68.8 280.6h.01M78.1 261.5h.01M118.6 271.4h.01M134.9 302.2h.01M105.3 283.1h.01M124.6 314.2h.01M112.3 291.6h.01M144.1 321.8h.01M153.3 306.4h.01M149.6 314.0h.01M45.4 281.3h.01M125.9 309.0h.01M51.1 287.0h.01M109.0 295.5h.01M154.7 325.3h.01M110.5 303.5h.01M116.5 309.0h.01M105.7 290.1h.01M124.4 186.3h.01M122.9 308.8h.01M79.6 264.5h.01M106.1 295.5h.01M60.3 254.6h.01M61.6 257.4h.01M233.7 199.7h.01M129.8 317.3h.01M160.9 307.3h.01M56.3 279.3h.01M145.2 311.0h.01M54.4 253.8h.01M48.1 249.3h.01M85.9 332.9h.01M53.2 278.9h.01M47.6 254.4h.01M70.0 250.2h.01M112.0 306.3h.01M112.2 295.8h.01M62.7 289.8h.01M59.0 266.2h.01M72.0 261.0h.01M156.3 290.5h.01M225.7 234.3h.01M71.1 258.4h.01M144.7 316.4h.01M83.1 258.1h.01M44.5 273.0h.01M119.9 314.3h.01M72.7 252.6h.01M226.3 191.1h.01M229.6 187.6h.01M137.4 320.1h.01M106.1 311.8h.01M96.3 331.0h.01M139.9 299.7h.01M116.6 303.8h.01M138.1 302.4h.01M46.7 246.0h.01M67.5 258.1h.01M64.4 277.5h.01M119.7 298.1h.01M53.2 243.9h.01M172.5 327.6h.01M228.8 183.0h.01M119.2 266.3h.01M64.2 263.0h.01M138.7 273.8h.01M53.7 292.8h.01M64.2 287.4h.01M126.3 311.3h.01" stroke="#391146"/><path d="M74.2 255.2h.01M104.5 298.2h.01M224.3 237.5h.01M75.4 278.6h.01M107.3 303.5h.01M105.7 300.8h.01M100.8 299.8h.01M54.4 276.4h.01M121.3 295.6h.01M52.9 256.2h.01M132.3 303.4h.01M71.1 255.5h.01M111.1 200.2h.01M128.9 308.8h.01M94.7 224.5h.01M121.4 311.5h.01M113.5 314.2h.01M63.7 235.6h.01M54.6 282.0h.01M139.0 317.0h.01M110.7 314.5h.01M152.0 298.6h.01M81.4 260.9h.01M122.9 292.8h.01M98.6 277.2h.01M111.2 288.6h.01M67.9 248.8h.01M107.3 287.4h.01M107.8 298.4h.01M51.5 276.4h.01M102.6 297.3h.01M118.3 300.9h.01M118.3 311.6h.01M156.2 306.4h.01M58.5 262.1h.01M115.1 306.3h.01M115.1 311.6h.01M112.2 311.5h.01M55.7 231.0h.01M140.2 271.0h.01M137.3 314.6h.01M113.4 309.0h.01M116.9 298.2h.01M185.8 220.1h.01M134.3 319.9h.01M131.5 280.5h.01M134.3 309.3h.01M68.2 243.2h.01M63.5 246.0h.01M151.9 303.6h.01M126.2 303.5h.01M212.2 235.9h.01M240.3 195.1h.01M46.8 216.7h.01M139.8 305.3h.01M131.1 314.6h.01M150.3 301.3h.01M53.1 265.6h.01M119.7 308.8h.01M143.0 299.9h.01M129.1 303.5h.01M109.2 306.4h.01M230.5 308.7h.01M99.4 331.3h.01M119.6 303.6h.01M128.4 276.8h.01M69.5 283.7h.01M124.5 316.9h.01M124.6 306.3h.01M75.6 252.8h.01M114.1 202.3h.01M87.3 248.9h.01M133.0 277.7h.01M88.7 332.6h.01" stroke="#2f1436"/><path d="M65.1 243.7h.01M68.3 238.1h.01M115.1 317.0h.01M154.8 303.8h.01M66.8 246.0h.01M117.7 247.6h.01M223.1 307.3h.01M90.8 232.7h.01M179.2 268.9h.01M59.9 259.5h.01M66.8 276.5h.01M127.3 322.0h.01M135.4 317.3h.01M114.6 207.6h.01M87.6 321.2h.01M184.7 292.3h.01M56.3 238.6h.01M51.8 246.5h.01M124.4 301.0h.01M45.7 183.9h.01M156.3 311.9h.01M114.9 258.5h.01M116.8 314.4h.01M71.0 286.3h.01M79.8 287.6h.01M107.5 292.9h.01M117.1 266.3h.01M225.6 308.9h.01M57.8 241.3h.01M82.9 263.9h.01M215.3 221.6h.01M72.4 283.6h.01M153.4 301.1h.01M118.1 306.2h.01M127.4 306.4h.01M116.0 245.0h.01M146.9 330.5h.01M135.8 312.1h.01M106.1 314.7h.01M141.3 302.7h.01M241.5 231.1h.01M129.0 319.3h.01M218.0 237.9h.01M62.2 295.5h.01M110.6 293.2h.01M171.9 320.0h.01M78.0 285.1h.01M107.8 317.3h.01M122.9 298.2h.01M98.5 319.0h.01M222.7 234.8h.01M110.5 309.0h.01M112.2 240.1h.01M50.0 273.7h.01M56.4 249.2h.01M103.4 313.2h.01M118.5 295.7h.01M100.5 237.6h.01M211.9 216.4h.01M48.8 246.5h.01M80.0 281.2h.01" stroke="#3b113b"/><path d="M74.9 285.3h.01M221.3 237.6h.01M104.6 305.2h.01M95.5 319.2h.01M230.8 185.1h.01M117.3 242.3h.01M96.8 227.2h.01M105.9 233.6h.01M180.8 271.6h.01M92.0 229.8h.01M130.1 283.1h.01M63.9 292.9h.01M102.8 302.5h.01M235.7 187.5h.01M98.0 197.0h.01M71.0 272.2h.01M78.6 278.5h.01M95.8 235.4h.01M107.1 230.5h.01M118.5 239.5h.01M115.4 300.8h.01M213.4 219.0h.01M89.1 323.6h.01M74.5 283.1h.01M103.7 323.2h.01M95.2 230.0h.01M101.8 310.9h.01M238.1 231.1h.01M116.4 255.7h.01M68.7 295.3h.01M103.4 275.6h.01M146.1 281.7h.01M95.0 197.4h.01M99.8 302.6h.01M100.7 294.6h.01M116.6 261.0h.01M216.5 219.0h.01M79.8 258.1h.01M110.9 242.5h.01M73.8 271.8h.01M212.1 221.7h.01M52.8 273.7h.01M66.7 235.3h.01M116.0 204.6h.01M132.6 184.6h.01M150.5 295.3h.01M120.9 317.2h.01M69.9 276.0h.01M68.0 273.7h.01M194.5 331.3h.01M72.8 280.2h.01M137.4 309.2h.01M97.0 232.6h.01M67.8 232.6h.01M98.5 229.6h.01M94.0 232.8h.01M242.6 227.9h.01M152.4 292.6h.01M124.4 322.2h.01M117.7 207.1h.01M106.4 320.0h.01M234.0 184.8h.01M115.3 264.2h.01M170.4 317.8h.01M61.9 201.9h.01M117.8 252.9h.01M134.1 187.1h.01M76.6 287.7h.01M93.6 200.2h.01M113.6 261.3h.01M109.0 311.6h.01M84.8 326.7h.01M120.3 241.8h.01M59.9 228.0h.01" stroke="#4e1443"/><path d="M95.8 240.1h.01M101.5 305.4h.01M86.3 324.1h.01M217.7 232.7h.01M104.3 309.0h.01M103.9 294.4h.01M99.1 235.2h.01M97.2 321.7h.01M219.7 235.3h.01M100.3 275.7h.01M58.8 230.8h.01M159.5 320.6h.01M118.4 263.6h.01M44.7 186.8h.01M45.0 211.2h.01M47.7 186.6h.01M106.7 325.2h.01M237.3 235.5h.01M72.0 269.6h.01M57.0 259.6h.01M119.1 204.5h.01M87.6 326.4h.01M124.4 311.6h.01M69.0 267.7h.01M147.3 279.0h.01M150.3 306.5h.01M195.8 328.5h.01M115.2 239.7h.01M108.0 322.6h.01M119.5 320.1h.01M69.8 292.4h.01M114.1 242.4h.01M182.2 269.1h.01M170.2 300.6h.01M121.5 300.7h.01M101.5 270.8h.01M224.2 311.6h.01M47.6 193.0h.01M97.9 224.1h.01M49.0 183.7h.01M118.0 258.0h.01M51.9 189.6h.01M227.7 185.1h.01M224.0 244.5h.01M177.7 271.8h.01M56.8 228.3h.01M109.5 240.0h.01M144.5 279.4h.01M60.6 233.5h.01M145.1 328.1h.01M50.7 186.4h.01M104.5 247.0h.01M97.3 237.9h.01M59.2 295.8h.01" stroke="#64194b"/><path d="M101.9 314.9h.01M221.6 250.7h.01M233.7 303.0h.01M103.7 241.8h.01M113.7 253.6h.01M58.0 196.7h.01M95.0 190.6h.01M108.3 277.9h.01M65.4 295.6h.01M236.5 260.0h.01M232.7 187.5h.01M48.7 198.3h.01M86.8 277.6h.01M234.7 252.1h.01M55.1 189.0h.01M53.8 200.2h.01M97.1 185.0h.01M122.6 319.7h.01M95.7 248.7h.01M209.8 217.5h.01M87.7 274.7h.01M204.8 273.9h.01M56.0 194.3h.01M93.9 185.5h.01M232.7 249.6h.01M229.4 278.3h.01M162.9 320.2h.01M102.7 236.2h.01M230.5 275.2h.01M111.0 263.9h.01M92.7 308.3h.01M168.6 313.3h.01M100.9 234.1h.01M113.8 245.4h.01M96.6 245.7h.01M94.9 310.6h.01M210.1 331.8h.01M110.9 237.9h.01M98.2 190.3h.01M96.2 187.9h.01M106.8 241.4h.01M100.1 308.0h.01M105.0 238.7h.01M109.7 248.7h.01M131.3 187.5h.01M104.5 270.3h.01M51.6 197.7h.01M101.6 273.1h.01M109.8 256.9h.01M57.9 205.3h.01M229.0 292.4h.01M228.3 281.0h.01M210.6 214.8h.01M44.7 193.5h.01M60.7 293.0h.01M107.7 269.7h.01M103.8 265.1h.01M235.9 297.0h.01M172.8 318.1h.01M64.3 265.9h.01M174.2 297.0h.01" stroke="#7a2050"/><path d="M228.1 287.0h.01M55.9 211.2h.01M100.3 265.6h.01M107.8 246.4h.01M186.5 195.4h.01M53.0 186.8h.01M100.9 317.7h.01M233.4 260.7h.01M209.8 265.2h.01M92.2 182.8h.01M168.4 298.1h.01M97.8 310.1h.01M114.8 250.3h.01M228.0 237.4h.01M100.1 312.3h.01M220.6 247.8h.01M231.2 280.4h.01M83.9 282.3h.01M54.3 218.8h.01M242.6 237.4h.01M96.9 313.2h.01M77.7 331.5h.01M234.9 299.9h.01M95.1 284.4h.01M235.4 245.2h.01M98.9 239.7h.01M111.7 251.2h.01M95.5 307.8h.01M91.3 185.9h.01M64.2 204.3h.01M91.9 225.3h.01M44.4 286.6h.01M227.4 275.6h.01M102.9 320.3h.01M103.8 317.4h.01M91.8 311.4h.01M82.7 285.1h.01M160.5 317.7h.01M160.8 326.1h.01M47.6 286.0h.01M94.0 193.8h.01M110.7 254.0h.01M183.4 195.9h.01M46.6 195.9h.01M107.9 238.2h.01M98.9 315.3h.01M110.9 245.8h.01M48.1 210.9h.01M229.6 234.4h.01M59.7 207.5h.01M171.3 297.5h.01M54.0 183.9h.01M52.8 194.7h.01M211.3 328.7h.01M107.6 280.7h.01M100.4 250.9h.01M111.9 234.8h.01M231.2 236.5h.01M108.8 243.5h.01M105.9 235.8h.01M222.9 247.4h.01M102.6 267.7h.01M211.5 219.9h.01M45.6 283.6h.01M170.7 315.6h.01M112.8 248.4h.01M78.8 328.6h.01M108.7 266.8h.01M58.1 188.6h.01M231.5 258.1h.01M188.5 197.7h.01M89.1 183.5h.01M172.4 295.7h.01M206.9 218.2h.01M85.8 272.6h.01M101.4 247.9h.01M74.5 288.1h.01M98.4 271.1h.01M208.1 263.0h.01" stroke="#8e2c50"/><path d="M47.7 201.1h.01M212.0 250.6h.01M100.0 320.7h.01M148.7 327.2h.01M75.7 329.1h.01M177.6 297.5h.01M93.0 188.3h.01M226.6 240.0h.01M236.3 284.4h.01M206.8 265.6h.01M55.5 216.2h.01M90.5 289.9h.01M235.5 314.5h.01M229.1 242.6h.01M79.6 289.7h.01M53.9 192.2h.01M242.3 282.5h.01M237.9 266.8h.01M106.6 272.5h.01M213.3 244.6h.01M89.5 277.2h.01M101.8 239.3h.01M80.7 283.1h.01M240.5 316.0h.01M229.2 269.4h.01M48.9 190.1h.01M90.2 287.4h.01M206.7 276.2h.01M210.8 256.2h.01M240.3 258.0h.01M236.0 249.1h.01M95.6 315.8h.01M72.9 275.2h.01M117.9 250.2h.01M101.9 231.0h.01M214.7 281.6h.01M233.4 243.1h.01M198.5 269.4h.01M217.8 248.7h.01M159.8 312.5h.01M63.0 207.2h.01M234.4 270.9h.01M105.7 278.5h.01M52.6 216.7h.01M62.7 183.7h.01M227.7 283.6h.01M84.4 275.3h.01M210.2 245.2h.01M97.7 242.7h.01M232.5 233.6h.01M169.8 310.5h.01M107.6 262.5h.01M206.4 215.2h.01M179.2 199.2h.01M232.6 276.8h.01M241.3 323.9h.01M153.2 331.6h.01M98.4 284.0h.01M161.9 314.7h.01M68.1 270.7h.01M164.5 313.1h.01M50.8 192.5h.01M51.0 184.4h.01M54.7 197.4h.01M237.2 327.7h.01M45.7 190.6h.01M215.7 267.6h.01M230.1 289.2h.01M181.1 201.9h.01M175.5 295.1h.01M58.7 210.6h.01M84.8 279.4h.01M56.9 208.1h.01M241.6 332.3h.01M92.9 292.1h.01M233.9 320.6h.01M111.2 274.7h.01M242.1 252.1h.01M52.6 203.2h.01M82.0 280.2h.01M232.6 246.0h.01M218.5 277.7h.01M89.6 293.0h.01M237.9 247.7h.01M90.7 228.3h.01M104.1 255.1h.01M108.7 235.2h.01M238.7 264.1h.01M102.3 253.1h.01M109.7 272.1h.01M71.9 278.0h.01M156.8 308.7h.01M115.1 279.5h.01M55.6 202.7h.01M184.5 192.9h.01M81.8 288.1h.01M237.4 257.0h.01M158.6 323.7h.01M162.8 312.0h.01M202.5 279.7h.01M82.9 276.9h.01M68.8 278.6h.01M93.9 227.7h.01M114.7 266.2h.01M231.0 321.2h.01" stroke="#9f3c50"/><path d="M240.0 280.5h.01M112.8 256.3h.01M49.7 195.5h.01M113.1 272.3h.01M218.1 269.8h.01M241.8 263.2h.01M226.0 281.2h.01M45.5 199.0h.01M227.8 252.9h.01M224.4 276.4h.01M45.2 302.1h.01M206.5 228.2h.01M234.3 240.5h.01M92.6 280.0h.01M217.0 261.7h.01M61.9 186.4h.01M47.0 204.2h.01M174.0 302.1h.01M226.0 270.2h.01M149.6 324.2h.01M220.5 260.7h.01M87.8 285.0h.01M207.4 245.9h.01M236.6 272.9h.01M60.7 204.8h.01M225.6 262.1h.01M222.9 282.2h.01M219.7 252.5h.01M110.5 261.7h.01M225.2 273.2h.01M234.9 279.1h.01M218.1 258.5h.01M151.8 326.5h.01M49.2 206.3h.01M241.7 274.4h.01M227.2 290.0h.01M107.1 251.2h.01M91.8 285.5h.01M51.2 208.5h.01M238.4 275.2h.01M228.3 261.4h.01M239.4 283.6h.01M236.9 319.7h.01M203.2 262.5h.01M236.6 242.5h.01M242.4 240.9h.01M242.8 249.0h.01M242.5 260.3h.01M50.4 211.4h.01M241.5 243.8h.01M59.9 199.1h.01M93.9 297.4h.01M86.1 283.1h.01M221.2 257.5h.01M95.6 291.3h.01M52.0 205.7h.01M113.0 276.9h.01M232.2 326.4h.01M201.4 268.3h.01M218.6 266.6h.01M227.9 264.1h.01M230.1 324.3h.01M100.0 243.8h.01M234.5 236.0h.01M200.8 271.5h.01M93.3 289.1h.01M240.9 277.3h.01M90.4 315.5h.01M97.1 193.0h.01M212.4 279.4h.01M235.6 276.2h.01M237.0 250.9h.01M100.9 255.9h.01M76.4 290.3h.01M105.2 260.2h.01M234.9 325.6h.01M218.7 245.8h.01M203.4 216.0h.01M238.0 278.0h.01M56.1 199.2h.01M208.8 251.2h.01M232.4 315.2h.01M242.7 290.8h.01M96.7 302.9h.01M62.5 194.9h.01M226.7 278.3h.01M219.7 263.7h.01M230.0 255.2h.01M233.4 284.9h.01M222.1 274.0h.01M223.5 241.0h.01M100.0 258.8h.01M220.8 269.1h.01M239.5 260.8h.01M150.2 332.4h.01M58.1 190.7h.01M193.7 276.2h.01M218.8 255.4h.01M229.9 266.4h.01M230.3 239.6h.01M209.3 248.2h.01M230.2 285.9h.01M88.3 287.9h.01M92.8 317.7h.01M225.5 243.2h.01M108.6 275.0h.01M98.8 253.7h.01M164.7 322.5h.01M231.5 329.5h.01M232.6 288.1h.01" stroke="#ac4d51"/><path d="M188.7 274.7h.01M191.7 273.9h.01M219.5 274.8h.01M214.3 262.4h.01M232.9 265.7h.01M46.0 207.0h.01M206.9 270.0h.01M240.6 288.7h.01M202.9 253.6h.01M226.4 248.2h.01M241.1 295.8h.01M111.2 258.8h.01M216.4 243.9h.01M240.5 235.2h.01M49.3 298.0h.01M180.3 196.2h.01M226.7 267.3h.01M211.7 282.6h.01M206.8 258.5h.01M224.1 256.8h.01M209.7 268.9h.01M64.6 197.0h.01M238.4 286.3h.01M240.4 221.5h.01M230.7 263.6h.01M235.8 264.7h.01M231.2 271.9h.01M203.9 270.6h.01M158.7 310.7h.01M225.0 254.0h.01M240.0 238.8h.01M190.9 276.9h.01M111.8 267.2h.01M236.2 291.7h.01M110.8 270.2h.01M215.6 246.6h.01M104.8 249.3h.01M203.7 259.6h.01M212.2 260.0h.01M46.1 290.3h.01M208.5 271.9h.01M104.5 263.2h.01M240.8 246.8h.01M196.5 278.0h.01M204.6 267.6h.01M64.1 188.9h.01M237.2 281.1h.01M151.3 279.3h.01M102.4 260.8h.01M61.6 197.9h.01M229.4 247.3h.01M44.6 202.0h.01M215.5 278.6h.01M213.9 252.6h.01M233.6 273.7h.01M217.5 280.9h.01M238.5 244.8h.01M238.6 313.7h.01M234.9 267.9h.01M216.7 251.8h.01M233.1 323.3h.01M198.0 290.6h.01M223.0 270.9h.01M227.3 244.8h.01M234.7 328.7h.01M99.4 261.9h.01M212.1 271.2h.01M224.8 265.1h.01M226.9 256.2h.01M61.1 189.9h.01M161.7 323.1h.01M234.0 281.8h.01M234.4 317.5h.01M241.4 312.9h.01M220.6 280.0h.01M222.2 254.7h.01M220.2 271.6h.01M236.9 239.4h.01M225.5 250.8h.01M197.0 275.3h.01M222.6 262.9h.01M108.3 259.5h.01M210.8 253.8h.01M209.3 260.9h.01M98.4 290.4h.01M221.7 245.0h.01M236.7 330.9h.01M215.0 249.5h.01M87.7 191.9h.01M102.0 245.8h.01M238.2 324.7h.01M80.5 273.6h.01M85.1 285.9h.01M228.6 250.2h.01M239.7 250.0h.01M150.9 329.5h.01M239.5 330.0h.01M206.1 261.7h.01M241.5 285.3h.01M104.1 252.2h.01M233.5 331.8h.01M195.9 263.2h.01M236.0 322.7h.01M222.9 286.5h.01M209.5 280.2h.01M54.3 207.7h.01M105.2 245.0h.01M216.5 264.4h.01M152.4 323.4h.01M53.4 210.7h.01M62.5 270.3h.01M223.7 279.3h.01M103.8 233.0h.01M98.9 231.7h.01M49.9 203.6h.01M65.7 182.9h.01M236.8 262.0h.01M207.5 191.2h.01M99.3 246.3h.01M166.6 198.2h.01M228.2 272.5h.01M101.1 292.5h.01M64.9 185.9h.01M106.0 268.6h.01M242.9 318.2h.01" stroke="#b86155"/><path d="M202.3 190.5h.01M204.6 192.3h.01M143.5 226.6h.01M215.0 270.4h.01M196.6 223.1h.01M166.7 315.4h.01M80.7 200.1h.01M65.4 193.9h.01M63.2 191.9h.01M190.7 195.5h.01M221.2 241.3h.01M238.6 293.6h.01M221.6 265.4h.01M202.5 276.6h.01M48.5 301.3h.01M173.9 201.2h.01M205.9 231.3h.01M237.6 316.5h.01M199.4 277.4h.01M204.4 223.1h.01M163.8 316.4h.01M82.4 190.8h.01M67.0 266.8h.01M146.5 225.6h.01M241.8 267.8h.01M221.9 191.1h.01M110.0 321.8h.01M174.8 299.2h.01M204.0 195.3h.01M96.4 288.2h.01M210.1 277.2h.01M48.5 292.1h.01M86.2 183.6h.01M205.2 219.9h.01M91.9 294.9h.01M203.4 250.6h.01M232.1 268.6h.01M215.0 259.3h.01M200.7 200.7h.01M231.0 227.9h.01M223.3 260.0h.01M231.2 282.8h.01M231.2 252.3h.01M195.3 269.5h.01M219.7 214.9h.01M203.7 198.4h.01M221.6 219.9h.01M193.8 261.3h.01M104.2 273.4h.01M205.7 252.8h.01M229.2 258.0h.01M83.6 272.6h.01M106.7 265.5h.01M219.9 287.5h.01M60.1 187.8h.01M166.0 318.0h.01M60.4 192.4h.01M209.7 227.2h.01M199.2 191.5h.01M207.6 222.1h.01M231.6 224.8h.01M46.1 299.3h.01M195.6 266.1h.01M226.3 259.1h.01M193.6 278.9h.01M174.7 198.2h.01M212.6 247.5h.01M227.7 232.0h.01M221.5 277.3h.01M239.5 291.6h.01M107.7 254.2h.01M239.0 241.6h.01M196.0 280.7h.01M176.0 304.2h.01M161.8 309.8h.01M218.6 221.0h.01M199.2 222.0h.01M212.8 268.2h.01M194.7 218.3h.01M239.1 252.9h.01M103.2 258.0h.01M242.8 328.9h.01M240.4 327.1h.01M99.1 305.2h.01M145.7 228.6h.01M50.6 200.1h.01M178.1 194.1h.01M59.7 184.1h.01M211.4 263.3h.01M207.0 194.4h.01M201.7 259.7h.01M102.9 250.4h.01M206.8 303.8h.01M101.6 263.9h.01M166.4 307.3h.01M153.9 328.6h.01M192.7 267.5h.01" stroke="#c0755e"/><path d="M183.6 185.3h.01M89.9 298.5h.01M226.8 294.7h.01M212.3 273.5h.01M234.0 262.7h.01M84.2 195.8h.01M83.5 199.2h.01M177.1 200.2h.01M190.4 279.8h.01M212.0 211.7h.01M224.0 221.9h.01M110.2 318.7h.01M85.9 200.9h.01M206.7 211.0h.01M122.2 260.1h.01M67.4 264.2h.01M219.5 290.4h.01M51.3 291.1h.01M209.0 212.9h.01M44.8 296.4h.01M85.8 186.9h.01M48.8 289.2h.01M106.5 275.1h.01M225.0 215.7h.01M224.5 291.5h.01M193.2 197.3h.01M87.0 194.8h.01M88.7 185.7h.01M214.6 275.3h.01M224.6 218.7h.01M197.9 214.1h.01M215.8 293.6h.01M223.9 268.0h.01M241.4 270.8h.01M220.7 225.8h.01M84.7 192.9h.01M89.6 283.3h.01M192.1 270.4h.01M239.2 318.4h.01M226.0 285.3h.01M85.3 189.8h.01M93.6 314.9h.01M120.1 258.4h.01M226.7 220.6h.01M109.6 282.1h.01M220.5 284.3h.01M194.6 258.4h.01M221.8 292.4h.01M177.5 196.8h.01M57.6 186.1h.01M200.4 215.9h.01M209.7 209.9h.01M227.5 217.7h.01M87.9 295.5h.01M228.1 229.0h.01M81.7 194.0h.01M202.9 232.4h.01M208.7 204.3h.01M148.4 247.1h.01M193.4 224.4h.01M230.5 230.9h.01M227.9 214.7h.01M203.9 226.0h.01M110.0 279.0h.01M58.1 201.2h.01M83.7 288.5h.01M224.9 297.8h.01M200.8 230.4h.01M201.0 248.5h.01M171.9 199.2h.01M216.0 240.7h.01M232.8 295.7h.01M222.2 216.9h.01M241.3 320.3h.01M213.6 265.3h.01M203.7 211.9h.01M54.4 290.2h.01M184.9 270.0h.01M196.7 260.2h.01M176.8 301.3h.01M222.6 289.7h.01M233.2 292.6h.01M226.4 223.7h.01M235.2 287.1h.01M228.7 225.8h.01M209.1 198.0h.01M241.6 292.7h.01M171.7 196.7h.01M214.6 214.0h.01M238.4 271.9h.01M169.3 195.2h.01M192.9 282.1h.01M175.4 195.1h.01M219.2 217.9h.01M229.2 222.9h.01M204.6 209.2h.01M205.2 240.7h.01M221.0 222.8h.01M112.6 320.5h.01M145.4 231.6h.01M92.5 282.6h.01M119.3 261.4h.01M208.3 233.1h.01M202.5 217.9h.01M54.3 205.0h.01M88.5 203.0h.01M197.6 231.3h.01M215.2 272.4h.01M220.0 228.8h.01" stroke="#c68a6d"/><path d="M209.9 224.1h.01M169.7 192.0h.01M214.5 228.0h.01M231.7 301.4h.01M201.6 224.3h.01M208.2 254.5h.01M141.5 218.9h.01M235.1 220.7h.01M177.8 188.0h.01M225.5 288.3h.01M237.4 222.7h.01M194.3 291.9h.01M205.0 189.3h.01M198.7 210.9h.01M171.4 202.2h.01M113.9 327.7h.01M188.2 192.0h.01M194.5 272.7h.01M193.2 228.2h.01M83.1 291.5h.01M138.5 220.1h.01M182.9 198.0h.01M86.5 198.1h.01M197.4 284.2h.01M232.1 221.5h.01M215.4 189.1h.01M180.8 261.1h.01M207.0 225.1h.01M197.4 271.5h.01M204.7 295.7h.01M229.8 219.7h.01M203.1 284.6h.01M215.6 208.9h.01M210.2 293.2h.01M88.2 188.8h.01M237.4 311.2h.01M126.7 231.6h.01M238.5 321.4h.01M45.5 293.5h.01M189.2 271.6h.01M195.5 230.0h.01M218.2 224.0h.01M200.3 251.8h.01M80.0 188.9h.01M234.7 223.9h.01M94.3 221.9h.01M58.4 293.8h.01M215.3 224.7h.01M146.0 201.3h.01M221.5 295.5h.01M233.9 289.8h.01M229.8 328.2h.01M204.2 301.9h.01M89.6 196.6h.01M202.2 221.0h.01M230.2 216.8h.01M93.0 320.2h.01M122.3 323.9h.01M75.6 293.4h.01M200.8 213.0h.01M193.4 264.4h.01M201.1 227.4h.01M194.5 288.6h.01M238.9 268.7h.01M227.4 299.7h.01M145.1 251.5h.01M218.8 293.4h.01M206.3 197.4h.01M201.6 264.2h.01M197.0 220.2h.01M200.0 219.2h.01M95.6 295.9h.01M180.8 183.8h.01M197.6 216.4h.01M169.9 185.8h.01M224.4 300.8h.01M116.6 326.7h.01M186.1 279.5h.01M198.7 225.2h.01M205.3 205.9h.01M201.1 242.6h.01M198.1 249.9h.01M195.3 211.8h.01M194.1 221.3h.01M209.9 289.5h.01M89.3 199.7h.01M185.6 190.4h.01M90.7 318.3h.01M192.4 249.5h.01M225.9 226.8h.01M236.8 225.8h.01M196.0 226.1h.01M213.9 216.9h.01M58.2 182.6h.01M81.3 196.9h.01M198.6 265.2h.01M135.2 227.5h.01M202.3 185.6h.01M195.8 202.6h.01M69.8 265.9h.01M213.8 285.6h.01M212.4 226.2h.01M218.5 242.5h.01M223.0 227.7h.01M216.7 216.0h.01M198.4 228.3h.01M235.8 294.6h.01M202.2 294.1h.01M175.1 189.4h.01M212.2 301.1h.01M90.6 190.9h.01M56.8 292.2h.01M200.1 233.4h.01M148.9 277.4h.01M112.3 316.7h.01" stroke="#cb9f83"/><path d="M229.4 331.5h.01M203.6 229.2h.01M137.9 226.3h.01M238.8 298.0h.01M116.2 332.3h.01M215.5 296.5h.01M197.7 206.5h.01M216.4 284.4h.01M205.0 255.7h.01M209.0 308.7h.01M145.3 207.6h.01M170.2 182.7h.01M188.6 189.0h.01M192.6 213.1h.01M211.6 310.6h.01M204.5 298.9h.01M146.2 198.4h.01M219.0 239.6h.01M200.3 274.3h.01M120.4 255.9h.01M139.1 239.9h.01M237.7 214.9h.01M235.3 210.3h.01M189.9 268.5h.01M124.4 226.4h.01M237.7 308.3h.01M167.7 201.6h.01M215.4 230.5h.01M195.9 199.5h.01M209.2 305.5h.01M114.2 324.7h.01M235.3 232.3h.01M201.5 209.8h.01M195.6 208.6h.01M194.9 251.4h.01M198.7 240.9h.01M212.3 193.5h.01M142.5 252.9h.01M238.6 301.4h.01M183.0 191.5h.01M189.2 183.0h.01M211.8 199.7h.01M226.1 212.6h.01M92.3 198.6h.01M191.7 184.6h.01M51.2 296.5h.01M75.3 296.2h.01M241.2 300.0h.01M205.0 187.3h.01M209.6 299.6h.01M237.4 218.0h.01M233.0 230.6h.01M218.1 213.5h.01M212.5 190.4h.01M145.4 204.5h.01M165.9 309.9h.01M180.2 192.9h.01M220.7 299.9h.01M205.1 184.3h.01M208.4 285.2h.01M200.3 197.5h.01M135.7 221.5h.01M165.2 200.0h.01M211.8 307.6h.01M87.8 313.2h.01M73.0 196.8h.01M123.4 254.5h.01M208.9 241.8h.01M200.4 286.2h.01M209.6 302.5h.01M232.3 214.2h.01M185.5 263.6h.01M141.9 241.9h.01M224.2 296.0h.01M81.1 186.6h.01M195.2 215.0h.01M202.4 290.8h.01M240.6 213.5h.01M212.5 228.6h.01M81.4 183.1h.01M180.7 186.9h.01M112.3 280.9h.01M91.4 223.1h.01M221.5 206.1h.01M217.4 227.1h.01M107.2 257.3h.01M127.2 225.4h.01M185.2 267.1h.01M199.9 254.8h.01M169.7 188.8h.01M194.6 254.6h.01M129.4 230.0h.01M183.9 256.6h.01M116.3 329.6h.01M47.7 295.1h.01M209.3 201.2h.01M210.0 296.2h.01M235.7 229.2h.01M211.8 240.5h.01M236.8 288.6h.01M220.5 212.2h.01M140.0 251.1h.01M172.9 184.6h.01M133.0 219.6h.01M145.0 254.7h.01M83.2 202.0h.01M223.3 225.0h.01M199.8 183.6h.01M229.4 296.3h.01M218.9 204.2h.01M188.7 278.3h.01M197.4 253.1h.01M78.3 187.5h.01M208.2 288.1h.01M142.5 208.8h.01M198.5 201.1h.01M183.5 278.1h.01M134.1 325.9h.01M230.5 293.8h.01M89.7 193.6h.01M210.8 287.0h.01M80.8 203.6h.01M139.1 326.4h.01M176.4 203.0h.01M241.8 223.0h.01M204.7 264.6h.01M217.5 274.4h.01M195.5 204.7h.01" stroke="#d0b39e"/><path d="M186.4 255.4h.01M121.9 326.7h.01M200.8 245.4h.01M217.8 229.1h.01M189.0 186.0h.01M142.2 228.5h.01M92.6 300.4h.01M119.9 237.4h.01M242.5 218.2h.01M86.1 290.6h.01M202.4 256.6h.01M132.4 228.6h.01M67.7 297.6h.01M233.9 226.5h.01M234.5 216.2h.01M116.9 323.4h.01M193.3 201.0h.01M78.0 294.8h.01M141.1 221.7h.01M218.1 298.0h.01M139.9 207.0h.01M186.3 184.3h.01M212.2 196.5h.01M148.8 200.1h.01M192.0 252.8h.01M200.5 205.1h.01M143.3 199.5h.01M184.1 250.2h.01M218.6 207.3h.01M207.3 294.5h.01M197.1 185.0h.01M91.9 201.6h.01M241.4 226.0h.01M123.2 257.7h.01M70.4 305.3h.01M119.6 322.1h.01M219.8 306.1h.01M232.1 217.6h.01M117.5 317.1h.01M213.4 288.6h.01M194.1 186.3h.01M197.1 287.5h.01M194.7 285.3h.01M205.4 286.3h.01M187.8 268.9h.01M91.8 220.2h.01M223.2 229.7h.01M208.8 311.4h.01M188.0 265.5h.01M195.6 245.0h.01M92.6 195.2h.01M209.5 229.8h.01M143.7 220.6h.01M201.7 193.5h.01M172.4 190.8h.01M75.7 200.2h.01M238.6 227.4h.01M191.3 187.8h.01M172.0 193.8h.01M62.0 263.2h.01M220.4 231.1h.01M218.5 210.5h.01M117.2 320.7h.01M78.5 303.8h.01M175.6 186.3h.01M111.3 325.9h.01M178.3 185.1h.01M89.8 321.2h.01M213.2 209.9h.01M191.2 191.0h.01M135.3 224.3h.01M132.5 225.6h.01M215.1 192.2h.01M205.0 292.8h.01M146.8 219.1h.01M208.5 207.3h.01M203.6 200.6h.01M128.0 242.1h.01M84.0 185.0h.01M200.3 282.9h.01M174.8 192.7h.01M191.1 264.8h.01M61.9 266.6h.01M221.1 209.2h.01M169.1 198.1h.01M195.2 248.3h.01M142.7 205.8h.01M209.8 191.7h.01M232.4 211.4h.01M207.4 300.6h.01M98.5 294.3h.01M81.2 321.2h.01M84.0 205.6h.01M142.8 249.9h.01M134.3 322.9h.01M89.2 300.6h.01M189.6 251.1h.01M201.6 300.3h.01M216.0 290.7h.01M81.1 305.1h.01M199.6 260.9h.01M148.2 250.3h.01M223.8 211.0h.01M145.4 248.4h.01M212.6 204.1h.01M132.3 231.8h.01M202.6 287.9h.01M130.0 227.3h.01M148.2 206.3h.01M211.3 205.9h.01M189.5 235.4h.01M209.5 194.8h.01M83.5 188.2h.01M242.9 215.3h.01M146.3 222.3h.01M167.0 195.0h.01M147.8 253.3h.01M181.6 258.2h.01M225.8 231.4h.01M180.1 189.8h.01M199.7 258.0h.01M206.0 202.2h.01M234.9 213.2h.01M199.6 186.8h.01M132.8 222.5h.01M240.5 310.0h.01M235.3 306.5h.01M203.2 203.5h.01M189.6 232.4h.01M200.1 289.2h.01M111.6 322.9h.01M56.5 296.9h.01M207.6 188.9h.01M203.4 207.3h.01M185.7 282.6h.01M64.5 268.1h.01M192.7 231.1h.01M198.1 281.1h.01M229.0 211.2h.01M114.2 321.7h.01M185.7 260.6h.01M144.4 233.4h.01M207.7 291.4h.01M221.7 202.9h.01M123.9 232.7h.01" stroke="#d8c5bb"/><path d="M215.6 211.5h.01M189.4 238.5h.01M158.1 220.2h.01M73.2 297.5h.01M141.9 234.3h.01M136.3 327.8h.01M137.9 223.2h.01M198.2 244.1h.01M75.8 191.9h.01M67.7 199.8h.01M78.6 291.7h.01M210.6 188.5h.01M238.8 224.4h.01M67.6 331.1h.01M152.8 204.9h.01M81.3 295.9h.01M215.2 302.0h.01M142.0 211.0h.01M119.5 325.0h.01M207.7 186.9h.01M216.4 287.5h.01M143.1 223.0h.01M186.5 237.0h.01M217.5 304.3h.01M149.9 215.5h.01M127.1 228.4h.01M73.2 307.0h.01M70.4 201.2h.01M133.7 329.7h.01M223.0 232.7h.01M216.1 197.5h.01M231.8 298.1h.01M83.9 294.6h.01M191.0 261.4h.01M145.7 245.4h.01M150.2 218.5h.01M188.4 260.1h.01M184.1 241.6h.01M83.9 322.5h.01M201.3 239.4h.01M207.3 297.7h.01M147.5 256.2h.01M214.9 304.8h.01M178.6 259.4h.01M137.7 202.6h.01M67.8 202.9h.01M139.1 229.5h.01M75.8 197.9h.01M240.1 216.7h.01M194.5 183.4h.01M142.0 237.5h.01M141.8 231.5h.01M127.8 235.9h.01M147.4 217.1h.01M87.8 316.3h.01M175.7 183.5h.01M187.1 249.3h.01M213.2 291.9h.01M93.5 305.5h.01M186.1 187.3h.01M149.9 221.9h.01M136.6 324.6h.01M195.4 233.3h.01M130.4 221.0h.01M197.9 247.0h.01M164.0 196.5h.01M54.6 299.0h.01M75.8 299.2h.01M142.7 245.1h.01M184.0 235.5h.01M81.4 314.9h.01M136.4 231.1h.01M51.6 293.2h.01M181.4 239.9h.01M140.3 204.0h.01M144.8 215.8h.01M155.5 221.6h.01M183.4 188.4h.01M182.9 260.1h.01M78.5 313.5h.01M205.3 289.9h.01M197.4 237.1h.01M54.0 295.2h.01M220.4 302.9h.01M125.3 234.3h.01M230.1 209.5h.01M75.8 324.2h.01M184.1 247.6h.01M64.9 329.3h.01M223.3 213.9h.01M213.9 207.5h.01M65.2 298.8h.01M94.4 218.8h.01M73.3 187.3h.01M81.2 308.3h.01M198.3 204.5h.01M217.6 306.6h.01M137.5 205.2h.01M175.8 243.3h.01" stroke="#ded3d4"/><path d="M200.3 279.8h.01M70.5 299.2h.01M78.3 190.4h.01M150.4 212.5h.01M123.0 330.9h.01M175.9 237.0h.01M172.4 187.6h.01M94.6 203.4h.01M238.0 208.2h.01M186.7 233.8h.01M191.4 255.4h.01M128.2 326.6h.01M128.8 258.8h.01M186.7 240.1h.01M125.3 237.5h.01M238.1 211.3h.01M153.0 216.9h.01M84.1 303.7h.01M67.6 327.9h.01M147.3 210.9h.01M150.3 209.4h.01M90.6 203.9h.01M134.1 215.3h.01M147.4 237.3h.01M136.2 240.5h.01M181.2 246.4h.01M84.0 297.6h.01M127.9 238.8h.01M86.5 299.0h.01M152.8 220.0h.01M120.1 332.6h.01M186.8 252.3h.01M81.0 302.2h.01M181.2 233.9h.01M215.4 205.4h.01M212.8 294.9h.01M78.6 196.7h.01M144.4 238.8h.01M75.9 195.2h.01M215.9 185.1h.01M147.2 240.4h.01M123.5 261.9h.01M90.9 307.0h.01M178.7 248.1h.01M130.5 325.2h.01" stroke="#e2d9e2"/></g><rect x="45.40" y="15.50" width="196.60" height="149.10" stroke="#111" stroke-width="1.1" fill="none" /><rect x="45.40" y="183.70" width="196.60" height="148.30" stroke="#111" stroke-width="1.1" fill="none" /><line x1="40.80" y1="29.10" x2="45.40" y2="29.10" stroke="#000" stroke-width="1.25" /><text x="35.60" y="33.11" font-size="10.2" text-anchor="end">300</text><line x1="40.80" y1="51.94" x2="45.40" y2="51.94" stroke="#000" stroke-width="1.25" /><text x="35.60" y="55.95" font-size="10.2" text-anchor="end">250</text><line x1="40.80" y1="74.78" x2="45.40" y2="74.78" stroke="#000" stroke-width="1.25" /><text x="35.60" y="78.79" font-size="10.2" text-anchor="end">200</text><line x1="40.80" y1="97.62" x2="45.40" y2="97.62" stroke="#000" stroke-width="1.25" /><text x="35.60" y="101.63" font-size="10.2" text-anchor="end">150</text><line x1="40.80" y1="120.46" x2="45.40" y2="120.46" stroke="#000" stroke-width="1.25" /><text x="35.60" y="124.47" font-size="10.2" text-anchor="end">100</text><line x1="40.80" y1="143.30" x2="45.40" y2="143.30" stroke="#000" stroke-width="1.25" /><text x="35.60" y="147.31" font-size="10.2" text-anchor="end">50</text><line x1="40.80" y1="196.90" x2="45.40" y2="196.90" stroke="#000" stroke-width="1.25" /><text x="35.60" y="200.91" font-size="10.2" text-anchor="end">300</text><line x1="40.80" y1="219.64" x2="45.40" y2="219.64" stroke="#000" stroke-width="1.25" /><text x="35.60" y="223.65" font-size="10.2" text-anchor="end">250</text><line x1="40.80" y1="242.38" x2="45.40" y2="242.38" stroke="#000" stroke-width="1.25" /><text x="35.60" y="246.39" font-size="10.2" text-anchor="end">200</text><line x1="40.80" y1="265.12" x2="45.40" y2="265.12" stroke="#000" stroke-width="1.25" /><text x="35.60" y="269.13" font-size="10.2" text-anchor="end">150</text><line x1="40.80" y1="287.86" x2="45.40" y2="287.86" stroke="#000" stroke-width="1.25" /><text x="35.60" y="291.87" font-size="10.2" text-anchor="end">100</text><line x1="40.80" y1="310.60" x2="45.40" y2="310.60" stroke="#000" stroke-width="1.25" /><text x="35.60" y="314.61" font-size="10.2" text-anchor="end">50</text><line x1="89.73" y1="332.00" x2="89.73" y2="335.80" stroke="#111" stroke-width="1.1" /><text x="89.73" y="349.31" font-size="10.2" text-anchor="middle">100</text><line x1="135.46" y1="332.00" x2="135.46" y2="335.80" stroke="#111" stroke-width="1.1" /><text x="135.46" y="349.31" font-size="10.2" text-anchor="middle">200</text><line x1="181.19" y1="332.00" x2="181.19" y2="335.80" stroke="#111" stroke-width="1.1" /><text x="181.19" y="349.31" font-size="10.2" text-anchor="middle">300</text><line x1="226.92" y1="332.00" x2="226.92" y2="335.80" stroke="#111" stroke-width="1.1" /><text x="226.92" y="349.31" font-size="10.2" text-anchor="middle">400</text><text x="12.20" y="90.50" font-size="10.2" text-anchor="middle" textLength="29.5" lengthAdjust="spacingAndGlyphs" transform="rotate(-90 12.20 90.50)"><tspan font-style="italic">y</tspan> [µm]</text><text x="11.60" y="257.50" font-size="10.2" text-anchor="middle" textLength="29.3" lengthAdjust="spacingAndGlyphs" transform="rotate(-90 11.60 257.50)"><tspan font-style="italic">y</tspan> [µm]</text><text x="143.60" y="362.60" font-size="10.2" text-anchor="middle" textLength="29.5" lengthAdjust="spacingAndGlyphs"><tspan font-style="italic">x</tspan> [µm]</text><g font-weight="bold" font-size="13.4" stroke="#000" stroke-width="0.35"><text x="-0.50" y="10.70" font-size="13.4">a</text><text x="0.40" y="179.60" font-size="13.4">b</text><text x="409.40" y="10.70" font-size="13.4" textLength="7.6" lengthAdjust="spacingAndGlyphs">c</text></g><rect x="271.60" y="16.10" width="8.50" height="148.30" stroke="#111" stroke-width="1.1" fill="url(#twg)" /><line x1="280.10" y1="16.10" x2="284.30" y2="16.10" stroke="#111" stroke-width="1.1" /><text x="289.60" y="20.11" font-size="10.2">30</text><line x1="280.10" y1="53.18" x2="284.30" y2="53.18" stroke="#111" stroke-width="1.1" /><text x="289.60" y="57.18" font-size="10.2">15</text><line x1="280.10" y1="90.25" x2="284.30" y2="90.25" stroke="#111" stroke-width="1.1" /><text x="289.60" y="94.26" font-size="10.2">0</text><line x1="280.10" y1="127.33" x2="284.30" y2="127.33" stroke="#111" stroke-width="1.1" /><text x="289.60" y="131.33" font-size="10.2">−15</text><line x1="280.10" y1="164.40" x2="284.30" y2="164.40" stroke="#111" stroke-width="1.1" /><text x="289.60" y="168.41" font-size="10.2">−30</text><text x="264.30" y="90.50" font-size="10.2" text-anchor="middle" transform="rotate(-90 264.30 90.50)"><tspan font-style="italic">α</tspan> [°]</text><circle cx="349.23" cy="10.80" r="4.8" fill="#ddd3dc"/><circle cx="339.70" cy="5.30" r="4.8" fill="#ddd3dc"/><circle cx="330.17" cy="10.80" r="4.8" fill="#ddd3dc"/><circle cx="330.17" cy="21.80" r="4.8" fill="#ddd3dc"/><circle cx="339.70" cy="27.30" r="4.8" fill="#ddd3dc"/><circle cx="349.23" cy="21.80" r="4.8" fill="#ddd3dc"/><circle cx="339.70" cy="16.30" r="4.8" fill="#ddd3dc"/><line x1="317.01" y1="29.40" x2="362.39" y2="3.20" stroke="#777" stroke-width="1.3" /><circle cx="350.23" cy="49.85" r="4.8" fill="#b25652"/><circle cx="342.45" cy="42.07" r="4.8" fill="#b25652"/><circle cx="331.82" cy="44.92" r="4.8" fill="#b25652"/><circle cx="328.97" cy="55.55" r="4.8" fill="#b25652"/><circle cx="336.75" cy="63.33" r="4.8" fill="#b25652"/><circle cx="347.38" cy="60.48" r="4.8" fill="#b25652"/><circle cx="339.60" cy="52.70" r="4.8" fill="#b25652"/><line x1="314.29" y1="59.48" x2="364.91" y2="45.92" stroke="#777" stroke-width="1.3" /><circle cx="350.60" cy="90.00" r="4.8" fill="#2f1436"/><circle cx="345.10" cy="80.47" r="4.8" fill="#2f1436"/><circle cx="334.10" cy="80.47" r="4.8" fill="#2f1436"/><circle cx="328.60" cy="90.00" r="4.8" fill="#2f1436"/><circle cx="334.10" cy="99.53" r="4.8" fill="#2f1436"/><circle cx="345.10" cy="99.53" r="4.8" fill="#2f1436"/><circle cx="339.60" cy="90.00" r="4.8" fill="#2f1436"/><line x1="313.40" y1="90.00" x2="365.80" y2="90.00" stroke="#777" stroke-width="1.3" /><circle cx="350.23" cy="129.75" r="4.8" fill="#6276ba"/><circle cx="347.38" cy="119.12" r="4.8" fill="#6276ba"/><circle cx="336.75" cy="116.27" r="4.8" fill="#6276ba"/><circle cx="328.97" cy="124.05" r="4.8" fill="#6276ba"/><circle cx="331.82" cy="134.68" r="4.8" fill="#6276ba"/><circle cx="342.45" cy="137.53" r="4.8" fill="#6276ba"/><circle cx="339.60" cy="126.90" r="4.8" fill="#6276ba"/><line x1="314.29" y1="120.12" x2="364.91" y2="133.68" stroke="#777" stroke-width="1.3" /><circle cx="349.13" cy="169.50" r="4.8" fill="#ddd3dc"/><circle cx="349.13" cy="158.50" r="4.8" fill="#ddd3dc"/><circle cx="339.60" cy="153.00" r="4.8" fill="#ddd3dc"/><circle cx="330.07" cy="158.50" r="4.8" fill="#ddd3dc"/><circle cx="330.07" cy="169.50" r="4.8" fill="#ddd3dc"/><circle cx="339.60" cy="175.00" r="4.8" fill="#ddd3dc"/><circle cx="339.60" cy="164.00" r="4.8" fill="#ddd3dc"/><line x1="316.91" y1="150.90" x2="362.29" y2="177.10" stroke="#777" stroke-width="1.3" /><line x1="316.91" y1="177.10" x2="362.29" y2="150.90" stroke="#777" stroke-width="1.05" stroke-dasharray="3.2 2.1"/><rect x="255.40" y="201.00" width="135.60" height="107.50" stroke="none" stroke-width="0" fill="#606060" /><g clip-path="url(#gclip)" fill="url(#spot)"><circle cx="255.9" cy="201.2" r="2.6"/><circle cx="261.0" cy="200.3" r="2.6"/><circle cx="265.5" cy="199.5" r="2.6"/><circle cx="271.7" cy="199.3" r="2.6"/><circle cx="276.4" cy="198.6" r="2.6"/><circle cx="286.0" cy="198.1" r="2.6"/><circle cx="252.8" cy="206.0" r="2.6"/><circle cx="258.7" cy="204.8" r="2.6"/><circle cx="263.1" cy="204.5" r="2.6"/><circle cx="269.2" cy="203.1" r="2.6"/><circle cx="274.0" cy="203.2" r="2.6"/><circle cx="279.3" cy="202.6" r="2.6"/><circle cx="283.9" cy="201.9" r="2.6"/><circle cx="288.8" cy="202.4" r="2.6"/><circle cx="294.6" cy="201.3" r="2.6"/><circle cx="299.1" cy="200.2" r="2.6"/><circle cx="304.4" cy="200.3" r="2.6"/><circle cx="309.6" cy="199.8" r="2.6"/><circle cx="314.4" cy="199.2" r="2.6"/><circle cx="319.9" cy="199.2" r="2.6"/><circle cx="325.7" cy="198.1" r="2.6"/><circle cx="255.8" cy="210.2" r="2.6"/><circle cx="261.4" cy="208.4" r="2.6"/><circle cx="266.7" cy="208.3" r="2.6"/><circle cx="271.2" cy="208.0" r="2.6"/><circle cx="277.3" cy="207.6" r="2.6"/><circle cx="282.0" cy="207.8" r="2.6"/><circle cx="287.6" cy="206.6" r="2.6"/><circle cx="292.1" cy="205.7" r="2.6"/><circle cx="297.1" cy="205.7" r="2.6"/><circle cx="302.6" cy="205.1" r="2.6"/><circle cx="307.9" cy="204.2" r="2.6"/><circle cx="312.7" cy="204.2" r="2.6"/><circle cx="318.0" cy="203.8" r="2.6"/><circle cx="323.1" cy="202.8" r="2.6"/><circle cx="328.2" cy="202.0" r="2.6"/><circle cx="332.6" cy="202.0" r="2.6"/><circle cx="338.3" cy="201.4" r="2.6"/><circle cx="342.8" cy="200.6" r="2.6"/><circle cx="348.3" cy="199.9" r="2.6"/><circle cx="352.9" cy="199.5" r="2.6"/><circle cx="359.1" cy="199.2" r="2.6"/><circle cx="363.7" cy="198.6" r="2.6"/><circle cx="254.6" cy="214.5" r="2.6"/><circle cx="259.7" cy="213.7" r="2.6"/><circle cx="264.2" cy="213.6" r="2.6"/><circle cx="269.4" cy="213.2" r="2.6"/><circle cx="274.8" cy="212.1" r="2.6"/><circle cx="279.9" cy="211.8" r="2.6"/><circle cx="285.3" cy="211.1" r="2.6"/><circle cx="289.9" cy="211.2" r="2.6"/><circle cx="296.0" cy="211.0" r="2.6"/><circle cx="300.4" cy="209.8" r="2.6"/><circle cx="306.0" cy="209.1" r="2.6"/><circle cx="310.2" cy="208.7" r="2.6"/><circle cx="315.9" cy="207.8" r="2.6"/><circle cx="320.2" cy="207.1" r="2.6"/><circle cx="326.2" cy="206.8" r="2.6"/><circle cx="331.0" cy="206.6" r="2.6"/><circle cx="336.4" cy="205.8" r="2.6"/><circle cx="341.5" cy="205.1" r="2.6"/><circle cx="346.3" cy="204.5" r="2.6"/><circle cx="351.9" cy="204.3" r="2.6"/><circle cx="356.4" cy="203.7" r="2.6"/><circle cx="361.7" cy="203.5" r="2.6"/><circle cx="366.4" cy="202.4" r="2.6"/><circle cx="371.9" cy="203.1" r="2.6"/><circle cx="377.5" cy="201.6" r="2.6"/><circle cx="382.5" cy="201.8" r="2.6"/><circle cx="387.3" cy="200.5" r="2.6"/><circle cx="393.0" cy="200.2" r="2.6"/><circle cx="256.8" cy="218.6" r="2.6"/><circle cx="262.4" cy="217.5" r="2.6"/><circle cx="267.6" cy="217.1" r="2.6"/><circle cx="272.7" cy="217.1" r="2.6"/><circle cx="277.6" cy="216.6" r="2.6"/><circle cx="282.7" cy="215.8" r="2.6"/><circle cx="287.4" cy="215.5" r="2.6"/><circle cx="293.8" cy="215.7" r="2.6"/><circle cx="298.7" cy="214.7" r="2.6"/><circle cx="303.1" cy="214.4" r="2.6"/><circle cx="308.5" cy="213.3" r="2.6"/><circle cx="313.5" cy="212.9" r="2.6"/><circle cx="318.6" cy="212.3" r="2.6"/><circle cx="323.5" cy="211.6" r="2.6"/><circle cx="329.8" cy="211.2" r="2.6"/><circle cx="334.0" cy="210.9" r="2.6"/><circle cx="339.5" cy="209.7" r="2.6"/><circle cx="344.3" cy="209.9" r="2.6"/><circle cx="349.6" cy="209.1" r="2.6"/><circle cx="355.1" cy="208.3" r="2.6"/><circle cx="359.7" cy="207.8" r="2.6"/><circle cx="365.3" cy="206.8" r="2.6"/><circle cx="369.7" cy="206.7" r="2.6"/><circle cx="375.3" cy="206.6" r="2.6"/><circle cx="380.7" cy="205.3" r="2.6"/><circle cx="385.6" cy="205.2" r="2.6"/><circle cx="390.2" cy="204.9" r="2.6"/><circle cx="255.3" cy="223.6" r="2.6"/><circle cx="259.8" cy="222.9" r="2.6"/><circle cx="265.3" cy="222.4" r="2.6"/><circle cx="270.1" cy="222.4" r="2.6"/><circle cx="275.7" cy="220.9" r="2.6"/><circle cx="280.2" cy="220.7" r="2.6"/><circle cx="285.9" cy="220.0" r="2.6"/><circle cx="291.1" cy="219.5" r="2.6"/><circle cx="296.3" cy="218.9" r="2.6"/><circle cx="301.3" cy="218.9" r="2.6"/><circle cx="307.3" cy="217.7" r="2.6"/><circle cx="311.3" cy="217.2" r="2.6"/><circle cx="316.9" cy="216.6" r="2.6"/><circle cx="321.6" cy="216.4" r="2.6"/><circle cx="326.5" cy="215.6" r="2.6"/><circle cx="331.8" cy="214.6" r="2.6"/><circle cx="336.6" cy="214.7" r="2.6"/><circle cx="342.3" cy="214.2" r="2.6"/><circle cx="346.7" cy="213.6" r="2.6"/><circle cx="352.8" cy="213.4" r="2.6"/><circle cx="357.6" cy="212.4" r="2.6"/><circle cx="362.9" cy="211.9" r="2.6"/><circle cx="367.4" cy="211.3" r="2.6"/><circle cx="373.5" cy="211.1" r="2.6"/><circle cx="378.5" cy="210.4" r="2.6"/><circle cx="383.5" cy="209.8" r="2.6"/><circle cx="388.3" cy="210.3" r="2.6"/><circle cx="393.7" cy="208.7" r="2.6"/><circle cx="253.0" cy="228.2" r="2.6"/><circle cx="258.2" cy="227.2" r="2.6"/><circle cx="263.3" cy="227.4" r="2.6"/><circle cx="268.1" cy="226.5" r="2.6"/><circle cx="273.8" cy="225.6" r="2.6"/><circle cx="278.7" cy="225.1" r="2.6"/><circle cx="284.2" cy="225.7" r="2.6"/><circle cx="289.6" cy="224.3" r="2.6"/><circle cx="294.3" cy="223.9" r="2.6"/><circle cx="299.2" cy="223.8" r="2.6"/><circle cx="303.8" cy="223.1" r="2.6"/><circle cx="309.4" cy="222.7" r="2.6"/><circle cx="314.6" cy="221.5" r="2.6"/><circle cx="319.8" cy="221.4" r="2.6"/><circle cx="324.8" cy="220.8" r="2.6"/><circle cx="329.7" cy="219.3" r="2.6"/><circle cx="335.3" cy="219.8" r="2.6"/><circle cx="340.2" cy="219.0" r="2.6"/><circle cx="345.6" cy="218.3" r="2.6"/><circle cx="350.1" cy="217.9" r="2.6"/><circle cx="355.9" cy="216.9" r="2.6"/><circle cx="361.1" cy="216.6" r="2.6"/><circle cx="365.4" cy="216.7" r="2.6"/><circle cx="370.8" cy="215.3" r="2.6"/><circle cx="375.9" cy="215.6" r="2.6"/><circle cx="381.5" cy="214.5" r="2.6"/><circle cx="386.4" cy="214.4" r="2.6"/><circle cx="391.1" cy="213.7" r="2.6"/><circle cx="256.3" cy="232.5" r="2.6"/><circle cx="261.2" cy="232.1" r="2.6"/><circle cx="265.6" cy="231.5" r="2.6"/><circle cx="271.1" cy="231.0" r="2.6"/><circle cx="276.5" cy="229.9" r="2.6"/><circle cx="281.8" cy="229.3" r="2.6"/><circle cx="286.5" cy="228.5" r="2.6"/><circle cx="291.9" cy="228.7" r="2.6"/><circle cx="297.4" cy="228.0" r="2.6"/><circle cx="302.6" cy="227.5" r="2.6"/><circle cx="307.3" cy="227.1" r="2.6"/><circle cx="312.8" cy="226.3" r="2.6"/><circle cx="317.5" cy="225.8" r="2.6"/><circle cx="322.7" cy="225.0" r="2.6"/><circle cx="328.2" cy="224.6" r="2.6"/><circle cx="333.1" cy="224.0" r="2.6"/><circle cx="338.2" cy="223.8" r="2.6"/><circle cx="343.0" cy="223.9" r="2.6"/><circle cx="348.4" cy="223.3" r="2.6"/><circle cx="353.8" cy="221.9" r="2.6"/><circle cx="358.4" cy="221.7" r="2.6"/><circle cx="363.7" cy="221.0" r="2.6"/><circle cx="368.7" cy="219.8" r="2.6"/><circle cx="373.8" cy="219.2" r="2.6"/><circle cx="379.2" cy="219.1" r="2.6"/><circle cx="383.9" cy="218.8" r="2.6"/><circle cx="389.4" cy="217.8" r="2.6"/><circle cx="393.8" cy="217.4" r="2.6"/><circle cx="253.9" cy="236.5" r="2.6"/><circle cx="259.2" cy="237.3" r="2.6"/><circle cx="264.7" cy="235.6" r="2.6"/><circle cx="269.1" cy="235.3" r="2.6"/><circle cx="274.8" cy="234.6" r="2.6"/><circle cx="279.4" cy="234.6" r="2.6"/><circle cx="285.0" cy="233.7" r="2.6"/><circle cx="289.5" cy="232.7" r="2.6"/><circle cx="294.7" cy="231.9" r="2.6"/><circle cx="300.4" cy="232.0" r="2.6"/><circle cx="305.4" cy="232.3" r="2.6"/><circle cx="310.8" cy="230.7" r="2.6"/><circle cx="315.8" cy="231.0" r="2.6"/><circle cx="320.3" cy="229.7" r="2.6"/><circle cx="325.7" cy="228.9" r="2.6"/><circle cx="331.3" cy="228.1" r="2.6"/><circle cx="335.6" cy="228.3" r="2.6"/><circle cx="341.0" cy="227.9" r="2.6"/><circle cx="346.3" cy="227.3" r="2.6"/><circle cx="351.7" cy="226.0" r="2.6"/><circle cx="356.4" cy="226.0" r="2.6"/><circle cx="361.6" cy="225.8" r="2.6"/><circle cx="366.4" cy="225.0" r="2.6"/><circle cx="372.1" cy="224.8" r="2.6"/><circle cx="376.7" cy="224.8" r="2.6"/><circle cx="382.9" cy="223.1" r="2.6"/><circle cx="387.3" cy="223.9" r="2.6"/><circle cx="392.6" cy="222.6" r="2.6"/><circle cx="256.8" cy="241.2" r="2.6"/><circle cx="261.9" cy="241.1" r="2.6"/><circle cx="267.0" cy="239.3" r="2.6"/><circle cx="272.1" cy="238.9" r="2.6"/><circle cx="277.5" cy="239.4" r="2.6"/><circle cx="282.9" cy="238.0" r="2.6"/><circle cx="287.5" cy="238.6" r="2.6"/><circle cx="293.0" cy="237.4" r="2.6"/><circle cx="298.4" cy="237.7" r="2.6"/><circle cx="303.6" cy="236.4" r="2.6"/><circle cx="308.4" cy="236.0" r="2.6"/><circle cx="313.2" cy="234.9" r="2.6"/><circle cx="318.5" cy="234.4" r="2.6"/><circle cx="323.6" cy="234.2" r="2.6"/><circle cx="329.6" cy="233.4" r="2.6"/><circle cx="333.8" cy="233.1" r="2.6"/><circle cx="339.1" cy="232.9" r="2.6"/><circle cx="343.9" cy="231.8" r="2.6"/><circle cx="348.7" cy="231.2" r="2.6"/><circle cx="354.5" cy="231.0" r="2.6"/><circle cx="359.1" cy="230.3" r="2.6"/><circle cx="364.6" cy="230.1" r="2.6"/><circle cx="369.5" cy="229.3" r="2.6"/><circle cx="374.2" cy="228.4" r="2.6"/><circle cx="380.5" cy="227.5" r="2.6"/><circle cx="385.0" cy="227.8" r="2.6"/><circle cx="390.1" cy="226.9" r="2.6"/><circle cx="255.3" cy="245.9" r="2.6"/><circle cx="260.0" cy="245.1" r="2.6"/><circle cx="265.3" cy="244.7" r="2.6"/><circle cx="270.5" cy="244.9" r="2.6"/><circle cx="275.4" cy="243.2" r="2.6"/><circle cx="280.2" cy="242.7" r="2.6"/><circle cx="285.3" cy="243.1" r="2.6"/><circle cx="290.9" cy="241.6" r="2.6"/><circle cx="296.1" cy="242.0" r="2.6"/><circle cx="300.9" cy="240.8" r="2.6"/><circle cx="306.0" cy="240.6" r="2.6"/><circle cx="311.5" cy="240.4" r="2.6"/><circle cx="316.8" cy="239.8" r="2.6"/><circle cx="322.0" cy="239.1" r="2.6"/><circle cx="326.1" cy="238.3" r="2.6"/><circle cx="331.9" cy="237.7" r="2.6"/><circle cx="337.2" cy="237.2" r="2.6"/><circle cx="341.7" cy="237.2" r="2.6"/><circle cx="347.4" cy="236.3" r="2.6"/><circle cx="352.6" cy="236.0" r="2.6"/><circle cx="357.5" cy="234.3" r="2.6"/><circle cx="362.3" cy="234.4" r="2.6"/><circle cx="367.3" cy="234.1" r="2.6"/><circle cx="373.2" cy="233.3" r="2.6"/><circle cx="377.5" cy="233.7" r="2.6"/><circle cx="382.8" cy="232.0" r="2.6"/><circle cx="388.2" cy="232.0" r="2.6"/><circle cx="393.0" cy="231.6" r="2.6"/><circle cx="253.2" cy="251.1" r="2.6"/><circle cx="258.0" cy="249.5" r="2.6"/><circle cx="262.7" cy="249.0" r="2.6"/><circle cx="268.8" cy="248.7" r="2.6"/><circle cx="273.8" cy="248.7" r="2.6"/><circle cx="279.1" cy="248.3" r="2.6"/><circle cx="283.5" cy="247.3" r="2.6"/><circle cx="288.7" cy="246.9" r="2.6"/><circle cx="293.6" cy="246.3" r="2.6"/><circle cx="299.5" cy="245.2" r="2.6"/><circle cx="304.2" cy="244.9" r="2.6"/><circle cx="309.3" cy="245.0" r="2.6"/><circle cx="314.3" cy="244.4" r="2.6"/><circle cx="318.9" cy="244.0" r="2.6"/><circle cx="324.3" cy="243.3" r="2.6"/><circle cx="329.7" cy="241.6" r="2.6"/><circle cx="334.5" cy="242.1" r="2.6"/><circle cx="340.5" cy="241.5" r="2.6"/><circle cx="345.1" cy="240.4" r="2.6"/><circle cx="350.7" cy="241.0" r="2.6"/><circle cx="355.3" cy="239.8" r="2.6"/><circle cx="359.8" cy="239.6" r="2.6"/><circle cx="366.5" cy="239.0" r="2.6"/><circle cx="371.1" cy="238.4" r="2.6"/><circle cx="375.4" cy="238.1" r="2.6"/><circle cx="380.5" cy="237.1" r="2.6"/><circle cx="386.1" cy="236.9" r="2.6"/><circle cx="391.3" cy="236.2" r="2.6"/><circle cx="256.1" cy="255.0" r="2.6"/><circle cx="260.8" cy="254.4" r="2.6"/><circle cx="266.3" cy="253.1" r="2.6"/><circle cx="271.1" cy="253.3" r="2.6"/><circle cx="276.2" cy="251.9" r="2.6"/><circle cx="281.4" cy="252.3" r="2.6"/><circle cx="287.2" cy="250.8" r="2.6"/><circle cx="292.6" cy="250.6" r="2.6"/><circle cx="297.2" cy="250.9" r="2.6"/><circle cx="302.3" cy="250.0" r="2.6"/><circle cx="306.7" cy="249.6" r="2.6"/><circle cx="312.0" cy="248.0" r="2.6"/><circle cx="318.3" cy="248.6" r="2.6"/><circle cx="323.1" cy="247.4" r="2.6"/><circle cx="328.1" cy="247.8" r="2.6"/><circle cx="333.2" cy="246.7" r="2.6"/><circle cx="337.4" cy="246.1" r="2.6"/><circle cx="342.2" cy="245.0" r="2.6"/><circle cx="348.1" cy="244.7" r="2.6"/><circle cx="353.1" cy="244.5" r="2.6"/><circle cx="359.0" cy="244.5" r="2.6"/><circle cx="363.4" cy="243.9" r="2.6"/><circle cx="368.3" cy="242.8" r="2.6"/><circle cx="374.0" cy="241.9" r="2.6"/><circle cx="378.7" cy="241.4" r="2.6"/><circle cx="384.0" cy="241.9" r="2.6"/><circle cx="388.8" cy="240.8" r="2.6"/><circle cx="393.8" cy="239.8" r="2.6"/><circle cx="253.4" cy="259.7" r="2.6"/><circle cx="259.5" cy="259.2" r="2.6"/><circle cx="263.9" cy="258.9" r="2.6"/><circle cx="268.6" cy="258.4" r="2.6"/><circle cx="274.0" cy="256.3" r="2.6"/><circle cx="280.3" cy="257.3" r="2.6"/><circle cx="284.1" cy="256.3" r="2.6"/><circle cx="289.6" cy="255.7" r="2.6"/><circle cx="294.2" cy="254.9" r="2.6"/><circle cx="300.0" cy="254.7" r="2.6"/><circle cx="305.4" cy="254.1" r="2.6"/><circle cx="310.9" cy="253.3" r="2.6"/><circle cx="315.3" cy="252.3" r="2.6"/><circle cx="319.9" cy="252.9" r="2.6"/><circle cx="325.2" cy="252.1" r="2.6"/><circle cx="330.6" cy="251.0" r="2.6"/><circle cx="335.6" cy="250.7" r="2.6"/><circle cx="340.7" cy="250.6" r="2.6"/><circle cx="346.2" cy="249.6" r="2.6"/><circle cx="350.8" cy="249.3" r="2.6"/><circle cx="356.2" cy="249.1" r="2.6"/><circle cx="362.3" cy="248.5" r="2.6"/><circle cx="366.4" cy="247.6" r="2.6"/><circle cx="371.3" cy="246.8" r="2.6"/><circle cx="376.3" cy="246.4" r="2.6"/><circle cx="381.7" cy="246.3" r="2.6"/><circle cx="386.8" cy="245.4" r="2.6"/><circle cx="391.6" cy="245.5" r="2.6"/><circle cx="256.8" cy="263.8" r="2.6"/><circle cx="262.1" cy="262.5" r="2.6"/><circle cx="267.3" cy="263.6" r="2.6"/><circle cx="271.5" cy="262.4" r="2.6"/><circle cx="277.4" cy="261.4" r="2.6"/><circle cx="282.9" cy="260.5" r="2.6"/><circle cx="287.6" cy="260.9" r="2.6"/><circle cx="292.6" cy="259.7" r="2.6"/><circle cx="297.8" cy="259.2" r="2.6"/><circle cx="303.5" cy="258.5" r="2.6"/><circle cx="308.3" cy="257.8" r="2.6"/><circle cx="313.4" cy="257.7" r="2.6"/><circle cx="317.3" cy="257.2" r="2.6"/><circle cx="323.0" cy="256.5" r="2.6"/><circle cx="329.1" cy="255.7" r="2.6"/><circle cx="333.3" cy="256.1" r="2.6"/><circle cx="338.8" cy="255.6" r="2.6"/><circle cx="344.0" cy="254.2" r="2.6"/><circle cx="349.0" cy="254.4" r="2.6"/><circle cx="354.5" cy="253.4" r="2.6"/><circle cx="359.3" cy="252.8" r="2.6"/><circle cx="364.2" cy="253.0" r="2.6"/><circle cx="369.5" cy="251.4" r="2.6"/><circle cx="374.4" cy="251.5" r="2.6"/><circle cx="380.0" cy="250.7" r="2.6"/><circle cx="384.6" cy="250.2" r="2.6"/><circle cx="389.4" cy="249.2" r="2.6"/><circle cx="254.3" cy="268.3" r="2.6"/><circle cx="260.3" cy="267.6" r="2.6"/><circle cx="264.8" cy="267.7" r="2.6"/><circle cx="269.9" cy="266.6" r="2.6"/><circle cx="275.3" cy="266.6" r="2.6"/><circle cx="279.5" cy="265.4" r="2.6"/><circle cx="285.1" cy="264.7" r="2.6"/><circle cx="290.3" cy="264.3" r="2.6"/><circle cx="295.8" cy="263.7" r="2.6"/><circle cx="300.9" cy="263.6" r="2.6"/><circle cx="305.7" cy="263.0" r="2.6"/><circle cx="311.6" cy="262.5" r="2.6"/><circle cx="315.9" cy="261.9" r="2.6"/><circle cx="321.0" cy="261.4" r="2.6"/><circle cx="326.7" cy="260.5" r="2.6"/><circle cx="331.5" cy="260.7" r="2.6"/><circle cx="336.5" cy="259.8" r="2.6"/><circle cx="341.4" cy="258.9" r="2.6"/><circle cx="346.7" cy="259.4" r="2.6"/><circle cx="351.9" cy="257.9" r="2.6"/><circle cx="356.9" cy="257.5" r="2.6"/><circle cx="362.5" cy="257.1" r="2.6"/><circle cx="368.1" cy="256.6" r="2.6"/><circle cx="373.0" cy="256.1" r="2.6"/><circle cx="377.8" cy="254.9" r="2.6"/><circle cx="382.7" cy="254.9" r="2.6"/><circle cx="387.8" cy="253.6" r="2.6"/><circle cx="393.3" cy="253.7" r="2.6"/><circle cx="252.7" cy="272.3" r="2.6"/><circle cx="257.9" cy="272.0" r="2.6"/><circle cx="262.6" cy="271.8" r="2.6"/><circle cx="267.6" cy="271.0" r="2.6"/><circle cx="272.8" cy="270.9" r="2.6"/><circle cx="278.4" cy="270.6" r="2.6"/><circle cx="283.0" cy="269.5" r="2.6"/><circle cx="288.1" cy="269.4" r="2.6"/><circle cx="292.9" cy="269.2" r="2.6"/><circle cx="298.5" cy="267.9" r="2.6"/><circle cx="304.0" cy="268.0" r="2.6"/><circle cx="309.1" cy="267.5" r="2.6"/><circle cx="314.1" cy="267.0" r="2.6"/><circle cx="319.6" cy="266.0" r="2.6"/><circle cx="324.8" cy="265.6" r="2.6"/><circle cx="329.5" cy="264.6" r="2.6"/><circle cx="334.5" cy="264.7" r="2.6"/><circle cx="339.2" cy="264.1" r="2.6"/><circle cx="344.9" cy="263.5" r="2.6"/><circle cx="349.2" cy="262.8" r="2.6"/><circle cx="355.3" cy="262.0" r="2.6"/><circle cx="360.2" cy="260.9" r="2.6"/><circle cx="365.5" cy="261.0" r="2.6"/><circle cx="370.7" cy="260.0" r="2.6"/><circle cx="375.8" cy="260.0" r="2.6"/><circle cx="380.9" cy="259.3" r="2.6"/><circle cx="385.6" cy="259.8" r="2.6"/><circle cx="390.6" cy="258.3" r="2.6"/><circle cx="256.1" cy="277.0" r="2.6"/><circle cx="260.5" cy="277.0" r="2.6"/><circle cx="265.9" cy="275.8" r="2.6"/><circle cx="270.9" cy="275.3" r="2.6"/><circle cx="276.2" cy="275.1" r="2.6"/><circle cx="281.7" cy="274.8" r="2.6"/><circle cx="285.8" cy="274.1" r="2.6"/><circle cx="291.8" cy="273.6" r="2.6"/><circle cx="297.0" cy="272.7" r="2.6"/><circle cx="301.4" cy="272.7" r="2.6"/><circle cx="306.5" cy="271.1" r="2.6"/><circle cx="312.3" cy="271.0" r="2.6"/><circle cx="317.0" cy="270.3" r="2.6"/><circle cx="321.8" cy="269.8" r="2.6"/><circle cx="327.2" cy="269.8" r="2.6"/><circle cx="331.7" cy="269.4" r="2.6"/><circle cx="337.2" cy="268.2" r="2.6"/><circle cx="343.0" cy="268.0" r="2.6"/><circle cx="347.3" cy="268.2" r="2.6"/><circle cx="352.7" cy="267.1" r="2.6"/><circle cx="358.1" cy="266.9" r="2.6"/><circle cx="363.0" cy="266.3" r="2.6"/><circle cx="368.1" cy="265.8" r="2.6"/><circle cx="373.2" cy="264.7" r="2.6"/><circle cx="379.2" cy="264.4" r="2.6"/><circle cx="383.7" cy="264.5" r="2.6"/><circle cx="388.9" cy="262.9" r="2.6"/><circle cx="254.1" cy="281.8" r="2.6"/><circle cx="258.3" cy="281.7" r="2.6"/><circle cx="263.9" cy="281.2" r="2.6"/><circle cx="268.9" cy="280.7" r="2.6"/><circle cx="274.3" cy="280.0" r="2.6"/><circle cx="279.3" cy="279.4" r="2.6"/><circle cx="284.4" cy="278.8" r="2.6"/><circle cx="289.7" cy="278.0" r="2.6"/><circle cx="295.1" cy="277.6" r="2.6"/><circle cx="300.0" cy="277.0" r="2.6"/><circle cx="304.7" cy="277.2" r="2.6"/><circle cx="309.8" cy="275.5" r="2.6"/><circle cx="314.8" cy="275.3" r="2.6"/><circle cx="320.9" cy="275.0" r="2.6"/><circle cx="325.6" cy="274.0" r="2.6"/><circle cx="330.5" cy="274.1" r="2.6"/><circle cx="336.1" cy="273.1" r="2.6"/><circle cx="340.8" cy="272.9" r="2.6"/><circle cx="345.4" cy="272.2" r="2.6"/><circle cx="350.8" cy="270.9" r="2.6"/><circle cx="356.2" cy="271.3" r="2.6"/><circle cx="361.0" cy="270.1" r="2.6"/><circle cx="366.7" cy="270.2" r="2.6"/><circle cx="371.7" cy="270.0" r="2.6"/><circle cx="376.3" cy="269.3" r="2.6"/><circle cx="381.5" cy="268.4" r="2.6"/><circle cx="386.7" cy="267.9" r="2.6"/><circle cx="392.2" cy="267.4" r="2.6"/><circle cx="257.2" cy="286.0" r="2.6"/><circle cx="261.7" cy="285.9" r="2.6"/><circle cx="267.3" cy="284.6" r="2.6"/><circle cx="271.8" cy="284.0" r="2.6"/><circle cx="277.1" cy="283.9" r="2.6"/><circle cx="282.1" cy="283.2" r="2.6"/><circle cx="287.2" cy="282.6" r="2.6"/><circle cx="292.6" cy="282.8" r="2.6"/><circle cx="296.9" cy="281.7" r="2.6"/><circle cx="302.5" cy="281.4" r="2.6"/><circle cx="307.5" cy="280.6" r="2.6"/><circle cx="312.6" cy="280.4" r="2.6"/><circle cx="318.1" cy="279.6" r="2.6"/><circle cx="323.3" cy="279.0" r="2.6"/><circle cx="327.7" cy="278.8" r="2.6"/><circle cx="333.5" cy="278.0" r="2.6"/><circle cx="338.9" cy="277.9" r="2.6"/><circle cx="343.3" cy="276.7" r="2.6"/><circle cx="349.3" cy="276.9" r="2.6"/><circle cx="353.6" cy="275.4" r="2.6"/><circle cx="358.8" cy="275.1" r="2.6"/><circle cx="363.6" cy="274.8" r="2.6"/><circle cx="368.8" cy="273.8" r="2.6"/><circle cx="374.7" cy="273.5" r="2.6"/><circle cx="379.5" cy="273.4" r="2.6"/><circle cx="384.9" cy="272.5" r="2.6"/><circle cx="389.8" cy="271.8" r="2.6"/><circle cx="254.3" cy="290.3" r="2.6"/><circle cx="259.3" cy="290.5" r="2.6"/><circle cx="264.2" cy="289.7" r="2.6"/><circle cx="270.1" cy="289.0" r="2.6"/><circle cx="275.1" cy="288.2" r="2.6"/><circle cx="280.5" cy="288.5" r="2.6"/><circle cx="285.3" cy="286.9" r="2.6"/><circle cx="290.0" cy="287.4" r="2.6"/><circle cx="296.1" cy="286.6" r="2.6"/><circle cx="301.0" cy="285.7" r="2.6"/><circle cx="305.6" cy="285.4" r="2.6"/><circle cx="311.0" cy="284.3" r="2.6"/><circle cx="316.3" cy="284.8" r="2.6"/><circle cx="320.7" cy="283.3" r="2.6"/><circle cx="326.3" cy="283.0" r="2.6"/><circle cx="330.5" cy="283.0" r="2.6"/><circle cx="336.5" cy="282.0" r="2.6"/><circle cx="342.3" cy="281.7" r="2.6"/><circle cx="346.4" cy="281.1" r="2.6"/><circle cx="351.4" cy="280.3" r="2.6"/><circle cx="357.1" cy="279.8" r="2.6"/><circle cx="361.9" cy="280.1" r="2.6"/><circle cx="367.5" cy="279.2" r="2.6"/><circle cx="372.5" cy="278.6" r="2.6"/><circle cx="377.9" cy="277.9" r="2.6"/><circle cx="383.2" cy="277.0" r="2.6"/><circle cx="387.6" cy="276.3" r="2.6"/><circle cx="392.6" cy="276.4" r="2.6"/><circle cx="257.6" cy="295.7" r="2.6"/><circle cx="262.4" cy="294.6" r="2.6"/><circle cx="267.3" cy="294.6" r="2.6"/><circle cx="272.6" cy="292.6" r="2.6"/><circle cx="278.0" cy="292.8" r="2.6"/><circle cx="283.8" cy="292.1" r="2.6"/><circle cx="288.2" cy="291.9" r="2.6"/><circle cx="293.9" cy="291.2" r="2.6"/><circle cx="298.8" cy="290.8" r="2.6"/><circle cx="303.5" cy="290.1" r="2.6"/><circle cx="308.7" cy="289.3" r="2.6"/><circle cx="314.3" cy="288.5" r="2.6"/><circle cx="319.4" cy="288.8" r="2.6"/><circle cx="324.1" cy="287.7" r="2.6"/><circle cx="329.1" cy="287.6" r="2.6"/><circle cx="334.6" cy="287.0" r="2.6"/><circle cx="339.8" cy="286.1" r="2.6"/><circle cx="344.7" cy="285.3" r="2.6"/><circle cx="350.0" cy="285.3" r="2.6"/><circle cx="354.7" cy="285.1" r="2.6"/><circle cx="360.2" cy="283.2" r="2.6"/><circle cx="365.1" cy="283.1" r="2.6"/><circle cx="370.6" cy="284.0" r="2.6"/><circle cx="375.1" cy="282.6" r="2.6"/><circle cx="380.3" cy="282.2" r="2.6"/><circle cx="385.8" cy="281.9" r="2.6"/><circle cx="390.3" cy="281.5" r="2.6"/><circle cx="255.2" cy="299.8" r="2.6"/><circle cx="260.0" cy="299.6" r="2.6"/><circle cx="265.8" cy="298.5" r="2.6"/><circle cx="270.5" cy="297.8" r="2.6"/><circle cx="275.5" cy="297.3" r="2.6"/><circle cx="281.0" cy="296.9" r="2.6"/><circle cx="285.6" cy="296.3" r="2.6"/><circle cx="291.0" cy="295.9" r="2.6"/><circle cx="297.0" cy="295.6" r="2.6"/><circle cx="301.4" cy="294.2" r="2.6"/><circle cx="306.1" cy="293.7" r="2.6"/><circle cx="312.0" cy="293.5" r="2.6"/><circle cx="316.9" cy="293.0" r="2.6"/><circle cx="322.0" cy="293.2" r="2.6"/><circle cx="326.9" cy="292.0" r="2.6"/><circle cx="332.0" cy="291.9" r="2.6"/><circle cx="337.0" cy="290.7" r="2.6"/><circle cx="342.0" cy="290.0" r="2.6"/><circle cx="347.8" cy="290.9" r="2.6"/><circle cx="352.4" cy="289.8" r="2.6"/><circle cx="357.9" cy="288.5" r="2.6"/><circle cx="362.9" cy="288.3" r="2.6"/><circle cx="367.9" cy="288.5" r="2.6"/><circle cx="372.5" cy="287.4" r="2.6"/><circle cx="378.5" cy="286.5" r="2.6"/><circle cx="383.5" cy="286.5" r="2.6"/><circle cx="388.6" cy="285.8" r="2.6"/><circle cx="393.9" cy="284.4" r="2.6"/><circle cx="253.4" cy="304.1" r="2.6"/><circle cx="258.3" cy="304.2" r="2.6"/><circle cx="263.2" cy="303.8" r="2.6"/><circle cx="269.2" cy="302.8" r="2.6"/><circle cx="274.0" cy="302.5" r="2.6"/><circle cx="279.5" cy="301.3" r="2.6"/><circle cx="284.5" cy="301.0" r="2.6"/><circle cx="288.9" cy="300.6" r="2.6"/><circle cx="294.2" cy="299.7" r="2.6"/><circle cx="298.9" cy="299.2" r="2.6"/><circle cx="305.0" cy="299.7" r="2.6"/><circle cx="309.9" cy="298.9" r="2.6"/><circle cx="314.6" cy="297.9" r="2.6"/><circle cx="320.0" cy="297.0" r="2.6"/><circle cx="324.7" cy="296.9" r="2.6"/><circle cx="330.0" cy="295.9" r="2.6"/><circle cx="335.4" cy="295.7" r="2.6"/><circle cx="340.7" cy="295.2" r="2.6"/><circle cx="345.4" cy="294.7" r="2.6"/><circle cx="350.6" cy="293.9" r="2.6"/><circle cx="355.6" cy="293.9" r="2.6"/><circle cx="361.1" cy="293.5" r="2.6"/><circle cx="365.4" cy="292.4" r="2.6"/><circle cx="371.0" cy="292.0" r="2.6"/><circle cx="376.1" cy="291.3" r="2.6"/><circle cx="381.6" cy="291.0" r="2.6"/><circle cx="386.1" cy="290.8" r="2.6"/><circle cx="392.0" cy="289.6" r="2.6"/><circle cx="256.3" cy="308.6" r="2.6"/><circle cx="261.4" cy="308.2" r="2.6"/><circle cx="266.9" cy="307.5" r="2.6"/><circle cx="271.5" cy="306.6" r="2.6"/><circle cx="277.4" cy="306.3" r="2.6"/><circle cx="281.9" cy="306.4" r="2.6"/><circle cx="287.5" cy="305.5" r="2.6"/><circle cx="292.1" cy="305.6" r="2.6"/><circle cx="297.5" cy="304.4" r="2.6"/><circle cx="302.4" cy="303.2" r="2.6"/><circle cx="307.1" cy="303.3" r="2.6"/><circle cx="312.8" cy="302.5" r="2.6"/><circle cx="317.4" cy="301.6" r="2.6"/><circle cx="322.8" cy="301.0" r="2.6"/><circle cx="328.4" cy="301.4" r="2.6"/><circle cx="334.2" cy="300.8" r="2.6"/><circle cx="338.1" cy="299.6" r="2.6"/><circle cx="342.2" cy="299.2" r="2.6"/><circle cx="348.5" cy="299.2" r="2.6"/><circle cx="353.9" cy="298.5" r="2.6"/><circle cx="358.9" cy="298.0" r="2.6"/><circle cx="364.4" cy="296.9" r="2.6"/><circle cx="368.9" cy="296.2" r="2.6"/><circle cx="374.7" cy="296.6" r="2.6"/><circle cx="379.5" cy="295.2" r="2.6"/><circle cx="384.5" cy="295.0" r="2.6"/><circle cx="389.5" cy="294.5" r="2.6"/><circle cx="269.5" cy="311.2" r="2.6"/><circle cx="274.8" cy="311.2" r="2.6"/><circle cx="279.8" cy="310.3" r="2.6"/><circle cx="285.2" cy="310.9" r="2.6"/><circle cx="290.0" cy="309.6" r="2.6"/><circle cx="295.4" cy="308.0" r="2.6"/><circle cx="300.4" cy="308.1" r="2.6"/><circle cx="306.0" cy="307.8" r="2.6"/><circle cx="310.3" cy="307.2" r="2.6"/><circle cx="315.8" cy="306.6" r="2.6"/><circle cx="320.8" cy="305.8" r="2.6"/><circle cx="325.9" cy="306.0" r="2.6"/><circle cx="331.8" cy="305.4" r="2.6"/><circle cx="336.3" cy="305.0" r="2.6"/><circle cx="341.7" cy="304.7" r="2.6"/><circle cx="346.8" cy="303.5" r="2.6"/><circle cx="351.7" cy="303.1" r="2.6"/><circle cx="356.8" cy="302.5" r="2.6"/><circle cx="361.5" cy="301.2" r="2.6"/><circle cx="366.7" cy="300.7" r="2.6"/><circle cx="372.1" cy="300.9" r="2.6"/><circle cx="376.6" cy="300.6" r="2.6"/><circle cx="382.6" cy="299.8" r="2.6"/><circle cx="388.0" cy="299.9" r="2.6"/><circle cx="392.1" cy="299.1" r="2.6"/><circle cx="313.2" cy="310.7" r="2.6"/><circle cx="318.8" cy="310.8" r="2.6"/><circle cx="323.7" cy="309.7" r="2.6"/><circle cx="329.1" cy="310.5" r="2.6"/><circle cx="333.4" cy="309.7" r="2.6"/><circle cx="339.0" cy="309.6" r="2.6"/><circle cx="344.5" cy="308.2" r="2.6"/><circle cx="349.9" cy="307.9" r="2.6"/><circle cx="354.4" cy="307.4" r="2.6"/><circle cx="359.5" cy="306.0" r="2.6"/><circle cx="365.5" cy="306.0" r="2.6"/><circle cx="369.7" cy="305.7" r="2.6"/><circle cx="374.5" cy="304.5" r="2.6"/><circle cx="380.0" cy="304.3" r="2.6"/><circle cx="385.3" cy="304.3" r="2.6"/><circle cx="390.3" cy="303.6" r="2.6"/><circle cx="362.5" cy="310.4" r="2.6"/><circle cx="368.2" cy="310.7" r="2.6"/><circle cx="373.1" cy="309.5" r="2.6"/><circle cx="378.2" cy="309.2" r="2.6"/><circle cx="383.5" cy="308.2" r="2.6"/><circle cx="388.4" cy="308.1" r="2.6"/><circle cx="393.1" cy="307.6" r="2.6"/></g><rect x="169.20" y="229.70" width="72.80" height="59.30" stroke="#111" stroke-width="1.45" fill="none" stroke-dasharray="4.6 2.4"/><line x1="242.00" y1="229.70" x2="255.40" y2="201.00" stroke="#111" stroke-width="1.1" /><line x1="242.00" y1="289.00" x2="255.40" y2="308.50" stroke="#111" stroke-width="1.1" /><rect x="256.40" y="312.40" width="65.30" height="8.00" stroke="#111" stroke-width="1.0" fill="url(#gg)" /><line x1="256.40" y1="320.40" x2="256.40" y2="323.60" stroke="#111" stroke-width="1.0" /><text x="256.40" y="330.56" font-size="8.0" text-anchor="middle">−1</text><line x1="289.10" y1="320.40" x2="289.10" y2="323.60" stroke="#111" stroke-width="1.0" /><text x="289.10" y="330.56" font-size="8.0" text-anchor="middle">0</text><line x1="321.70" y1="320.40" x2="321.70" y2="323.60" stroke="#111" stroke-width="1.0" /><text x="321.70" y="330.56" font-size="8.0" text-anchor="middle">1</text><text x="288.80" y="340.20" font-size="8.0" text-anchor="middle"><tspan font-style="italic">m</tspan><tspan font-style="italic" font-size="6" dy="1.5">z</tspan></text><rect x="462.00" y="16.00" width="221.50" height="92.90" stroke="#222" stroke-width="1.2" fill="none" /><rect x="462.00" y="108.90" width="221.50" height="93.10" stroke="#222" stroke-width="1.2" fill="none" /><rect x="462.00" y="202.00" width="221.50" height="65.00" stroke="#222" stroke-width="1.2" fill="none" /><rect x="462.00" y="267.00" width="221.50" height="65.00" stroke="#222" stroke-width="1.2" fill="none" /><line x1="468.60" y1="108.90" x2="468.60" y2="112.50" stroke="#222" stroke-width="1.1" /><line x1="510.30" y1="108.90" x2="510.30" y2="112.50" stroke="#222" stroke-width="1.1" /><line x1="552.00" y1="108.90" x2="552.00" y2="112.50" stroke="#222" stroke-width="1.1" /><line x1="593.70" y1="108.90" x2="593.70" y2="112.50" stroke="#222" stroke-width="1.1" /><line x1="635.40" y1="108.90" x2="635.40" y2="112.50" stroke="#222" stroke-width="1.1" /><line x1="677.10" y1="108.90" x2="677.10" y2="112.50" stroke="#222" stroke-width="1.1" /><line x1="468.60" y1="202.00" x2="468.60" y2="205.60" stroke="#222" stroke-width="1.1" /><line x1="510.30" y1="202.00" x2="510.30" y2="205.60" stroke="#222" stroke-width="1.1" /><line x1="552.00" y1="202.00" x2="552.00" y2="205.60" stroke="#222" stroke-width="1.1" /><line x1="593.70" y1="202.00" x2="593.70" y2="205.60" stroke="#222" stroke-width="1.1" /><line x1="635.40" y1="202.00" x2="635.40" y2="205.60" stroke="#222" stroke-width="1.1" /><line x1="677.10" y1="202.00" x2="677.10" y2="205.60" stroke="#222" stroke-width="1.1" /><line x1="468.60" y1="267.00" x2="468.60" y2="270.60" stroke="#222" stroke-width="1.1" /><line x1="510.30" y1="267.00" x2="510.30" y2="270.60" stroke="#222" stroke-width="1.1" /><line x1="552.00" y1="267.00" x2="552.00" y2="270.60" stroke="#222" stroke-width="1.1" /><line x1="593.70" y1="267.00" x2="593.70" y2="270.60" stroke="#222" stroke-width="1.1" /><line x1="635.40" y1="267.00" x2="635.40" y2="270.60" stroke="#222" stroke-width="1.1" /><line x1="677.10" y1="267.00" x2="677.10" y2="270.60" stroke="#222" stroke-width="1.1" /><line x1="468.60" y1="332.00" x2="468.60" y2="335.60" stroke="#222" stroke-width="1.1" /><line x1="510.30" y1="332.00" x2="510.30" y2="335.60" stroke="#222" stroke-width="1.1" /><line x1="552.00" y1="332.00" x2="552.00" y2="335.60" stroke="#222" stroke-width="1.1" /><line x1="593.70" y1="332.00" x2="593.70" y2="335.60" stroke="#222" stroke-width="1.1" /><line x1="635.40" y1="332.00" x2="635.40" y2="335.60" stroke="#222" stroke-width="1.1" /><line x1="677.10" y1="332.00" x2="677.10" y2="335.60" stroke="#222" stroke-width="1.1" /><text x="468.60" y="349.01" font-size="10.2" text-anchor="middle">0</text><text x="510.30" y="349.01" font-size="10.2" text-anchor="middle">60</text><text x="552.00" y="349.01" font-size="10.2" text-anchor="middle">120</text><text x="593.70" y="349.01" font-size="10.2" text-anchor="middle">180</text><text x="635.40" y="349.01" font-size="10.2" text-anchor="middle">240</text><text x="677.10" y="349.01" font-size="10.2" text-anchor="middle">300</text><text x="573.00" y="362.30" font-size="10.2" text-anchor="middle" textLength="138" lengthAdjust="spacingAndGlyphs">peak-to-peak amplitude <tspan font-style="italic">A</tspan> [µT]</text><line x1="457.40" y1="29.10" x2="462.00" y2="29.10" stroke="#222" stroke-width="1.1" /><text x="452.60" y="33.11" font-size="10.2" text-anchor="end" textLength="25.6" lengthAdjust="spacingAndGlyphs">0.800</text><line x1="457.40" y1="49.77" x2="462.00" y2="49.77" stroke="#222" stroke-width="1.1" /><text x="452.60" y="53.78" font-size="10.2" text-anchor="end" textLength="25.6" lengthAdjust="spacingAndGlyphs">0.775</text><line x1="457.40" y1="70.44" x2="462.00" y2="70.44" stroke="#222" stroke-width="1.1" /><text x="452.60" y="74.45" font-size="10.2" text-anchor="end" textLength="25.6" lengthAdjust="spacingAndGlyphs">0.750</text><line x1="457.40" y1="91.11" x2="462.00" y2="91.11" stroke="#222" stroke-width="1.1" /><text x="452.60" y="95.12" font-size="10.2" text-anchor="end" textLength="25.6" lengthAdjust="spacingAndGlyphs">0.725</text><line x1="457.40" y1="123.30" x2="462.00" y2="123.30" stroke="#222" stroke-width="1.1" /><text x="452.60" y="127.31" font-size="10.2" text-anchor="end">5</text><line x1="457.40" y1="145.77" x2="462.00" y2="145.77" stroke="#222" stroke-width="1.1" /><text x="452.60" y="149.78" font-size="10.2" text-anchor="end">4</text><line x1="457.40" y1="168.24" x2="462.00" y2="168.24" stroke="#222" stroke-width="1.1" /><text x="452.60" y="172.25" font-size="10.2" text-anchor="end">3</text><line x1="457.40" y1="190.71" x2="462.00" y2="190.71" stroke="#222" stroke-width="1.1" /><text x="452.60" y="194.72" font-size="10.2" text-anchor="end">2</text><line x1="457.40" y1="204.80" x2="462.00" y2="204.80" stroke="#222" stroke-width="1.1" /><text x="452.60" y="208.81" font-size="10.2" text-anchor="end">4</text><line x1="457.40" y1="234.10" x2="462.00" y2="234.10" stroke="#222" stroke-width="1.1" /><text x="452.60" y="238.11" font-size="10.2" text-anchor="end">2</text><line x1="457.40" y1="263.40" x2="462.00" y2="263.40" stroke="#222" stroke-width="1.1" /><text x="452.60" y="267.41" font-size="10.2" text-anchor="end">0</text><line x1="457.40" y1="280.10" x2="462.00" y2="280.10" stroke="#222" stroke-width="1.1" /><text x="452.60" y="284.11" font-size="10.2" text-anchor="end" textLength="22.1" lengthAdjust="spacingAndGlyphs">4000</text><line x1="457.40" y1="305.90" x2="462.00" y2="305.90" stroke="#222" stroke-width="1.1" /><text x="452.60" y="309.91" font-size="10.2" text-anchor="end" textLength="22.1" lengthAdjust="spacingAndGlyphs">3000</text><line x1="457.40" y1="331.70" x2="462.00" y2="331.70" stroke="#222" stroke-width="1.1" /><text x="452.60" y="335.71" font-size="10.2" text-anchor="end" textLength="22.1" lengthAdjust="spacingAndGlyphs">2000</text><text x="420.30" y="61.80" font-size="10.2" text-anchor="middle" transform="rotate(-90 420.30 61.80)">⟨|<tspan font-style="italic">ψ</tspan><tspan font-size="7" dy="1.5">6</tspan><tspan dy="-1.5">|⟩</tspan></text><text x="440.20" y="155.80" font-size="10.2" text-anchor="middle" transform="rotate(-90 440.20 155.80)"><tspan font-style="italic">ξ</tspan><tspan font-size="7" dy="1.5">6</tspan><tspan dy="-1.5"> [</tspan><tspan font-style="italic">r</tspan><tspan font-size="7" dy="1.5">0</tspan><tspan dy="-1.5">]</tspan></text><text x="440.60" y="234.30" font-size="10.2" text-anchor="middle" transform="rotate(-90 440.60 234.30)"><tspan font-style="italic">D</tspan> [µm²/s]</text><text x="423.20" y="299.30" font-size="10.2" text-anchor="middle" transform="rotate(-90 423.20 299.30)"><tspan font-style="italic">N</tspan></text><line x1="468.60" y1="92.90" x2="468.60" y2="95.90" stroke="#3cb371" stroke-width="1.4" /><circle cx="468.60" cy="94.40" r="3.3" fill="#3cb371"/><line x1="510.30" y1="73.70" x2="510.30" y2="77.70" stroke="#3cb371" stroke-width="1.4" /><circle cx="510.30" cy="75.70" r="3.3" fill="#3cb371"/><line x1="552.00" y1="39.40" x2="552.00" y2="45.40" stroke="#3cb371" stroke-width="1.4" /><circle cx="552.00" cy="42.40" r="3.3" fill="#3cb371"/><line x1="593.70" y1="19.90" x2="593.70" y2="30.50" stroke="#3cb371" stroke-width="1.4" /><circle cx="593.70" cy="25.20" r="3.3" fill="#3cb371"/><line x1="635.40" y1="43.30" x2="635.40" y2="48.30" stroke="#3cb371" stroke-width="1.4" /><circle cx="635.40" cy="45.80" r="3.3" fill="#3cb371"/><line x1="677.10" y1="101.50" x2="677.10" y2="103.90" stroke="#3cb371" stroke-width="1.4" /><circle cx="677.10" cy="102.70" r="3.3" fill="#3cb371"/><line x1="468.60" y1="190.50" x2="468.60" y2="192.50" stroke="#e9967a" stroke-width="1.4" /><circle cx="468.60" cy="191.50" r="3.3" fill="#e9967a"/><line x1="510.30" y1="187.60" x2="510.30" y2="189.60" stroke="#e9967a" stroke-width="1.4" /><circle cx="510.30" cy="188.60" r="3.3" fill="#e9967a"/><line x1="552.00" y1="164.00" x2="552.00" y2="170.00" stroke="#e9967a" stroke-width="1.4" /><circle cx="552.00" cy="167.00" r="3.3" fill="#e9967a"/><line x1="593.70" y1="117.80" x2="593.70" y2="143.40" stroke="#e9967a" stroke-width="1.4" /><circle cx="593.70" cy="130.60" r="3.3" fill="#e9967a"/><line x1="635.40" y1="139.00" x2="635.40" y2="141.00" stroke="#e9967a" stroke-width="1.4" /><circle cx="635.40" cy="140.00" r="3.3" fill="#e9967a"/><line x1="677.10" y1="176.80" x2="677.10" y2="178.80" stroke="#e9967a" stroke-width="1.4" /><circle cx="677.10" cy="177.80" r="3.3" fill="#e9967a"/><circle cx="468.60" cy="262.00" r="3.3" fill="#4169e1"/><circle cx="510.30" cy="261.60" r="3.3" fill="#4169e1"/><circle cx="552.00" cy="260.80" r="3.3" fill="#4169e1"/><circle cx="593.70" cy="257.90" r="3.3" fill="#4169e1"/><circle cx="635.40" cy="246.60" r="3.3" fill="#4169e1"/><circle cx="677.10" cy="211.50" r="3.3" fill="#4169e1"/><circle cx="468.60" cy="274.10" r="3.3" fill="#00bfff"/><circle cx="510.30" cy="278.70" r="3.3" fill="#00bfff"/><circle cx="552.00" cy="286.60" r="3.3" fill="#00bfff"/><circle cx="593.70" cy="297.80" r="3.3" fill="#00bfff"/><circle cx="635.40" cy="309.00" r="3.3" fill="#00bfff"/><circle cx="677.10" cy="320.70" r="3.3" fill="#00bfff"/></svg></body></html>
